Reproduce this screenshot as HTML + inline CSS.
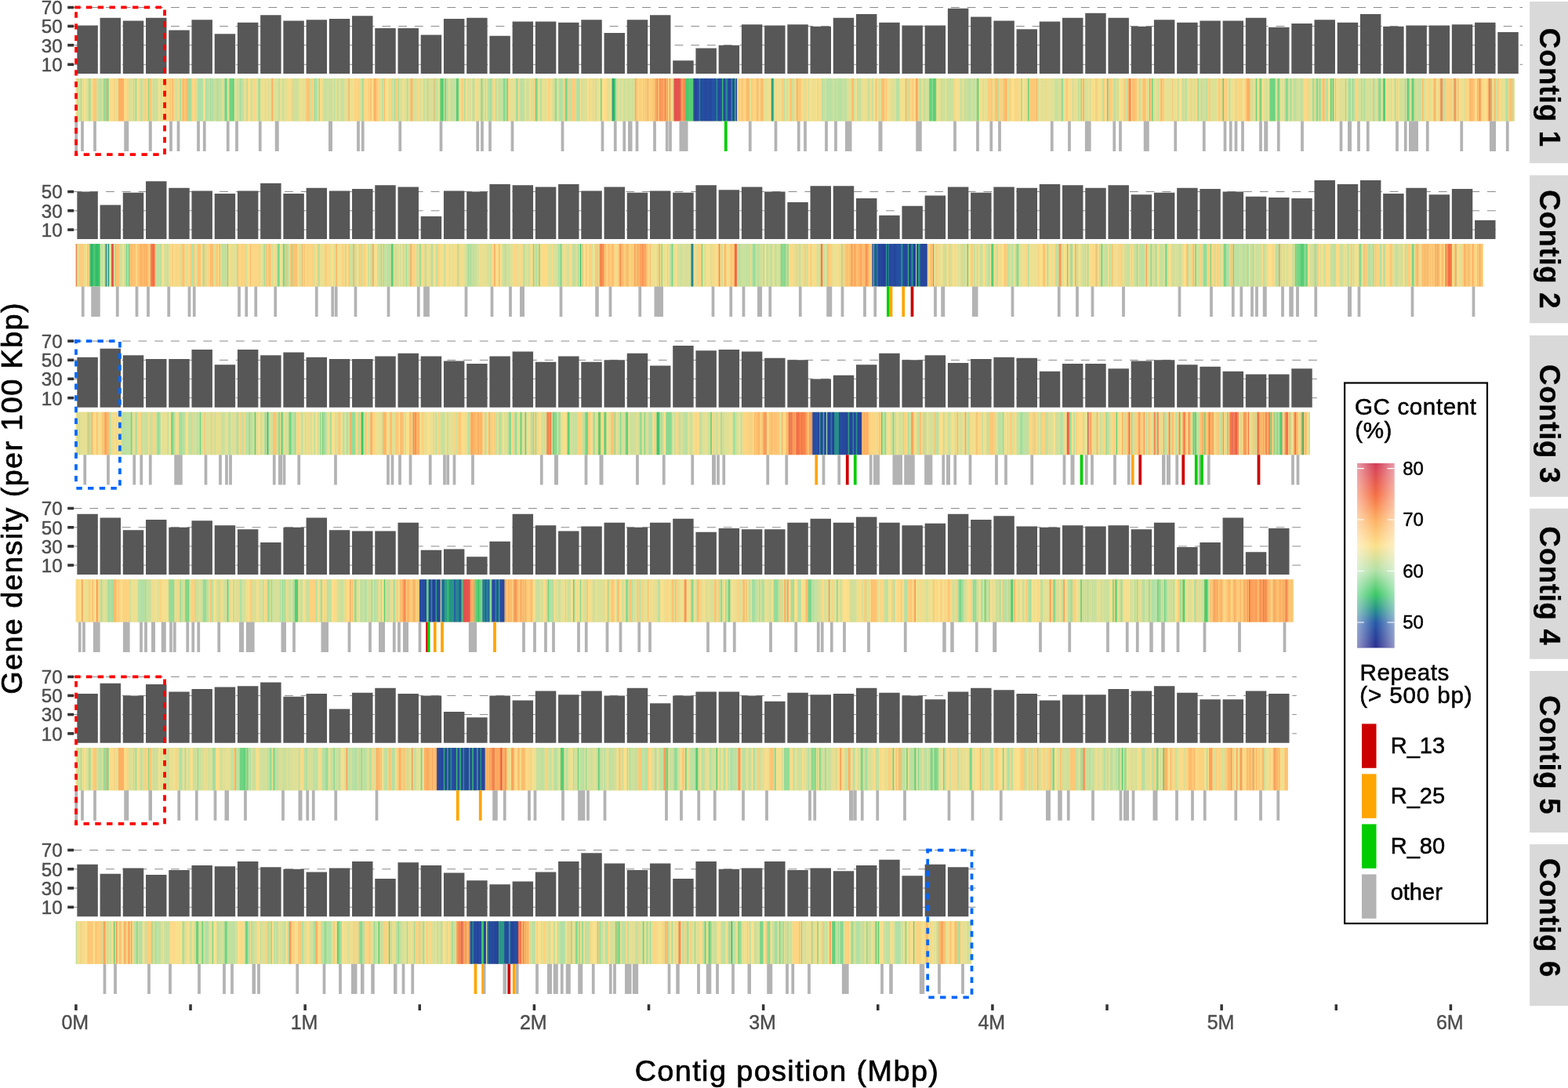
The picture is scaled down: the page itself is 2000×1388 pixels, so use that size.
<!DOCTYPE html>
<html lang="en"><head><meta charset="utf-8"><title>Contig gene density, GC content and repeats</title>
<style>html,body{margin:0;padding:0;background:#fff}body{width:2000px;height:1388px;overflow:hidden}svg{display:block}text{font-family:"Liberation Sans",Arial,Helvetica,sans-serif}.yl{font-size:24.2px;fill:#4d4d4d;text-anchor:end;stroke:#4d4d4d;stroke-width:.45px}.xl{font-size:25px;fill:#4d4d4d;text-anchor:middle;stroke:#4d4d4d;stroke-width:.4px}.st{font-size:36.5px;font-weight:bold;fill:#000;text-anchor:start;letter-spacing:0.75px;stroke:#000;stroke-width:.3px}.at{font-size:37.8px;fill:#000;text-anchor:middle;letter-spacing:1.4px;stroke:#000;stroke-width:.7px}.lt{font-size:29.6px;fill:#000;letter-spacing:.6px;stroke:#000;stroke-width:.55px}.ll{font-size:29px;fill:#000;stroke:#000;stroke-width:.5px}.cl{font-size:24px;fill:#000;stroke:#000;stroke-width:.45px}</style></head><body>
<svg width="2000" height="1388" viewBox="0 0 2000 1388">
<defs><linearGradient id="cb" x1="0" y1="0" x2="0" y2="1">
<stop offset="0.19%" stop-color="#d03a54"/>
<stop offset="2.97%" stop-color="#d94556"/>
<stop offset="16.84%" stop-color="#f46d43"/>
<stop offset="30.72%" stop-color="#fdb062"/>
<stop offset="44.59%" stop-color="#fce08b"/>
<stop offset="58.46%" stop-color="#b0e0a6"/>
<stop offset="70.95%" stop-color="#3cc866"/>
<stop offset="79.83%" stop-color="#248c8c"/>
<stop offset="86.21%" stop-color="#2559a7"/>
<stop offset="100%" stop-color="#2b2d8e"/>
</linearGradient><linearGradient id="cw" x1="0" y1="0" x2="1" y2="0"><stop offset="0" stop-color="#fff" stop-opacity="0.5"/><stop offset="0.5" stop-color="#fff" stop-opacity="0"/><stop offset="1" stop-color="#fff" stop-opacity="0.5"/></linearGradient></defs>
<rect width="2000" height="1388" fill="#fff"/>
<g id="panel1">
<line x1="93.6" x2="1942" y1="82.28" y2="82.28" stroke="#8a8a8a" stroke-width="1" stroke-dasharray="10.8 9.929"/>
<line x1="93.6" x2="1942" y1="57.64" y2="57.64" stroke="#8a8a8a" stroke-width="1" stroke-dasharray="10.8 9.929"/>
<line x1="93.6" x2="1942" y1="33.43" y2="33.43" stroke="#8a8a8a" stroke-width="1" stroke-dasharray="10.8 9.929"/>
<line x1="93.6" x2="1942" y1="9.5" y2="9.5" stroke="#8a8a8a" stroke-width="1" stroke-dasharray="10.8 9.929"/>
<path fill="#575757" d="M98.35 32.44h26.45v61.61h-26.45zM127.57 22.76h26.45v71.29h-26.45zM156.8 26.39h26.45v67.66h-26.45zM186.03 22.76h26.45v71.29h-26.45zM215.25 38.49h26.45v55.56h-26.45zM244.47 25.18h26.45v68.87h-26.45zM273.7 43.33h26.45v50.72h-26.45zM302.93 28.81h26.45v65.24h-26.45zM332.15 19.13h26.45v74.92h-26.45zM361.38 26.39h26.45v67.66h-26.45zM390.6 25.18h26.45v68.87h-26.45zM419.83 23.97h26.45v70.08h-26.45zM449.05 20.34h26.45v73.71h-26.45zM478.27 36.07h26.45v57.98h-26.45zM507.5 36.07h26.45v57.98h-26.45zM536.73 44.54h26.45v49.51h-26.45zM565.95 23.97h26.45v70.08h-26.45zM595.18 22.76h26.45v71.29h-26.45zM624.4 45.75h26.45v48.3h-26.45zM653.62 27.6h26.45v66.45h-26.45zM682.85 27.6h26.45v66.45h-26.45zM712.08 28.81h26.45v65.24h-26.45zM741.3 25.18h26.45v68.87h-26.45zM770.53 42.12h26.45v51.93h-26.45zM799.75 25.18h26.45v68.87h-26.45zM828.98 19.13h26.45v74.92h-26.45zM858.2 77.21h26.45v16.84h-26.45zM887.43 61.48h26.45v32.57h-26.45zM916.65 57.85h26.45v36.2h-26.45zM945.88 31.23h26.45v62.82h-26.45zM975.1 32.44h26.45v61.61h-26.45zM1004.33 31.23h26.45v62.82h-26.45zM1033.55 33.65h26.45v60.4h-26.45zM1062.78 22.76h26.45v71.29h-26.45zM1092 17.92h26.45v76.13h-26.45zM1121.22 28.81h26.45v65.24h-26.45zM1150.45 32.44h26.45v61.61h-26.45zM1179.67 32.44h26.45v61.61h-26.45zM1208.9 10.66h26.45v83.39h-26.45zM1238.12 21.55h26.45v72.5h-26.45zM1267.35 26.39h26.45v67.66h-26.45zM1296.58 37.28h26.45v56.77h-26.45zM1325.8 27.6h26.45v66.45h-26.45zM1355.02 22.76h26.45v71.29h-26.45zM1384.25 16.71h26.45v77.34h-26.45zM1413.47 22.76h26.45v71.29h-26.45zM1442.7 33.65h26.45v60.4h-26.45zM1471.92 25.18h26.45v68.87h-26.45zM1501.15 28.81h26.45v65.24h-26.45zM1530.38 26.39h26.45v67.66h-26.45zM1559.6 26.39h26.45v67.66h-26.45zM1588.83 22.76h26.45v71.29h-26.45zM1618.05 34.86h26.45v59.19h-26.45zM1647.28 30.02h26.45v64.03h-26.45zM1676.5 25.18h26.45v68.87h-26.45zM1705.72 28.81h26.45v65.24h-26.45zM1734.95 17.92h26.45v76.13h-26.45zM1764.17 33.65h26.45v60.4h-26.45zM1793.4 32.44h26.45v61.61h-26.45zM1822.62 32.44h26.45v61.61h-26.45zM1851.85 31.23h26.45v62.82h-26.45zM1881.08 28.81h26.45v65.24h-26.45zM1910.3 40.91h26.45v53.14h-26.45z"/>
<rect x="96.75" y="100.1" width="1835" height="54.45" fill="#ecdc92"/>
<rect x="232.65" y="100.6" width="8.77" height="53.45" fill="#fdbe6e"/>
<rect x="294.03" y="100.6" width="4.38" height="53.45" fill="#63d07b"/>
<rect x="780.64" y="100.6" width="4.38" height="53.45" fill="#3cc866"/>
<rect x="859.55" y="100.6" width="8.77" height="53.45" fill="#e4554e"/>
<rect x="868.32" y="100.6" width="7.31" height="53.45" fill="#f8884f"/>
<rect x="875.62" y="100.6" width="10.23" height="53.45" fill="#58ce76"/>
<rect x="885.85" y="100.6" width="55.53" height="53.45" fill="#27499e"/>
<rect x="1185.42" y="100.6" width="8.77" height="53.45" fill="#6ad280"/>
<rect x="1065.59" y="100.6" width="14.61" height="53.45" fill="#bfe0a1"/>
<path fill="#fcdb87" d="M96.75 100.1h1.46v54.45h-1.46zM111.36 100.1h1.46v54.45h-1.46zM117.21 100.1h1.46v54.45h-1.46zM140.59 100.1h4.38v54.45h-4.38zM159.59 100.1h1.46v54.45h-1.46zM175.66 100.1h2.92v54.45h-2.92zM209.27 100.1h1.46v54.45h-1.46zM226.81 100.1h1.46v54.45h-1.46zM231.19 100.1h1.46v54.45h-1.46zM315.94 100.1h1.46v54.45h-1.46zM367.09 100.1h1.46v54.45h-1.46zM409.47 100.1h1.46v54.45h-1.46zM446 100.1h1.46v54.45h-1.46zM466.46 100.1h2.92v54.45h-2.92zM470.84 100.1h1.46v54.45h-1.46zM475.23 100.1h1.46v54.45h-1.46zM482.53 100.1h1.46v54.45h-1.46zM485.46 100.1h1.46v54.45h-1.46zM533.68 100.1h1.46v54.45h-1.46zM542.45 100.1h1.46v54.45h-1.46zM605.28 100.1h2.92v54.45h-2.92zM630.12 100.1h1.46v54.45h-1.46zM660.81 100.1h1.46v54.45h-1.46zM739.72 100.1h1.46v54.45h-1.46zM752.87 100.1h2.92v54.45h-2.92zM771.87 100.1h2.92v54.45h-2.92zM967.68 100.1h1.46v54.45h-1.46zM980.84 100.1h2.92v54.45h-2.92zM1021.75 100.1h2.92v54.45h-2.92zM1039.29 100.1h1.46v54.45h-1.46zM1043.67 100.1h4.38v54.45h-4.38zM1109.43 100.1h1.46v54.45h-1.46zM1194.19 100.1h1.46v54.45h-1.46zM1365.16 100.1h1.46v54.45h-1.46zM1379.77 100.1h1.46v54.45h-1.46zM1403.15 100.1h2.92v54.45h-2.92zM1451.38 100.1h1.46v54.45h-1.46zM1525.9 100.1h1.46v54.45h-1.46zM1556.59 100.1h1.46v54.45h-1.46zM1574.12 100.1h1.46v54.45h-1.46zM1663.26 100.1h2.92v54.45h-2.92zM1685.18 100.1h1.46v54.45h-1.46zM1749.48 100.1h1.46v54.45h-1.46zM1780.17 100.1h1.46v54.45h-1.46zM1797.7 100.1h1.46v54.45h-1.46zM1819.62 100.1h1.46v54.45h-1.46zM1834.24 100.1h1.46v54.45h-1.46zM1866.38 100.1h1.46v54.45h-1.46zM1882.46 100.1h1.46v54.45h-1.46zM1911.68 100.1h2.92v54.45h-2.92z"/>
<path fill="#cee09b" d="M98.21 100.1h1.46v54.45h-1.46zM123.05 100.1h2.92v54.45h-2.92zM197.58 100.1h4.38v54.45h-4.38zM228.27 100.1h1.46v54.45h-1.46zM301.33 100.1h2.92v54.45h-2.92zM361.25 100.1h1.46v54.45h-1.46zM372.94 100.1h7.31v54.45h-7.31zM416.77 100.1h2.92v54.45h-2.92zM431.39 100.1h1.46v54.45h-1.46zM443.08 100.1h1.46v54.45h-1.46zM495.68 100.1h1.46v54.45h-1.46zM498.61 100.1h4.38v54.45h-4.38zM535.14 100.1h1.46v54.45h-1.46zM557.06 100.1h1.46v54.45h-1.46zM627.2 100.1h1.46v54.45h-1.46zM644.74 100.1h1.46v54.45h-1.46zM671.04 100.1h2.92v54.45h-2.92zM711.96 100.1h1.46v54.45h-1.46zM799.64 100.1h4.38v54.45h-4.38zM805.48 100.1h2.92v54.45h-2.92zM1010.06 100.1h2.92v54.45h-2.92zM1074.36 100.1h1.46v54.45h-1.46zM1156.19 100.1h1.46v54.45h-1.46zM1179.57 100.1h1.46v54.45h-1.46zM1182.5 100.1h2.92v54.45h-2.92zM1201.49 100.1h2.92v54.45h-2.92zM1208.8 100.1h1.46v54.45h-1.46zM1213.18 100.1h2.92v54.45h-2.92zM1229.26 100.1h1.46v54.45h-1.46zM1238.03 100.1h4.38v54.45h-4.38zM1254.1 100.1h1.46v54.45h-1.46zM1286.25 100.1h1.46v54.45h-1.46zM1344.7 100.1h1.46v54.45h-1.46zM1435.3 100.1h2.92v54.45h-2.92zM1501.06 100.1h2.92v54.45h-2.92zM1528.82 100.1h1.46v54.45h-1.46zM1533.21 100.1h4.38v54.45h-4.38zM1575.59 100.1h1.46v54.45h-1.46zM1597.51 100.1h1.46v54.45h-1.46zM1615.04 100.1h1.46v54.45h-1.46zM1653.03 100.1h1.46v54.45h-1.46zM1657.42 100.1h1.46v54.45h-1.46zM1727.56 100.1h1.46v54.45h-1.46zM1734.87 100.1h1.46v54.45h-1.46zM1746.56 100.1h2.92v54.45h-2.92zM1786.01 100.1h1.46v54.45h-1.46zM1790.4 100.1h1.46v54.45h-1.46zM1803.55 100.1h1.46v54.45h-1.46zM1867.85 100.1h1.46v54.45h-1.46z"/>
<path fill="#c7e09e" d="M99.67 100.1h1.46v54.45h-1.46zM128.9 100.1h1.46v54.45h-1.46zM194.66 100.1h2.92v54.45h-2.92zM204.89 100.1h1.46v54.45h-1.46zM248.73 100.1h1.46v54.45h-1.46zM273.57 100.1h2.92v54.45h-2.92zM282.34 100.1h1.46v54.45h-1.46zM304.25 100.1h1.46v54.45h-1.46zM308.64 100.1h2.92v54.45h-2.92zM320.33 100.1h1.46v54.45h-1.46zM345.17 100.1h1.46v54.45h-1.46zM359.78 100.1h1.46v54.45h-1.46zM412.39 100.1h4.38v54.45h-4.38zM419.7 100.1h2.92v54.45h-2.92zM434.31 100.1h4.38v54.45h-4.38zM488.38 100.1h1.46v54.45h-1.46zM539.52 100.1h2.92v54.45h-2.92zM555.6 100.1h1.46v54.45h-1.46zM577.52 100.1h4.38v54.45h-4.38zM584.82 100.1h1.46v54.45h-1.46zM631.59 100.1h2.92v54.45h-2.92zM668.12 100.1h1.46v54.45h-1.46zM704.65 100.1h1.46v54.45h-1.46zM726.57 100.1h1.46v54.45h-1.46zM733.88 100.1h1.46v54.45h-1.46zM760.18 100.1h1.46v54.45h-1.46zM795.25 100.1h2.92v54.45h-2.92zM957.46 100.1h1.46v54.45h-1.46zM986.68 100.1h1.46v54.45h-1.46zM1049.52 100.1h2.92v54.45h-2.92zM1067.05 100.1h1.46v54.45h-1.46zM1075.82 100.1h1.46v54.45h-1.46zM1088.97 100.1h1.46v54.45h-1.46zM1106.51 100.1h2.92v54.45h-2.92zM1157.65 100.1h1.46v54.45h-1.46zM1204.42 100.1h1.46v54.45h-1.46zM1211.72 100.1h1.46v54.45h-1.46zM1232.18 100.1h2.92v54.45h-2.92zM1278.94 100.1h1.46v54.45h-1.46zM1346.16 100.1h2.92v54.45h-2.92zM1518.59 100.1h1.46v54.45h-1.46zM1566.82 100.1h2.92v54.45h-2.92zM1648.65 100.1h1.46v54.45h-1.46zM1654.5 100.1h1.46v54.45h-1.46zM1740.71 100.1h1.46v54.45h-1.46zM1774.32 100.1h1.46v54.45h-1.46zM1809.39 100.1h1.46v54.45h-1.46zM1835.7 100.1h1.46v54.45h-1.46z"/>
<path fill="#fcd683" d="M101.13 100.1h1.46v54.45h-1.46zM161.05 100.1h2.92v54.45h-2.92zM187.35 100.1h1.46v54.45h-1.46zM212.19 100.1h2.92v54.45h-2.92zM244.34 100.1h4.38v54.45h-4.38zM323.25 100.1h2.92v54.45h-2.92zM453.31 100.1h2.92v54.45h-2.92zM463.54 100.1h2.92v54.45h-2.92zM497.15 100.1h1.46v54.45h-1.46zM532.22 100.1h1.46v54.45h-1.46zM587.75 100.1h1.46v54.45h-1.46zM628.66 100.1h1.46v54.45h-1.46zM818.63 100.1h1.46v54.45h-1.46zM856.63 100.1h1.46v54.45h-1.46zM939.92 100.1h2.92v54.45h-2.92zM947.23 100.1h4.38v54.45h-4.38zM960.38 100.1h4.38v54.45h-4.38zM1027.6 100.1h1.46v54.45h-1.46zM1160.58 100.1h2.92v54.45h-2.92zM1164.96 100.1h1.46v54.45h-1.46zM1293.55 100.1h5.85v54.45h-5.85zM1319.86 100.1h1.46v54.45h-1.46zM1479.14 100.1h1.46v54.45h-1.46zM1517.13 100.1h1.46v54.45h-1.46zM1524.44 100.1h1.46v54.45h-1.46zM1577.05 100.1h4.38v54.45h-4.38zM1587.28 100.1h1.46v54.45h-1.46zM1666.19 100.1h1.46v54.45h-1.46zM1669.11 100.1h1.46v54.45h-1.46zM1676.42 100.1h1.46v54.45h-1.46zM1729.02 100.1h2.92v54.45h-2.92zM1821.08 100.1h2.92v54.45h-2.92zM1869.31 100.1h1.46v54.45h-1.46zM1891.23 100.1h1.46v54.45h-1.46zM1895.61 100.1h1.46v54.45h-1.46z"/>
<path fill="#a3dd9f" d="M102.6 100.1h1.46v54.45h-1.46zM112.82 100.1h2.92v54.45h-2.92zM229.73 100.1h1.46v54.45h-1.46zM239.96 100.1h4.38v54.45h-4.38zM267.72 100.1h1.46v54.45h-1.46zM276.49 100.1h1.46v54.45h-1.46zM305.72 100.1h1.46v54.45h-1.46zM329.1 100.1h2.92v54.45h-2.92zM502.99 100.1h1.46v54.45h-1.46zM507.38 100.1h1.46v54.45h-1.46zM519.07 100.1h1.46v54.45h-1.46zM552.68 100.1h1.46v54.45h-1.46zM592.13 100.1h1.46v54.45h-1.46zM612.59 100.1h1.46v54.45h-1.46zM624.28 100.1h2.92v54.45h-2.92zM657.89 100.1h2.92v54.45h-2.92zM1375.39 100.1h1.46v54.45h-1.46zM1673.49 100.1h2.92v54.45h-2.92zM1683.72 100.1h1.46v54.45h-1.46zM1702.72 100.1h1.46v54.45h-1.46zM1720.25 100.1h2.92v54.45h-2.92zM1736.33 100.1h1.46v54.45h-1.46zM1739.25 100.1h1.46v54.45h-1.46zM1750.94 100.1h1.46v54.45h-1.46zM1778.71 100.1h1.46v54.45h-1.46zM1791.86 100.1h1.46v54.45h-1.46z"/>
<path fill="#dee096" d="M104.06 100.1h2.92v54.45h-2.92zM193.2 100.1h1.46v54.45h-1.46zM222.42 100.1h1.46v54.45h-1.46zM318.87 100.1h1.46v54.45h-1.46zM348.09 100.1h7.31v54.45h-7.31zM427 100.1h1.46v54.45h-1.46zM438.69 100.1h1.46v54.45h-1.46zM520.53 100.1h2.92v54.45h-2.92zM530.76 100.1h1.46v54.45h-1.46zM558.52 100.1h1.46v54.45h-1.46zM597.98 100.1h1.46v54.45h-1.46zM676.89 100.1h1.46v54.45h-1.46zM695.88 100.1h1.46v54.45h-1.46zM706.11 100.1h1.46v54.45h-1.46zM744.11 100.1h2.92v54.45h-2.92zM751.41 100.1h1.46v54.45h-1.46zM793.79 100.1h1.46v54.45h-1.46zM992.53 100.1h1.46v54.45h-1.46zM1024.68 100.1h2.92v54.45h-2.92zM1080.2 100.1h4.38v54.45h-4.38zM1122.58 100.1h1.46v54.45h-1.46zM1137.2 100.1h5.85v54.45h-5.85zM1226.33 100.1h2.92v54.45h-2.92zM1324.24 100.1h1.46v54.45h-1.46zM1327.16 100.1h2.92v54.45h-2.92zM1341.78 100.1h1.46v54.45h-1.46zM1419.23 100.1h1.46v54.45h-1.46zM1432.38 100.1h1.46v54.45h-1.46zM1464.53 100.1h1.46v54.45h-1.46zM1474.76 100.1h1.46v54.45h-1.46zM1498.14 100.1h1.46v54.45h-1.46zM1509.83 100.1h1.46v54.45h-1.46zM1521.52 100.1h2.92v54.45h-2.92zM1543.44 100.1h8.77v54.45h-8.77zM1647.19 100.1h1.46v54.45h-1.46zM1667.65 100.1h1.46v54.45h-1.46zM1670.57 100.1h1.46v54.45h-1.46zM1708.56 100.1h7.31v54.45h-7.31zM1737.79 100.1h1.46v54.45h-1.46zM1753.86 100.1h2.92v54.45h-2.92zM1762.63 100.1h1.46v54.45h-1.46zM1824.01 100.1h1.46v54.45h-1.46zM1908.76 100.1h1.46v54.45h-1.46zM1918.99 100.1h1.46v54.45h-1.46zM1930.68 100.1h1.07v54.45h-1.07z"/>
<path fill="#fce08b" d="M106.98 100.1h1.46v54.45h-1.46zM139.13 100.1h1.46v54.45h-1.46zM158.12 100.1h1.46v54.45h-1.46zM201.96 100.1h1.46v54.45h-1.46zM317.41 100.1h1.46v54.45h-1.46zM408.01 100.1h1.46v54.45h-1.46zM450.38 100.1h1.46v54.45h-1.46zM473.77 100.1h1.46v54.45h-1.46zM491.3 100.1h4.38v54.45h-4.38zM600.9 100.1h1.46v54.45h-1.46zM748.49 100.1h1.46v54.45h-1.46zM767.49 100.1h4.38v54.45h-4.38zM852.24 100.1h1.46v54.45h-1.46zM855.16 100.1h1.46v54.45h-1.46zM944.3 100.1h1.46v54.45h-1.46zM991.07 100.1h1.46v54.45h-1.46zM1029.06 100.1h1.46v54.45h-1.46zM1040.75 100.1h1.46v54.45h-1.46zM1166.42 100.1h1.46v54.45h-1.46zM1205.88 100.1h1.46v54.45h-1.46zM1289.17 100.1h4.38v54.45h-4.38zM1300.86 100.1h1.46v54.45h-1.46zM1303.78 100.1h2.92v54.45h-2.92zM1376.85 100.1h1.46v54.45h-1.46zM1392.92 100.1h1.46v54.45h-1.46zM1395.85 100.1h1.46v54.45h-1.46zM1426.53 100.1h4.38v54.45h-4.38zM1442.61 100.1h1.46v54.45h-1.46zM1499.6 100.1h1.46v54.45h-1.46zM1503.98 100.1h2.92v54.45h-2.92zM1585.81 100.1h1.46v54.45h-1.46zM1598.97 100.1h1.46v54.45h-1.46zM1626.73 100.1h1.46v54.45h-1.46zM1693.95 100.1h2.92v54.45h-2.92zM1767.02 100.1h1.46v54.45h-1.46zM1775.78 100.1h1.46v54.45h-1.46zM1783.09 100.1h1.46v54.45h-1.46zM1851.77 100.1h1.46v54.45h-1.46zM1872.23 100.1h1.46v54.45h-1.46zM1881 100.1h1.46v54.45h-1.46zM1889.77 100.1h1.46v54.45h-1.46zM1892.69 100.1h2.92v54.45h-2.92z"/>
<path fill="#f4e08e" d="M108.44 100.1h1.46v54.45h-1.46zM174.2 100.1h1.46v54.45h-1.46zM203.42 100.1h1.46v54.45h-1.46zM218.04 100.1h1.46v54.45h-1.46zM258.95 100.1h2.92v54.45h-2.92zM289.64 100.1h1.46v54.45h-1.46zM311.56 100.1h1.46v54.45h-1.46zM333.48 100.1h1.46v54.45h-1.46zM343.71 100.1h1.46v54.45h-1.46zM370.01 100.1h1.46v54.45h-1.46zM405.08 100.1h1.46v54.45h-1.46zM424.08 100.1h1.46v54.45h-1.46zM586.29 100.1h1.46v54.45h-1.46zM675.42 100.1h1.46v54.45h-1.46zM697.34 100.1h1.46v54.45h-1.46zM749.95 100.1h1.46v54.45h-1.46zM777.72 100.1h1.46v54.45h-1.46zM827.4 100.1h1.46v54.45h-1.46zM955.99 100.1h1.46v54.45h-1.46zM979.38 100.1h1.46v54.45h-1.46zM1001.29 100.1h1.46v54.45h-1.46zM1005.68 100.1h1.46v54.45h-1.46zM1031.98 100.1h4.38v54.45h-4.38zM1091.9 100.1h1.46v54.45h-1.46zM1113.81 100.1h2.92v54.45h-2.92zM1131.35 100.1h1.46v54.45h-1.46zM1148.89 100.1h5.85v54.45h-5.85zM1195.65 100.1h1.46v54.45h-1.46zM1219.03 100.1h4.38v54.45h-4.38zM1248.25 100.1h4.38v54.45h-4.38zM1255.56 100.1h1.46v54.45h-1.46zM1325.7 100.1h1.46v54.45h-1.46zM1362.24 100.1h2.92v54.45h-2.92zM1391.46 100.1h1.46v54.45h-1.46zM1394.38 100.1h1.46v54.45h-1.46zM1400.23 100.1h2.92v54.45h-2.92zM1430.92 100.1h1.46v54.45h-1.46zM1449.91 100.1h1.46v54.45h-1.46zM1455.76 100.1h1.46v54.45h-1.46zM1461.6 100.1h1.46v54.45h-1.46zM1552.2 100.1h1.46v54.45h-1.46zM1565.36 100.1h1.46v54.45h-1.46zM1569.74 100.1h1.46v54.45h-1.46zM1572.66 100.1h1.46v54.45h-1.46zM1584.35 100.1h1.46v54.45h-1.46zM1603.35 100.1h2.92v54.45h-2.92zM1609.2 100.1h2.92v54.45h-2.92zM1636.96 100.1h1.46v54.45h-1.46zM1672.03 100.1h1.46v54.45h-1.46zM1701.26 100.1h1.46v54.45h-1.46zM1825.47 100.1h2.92v54.45h-2.92zM1862 100.1h1.46v54.45h-1.46z"/>
<path fill="#d6e098" d="M109.9 100.1h1.46v54.45h-1.46zM130.36 100.1h1.46v54.45h-1.46zM163.97 100.1h4.38v54.45h-4.38zM171.28 100.1h1.46v54.45h-1.46zM181.51 100.1h2.92v54.45h-2.92zM223.88 100.1h2.92v54.45h-2.92zM291.1 100.1h1.46v54.45h-1.46zM298.41 100.1h1.46v54.45h-1.46zM337.86 100.1h1.46v54.45h-1.46zM342.25 100.1h1.46v54.45h-1.46zM380.24 100.1h1.46v54.45h-1.46zM459.15 100.1h2.92v54.45h-2.92zM483.99 100.1h1.46v54.45h-1.46zM508.84 100.1h4.38v54.45h-4.38zM517.6 100.1h1.46v54.45h-1.46zM526.37 100.1h4.38v54.45h-4.38zM548.29 100.1h4.38v54.45h-4.38zM565.83 100.1h1.46v54.45h-1.46zM573.13 100.1h1.46v54.45h-1.46zM596.51 100.1h1.46v54.45h-1.46zM599.44 100.1h1.46v54.45h-1.46zM638.89 100.1h1.46v54.45h-1.46zM662.27 100.1h1.46v54.45h-1.46zM673.96 100.1h1.46v54.45h-1.46zM678.35 100.1h1.46v54.45h-1.46zM741.18 100.1h2.92v54.45h-2.92zM747.03 100.1h1.46v54.45h-1.46zM755.8 100.1h1.46v54.45h-1.46zM774.79 100.1h1.46v54.45h-1.46zM798.17 100.1h1.46v54.45h-1.46zM804.02 100.1h1.46v54.45h-1.46zM808.4 100.1h1.46v54.45h-1.46zM1002.76 100.1h2.92v54.45h-2.92zM1030.52 100.1h1.46v54.45h-1.46zM1042.21 100.1h1.46v54.45h-1.46zM1052.44 100.1h1.46v54.45h-1.46zM1062.67 100.1h1.46v54.45h-1.46zM1094.82 100.1h1.46v54.45h-1.46zM1121.12 100.1h1.46v54.45h-1.46zM1176.65 100.1h1.46v54.45h-1.46zM1181.03 100.1h1.46v54.45h-1.46zM1197.11 100.1h1.46v54.45h-1.46zM1349.08 100.1h2.92v54.45h-2.92zM1382.69 100.1h4.38v54.45h-4.38zM1390 100.1h1.46v54.45h-1.46zM1398.77 100.1h1.46v54.45h-1.46zM1454.3 100.1h1.46v54.45h-1.46zM1463.07 100.1h1.46v54.45h-1.46zM1470.37 100.1h2.92v54.45h-2.92zM1476.22 100.1h2.92v54.45h-2.92zM1530.29 100.1h1.46v54.45h-1.46zM1582.89 100.1h1.46v54.45h-1.46zM1594.58 100.1h2.92v54.45h-2.92zM1613.58 100.1h1.46v54.45h-1.46zM1635.5 100.1h1.46v54.45h-1.46zM1642.81 100.1h2.92v54.45h-2.92zM1655.96 100.1h1.46v54.45h-1.46zM1680.8 100.1h1.46v54.45h-1.46zM1689.57 100.1h1.46v54.45h-1.46zM1731.94 100.1h2.92v54.45h-2.92zM1742.17 100.1h4.38v54.45h-4.38zM1761.17 100.1h1.46v54.45h-1.46zM1784.55 100.1h1.46v54.45h-1.46zM1787.47 100.1h2.92v54.45h-2.92zM1806.47 100.1h1.46v54.45h-1.46z"/>
<path fill="#e5e093" d="M115.75 100.1h1.46v54.45h-1.46zM146.43 100.1h2.92v54.45h-2.92zM168.35 100.1h1.46v54.45h-1.46zM250.19 100.1h1.46v54.45h-1.46zM299.87 100.1h1.46v54.45h-1.46zM321.79 100.1h1.46v54.45h-1.46zM326.17 100.1h1.46v54.45h-1.46zM332.02 100.1h1.46v54.45h-1.46zM340.79 100.1h1.46v54.45h-1.46zM362.71 100.1h4.38v54.45h-4.38zM386.09 100.1h4.38v54.45h-4.38zM399.24 100.1h1.46v54.45h-1.46zM410.93 100.1h1.46v54.45h-1.46zM428.47 100.1h1.46v54.45h-1.46zM432.85 100.1h1.46v54.45h-1.46zM440.16 100.1h2.92v54.45h-2.92zM516.14 100.1h1.46v54.45h-1.46zM559.98 100.1h1.46v54.45h-1.46zM571.67 100.1h1.46v54.45h-1.46zM590.67 100.1h1.46v54.45h-1.46zM608.21 100.1h4.38v54.45h-4.38zM616.97 100.1h1.46v54.45h-1.46zM634.51 100.1h1.46v54.45h-1.46zM649.12 100.1h8.77v54.45h-8.77zM692.96 100.1h2.92v54.45h-2.92zM757.26 100.1h1.46v54.45h-1.46zM776.25 100.1h1.46v54.45h-1.46zM787.94 100.1h2.92v54.45h-2.92zM974.99 100.1h4.38v54.45h-4.38zM1012.99 100.1h2.92v54.45h-2.92zM1084.59 100.1h1.46v54.45h-1.46zM1097.74 100.1h2.92v54.45h-2.92zM1103.59 100.1h1.46v54.45h-1.46zM1110.89 100.1h1.46v54.45h-1.46zM1118.2 100.1h2.92v54.45h-2.92zM1128.43 100.1h1.46v54.45h-1.46zM1135.73 100.1h1.46v54.45h-1.46zM1243.87 100.1h1.46v54.45h-1.46zM1252.64 100.1h1.46v54.45h-1.46zM1257.02 100.1h2.92v54.45h-2.92zM1265.79 100.1h2.92v54.45h-2.92zM1299.4 100.1h1.46v54.45h-1.46zM1306.71 100.1h2.92v54.45h-2.92zM1330.09 100.1h2.92v54.45h-2.92zM1334.47 100.1h7.31v54.45h-7.31zM1343.24 100.1h1.46v54.45h-1.46zM1352.01 100.1h1.46v54.45h-1.46zM1371 100.1h4.38v54.45h-4.38zM1387.08 100.1h2.92v54.45h-2.92zM1423.61 100.1h1.46v54.45h-1.46zM1486.45 100.1h8.77v54.45h-8.77zM1506.9 100.1h1.46v54.45h-1.46zM1520.06 100.1h1.46v54.45h-1.46zM1612.12 100.1h1.46v54.45h-1.46zM1616.5 100.1h2.92v54.45h-2.92zM1707.1 100.1h1.46v54.45h-1.46zM1723.18 100.1h1.46v54.45h-1.46zM1769.94 100.1h4.38v54.45h-4.38zM1777.25 100.1h1.46v54.45h-1.46zM1812.32 100.1h1.46v54.45h-1.46zM1816.7 100.1h1.46v54.45h-1.46zM1902.92 100.1h2.92v54.45h-2.92zM1914.61 100.1h2.92v54.45h-2.92z"/>
<path fill="#fcc876" d="M118.67 100.1h4.38v54.45h-4.38zM210.73 100.1h1.46v54.45h-1.46zM479.61 100.1h1.46v54.45h-1.46zM589.21 100.1h1.46v54.45h-1.46zM815.71 100.1h1.46v54.45h-1.46zM820.09 100.1h1.46v54.45h-1.46zM823.02 100.1h1.46v54.45h-1.46zM831.78 100.1h2.92v54.45h-2.92zM839.09 100.1h1.46v54.45h-1.46zM942.84 100.1h1.46v54.45h-1.46zM1017.37 100.1h4.38v54.45h-4.38zM1129.89 100.1h1.46v54.45h-1.46zM1163.5 100.1h1.46v54.45h-1.46zM1314.01 100.1h4.38v54.45h-4.38zM1397.31 100.1h1.46v54.45h-1.46zM1407.54 100.1h1.46v54.45h-1.46zM1433.84 100.1h1.46v54.45h-1.46zM1483.52 100.1h1.46v54.45h-1.46zM1495.21 100.1h1.46v54.45h-1.46zM1541.98 100.1h1.46v54.45h-1.46zM1588.74 100.1h1.46v54.45h-1.46zM1850.31 100.1h1.46v54.45h-1.46zM1910.22 100.1h1.46v54.45h-1.46z"/>
<path fill="#b8e0a3" d="M125.98 100.1h2.92v54.45h-2.92zM169.81 100.1h1.46v54.45h-1.46zM425.54 100.1h1.46v54.45h-1.46zM486.92 100.1h1.46v54.45h-1.46zM543.91 100.1h2.92v54.45h-2.92zM568.75 100.1h2.92v54.45h-2.92zM574.6 100.1h1.46v54.45h-1.46zM602.36 100.1h1.46v54.45h-1.46zM618.43 100.1h1.46v54.45h-1.46zM621.36 100.1h2.92v54.45h-2.92zM665.2 100.1h2.92v54.45h-2.92zM688.58 100.1h2.92v54.45h-2.92zM1055.36 100.1h5.85v54.45h-5.85zM1069.98 100.1h4.38v54.45h-4.38zM1096.28 100.1h1.46v54.45h-1.46zM1143.04 100.1h4.38v54.45h-4.38zM1200.03 100.1h1.46v54.45h-1.46zM1207.34 100.1h1.46v54.45h-1.46zM1224.87 100.1h1.46v54.45h-1.46zM1235.1 100.1h2.92v54.45h-2.92zM1242.41 100.1h1.46v54.45h-1.46zM1322.78 100.1h1.46v54.45h-1.46zM1368.08 100.1h1.46v54.45h-1.46zM1406.07 100.1h1.46v54.45h-1.46zM1413.38 100.1h1.46v54.45h-1.46zM1420.69 100.1h1.46v54.45h-1.46zM1425.07 100.1h1.46v54.45h-1.46zM1508.37 100.1h1.46v54.45h-1.46zM1511.29 100.1h2.92v54.45h-2.92zM1531.75 100.1h1.46v54.45h-1.46zM1638.42 100.1h1.46v54.45h-1.46zM1650.11 100.1h2.92v54.45h-2.92zM1658.88 100.1h1.46v54.45h-1.46zM1677.88 100.1h1.46v54.45h-1.46zM1691.03 100.1h2.92v54.45h-2.92zM1718.79 100.1h1.46v54.45h-1.46zM1756.79 100.1h1.46v54.45h-1.46zM1799.16 100.1h1.46v54.45h-1.46zM1805.01 100.1h1.46v54.45h-1.46zM1929.22 100.1h1.46v54.45h-1.46z"/>
<path fill="#96db98" d="M131.82 100.1h4.38v54.45h-4.38zM137.67 100.1h1.46v54.45h-1.46zM172.74 100.1h1.46v54.45h-1.46zM400.7 100.1h1.46v54.45h-1.46zM406.55 100.1h1.46v54.45h-1.46zM462.07 100.1h1.46v54.45h-1.46zM707.57 100.1h2.92v54.45h-2.92zM1188.34 100.1h1.46v54.45h-1.46zM1245.33 100.1h1.46v54.45h-1.46zM1302.32 100.1h1.46v54.45h-1.46zM1353.47 100.1h2.92v54.45h-2.92zM1527.36 100.1h1.46v54.45h-1.46zM1645.73 100.1h1.46v54.45h-1.46zM1682.26 100.1h1.46v54.45h-1.46zM1715.87 100.1h1.46v54.45h-1.46zM1724.64 100.1h1.46v54.45h-1.46z"/>
<path fill="#f99556" d="M136.21 100.1h1.46v54.45h-1.46zM840.55 100.1h1.46v54.45h-1.46zM843.47 100.1h1.46v54.45h-1.46zM853.7 100.1h1.46v54.45h-1.46zM868.32 100.1h1.46v54.45h-1.46zM1856.16 100.1h1.46v54.45h-1.46z"/>
<path fill="#fcd27f" d="M144.97 100.1h1.46v54.45h-1.46zM185.89 100.1h1.46v54.45h-1.46zM215.12 100.1h1.46v54.45h-1.46zM220.96 100.1h1.46v54.45h-1.46zM313.02 100.1h1.46v54.45h-1.46zM371.47 100.1h1.46v54.45h-1.46zM396.32 100.1h1.46v54.45h-1.46zM451.85 100.1h1.46v54.45h-1.46zM456.23 100.1h2.92v54.45h-2.92zM546.83 100.1h1.46v54.45h-1.46zM647.66 100.1h1.46v54.45h-1.46zM679.81 100.1h2.92v54.45h-2.92zM698.81 100.1h2.92v54.45h-2.92zM717.8 100.1h2.92v54.45h-2.92zM758.72 100.1h1.46v54.45h-1.46zM812.79 100.1h2.92v54.45h-2.92zM817.17 100.1h1.46v54.45h-1.46zM989.6 100.1h1.46v54.45h-1.46zM1216.11 100.1h1.46v54.45h-1.46zM1274.56 100.1h4.38v54.45h-4.38zM1309.63 100.1h1.46v54.45h-1.46zM1312.55 100.1h1.46v54.45h-1.46zM1333.01 100.1h1.46v54.45h-1.46zM1417.77 100.1h1.46v54.45h-1.46zM1540.51 100.1h1.46v54.45h-1.46zM1560.97 100.1h2.92v54.45h-2.92zM1581.43 100.1h1.46v54.45h-1.46zM1661.8 100.1h1.46v54.45h-1.46zM1844.46 100.1h5.85v54.45h-5.85zM1870.77 100.1h1.46v54.45h-1.46zM1897.07 100.1h1.46v54.45h-1.46zM1923.38 100.1h1.46v54.45h-1.46z"/>
<path fill="#ede090" d="M149.36 100.1h1.46v54.45h-1.46zM206.35 100.1h2.92v54.45h-2.92zM283.8 100.1h1.46v54.45h-1.46zM327.64 100.1h1.46v54.45h-1.46zM334.94 100.1h2.92v54.45h-2.92zM339.33 100.1h1.46v54.45h-1.46zM356.86 100.1h2.92v54.45h-2.92zM368.55 100.1h1.46v54.45h-1.46zM381.7 100.1h4.38v54.45h-4.38zM447.46 100.1h2.92v54.45h-2.92zM513.22 100.1h2.92v54.45h-2.92zM536.6 100.1h2.92v54.45h-2.92zM593.59 100.1h2.92v54.45h-2.92zM619.9 100.1h1.46v54.45h-1.46zM669.58 100.1h1.46v54.45h-1.46zM685.65 100.1h2.92v54.45h-2.92zM691.5 100.1h1.46v54.45h-1.46zM701.73 100.1h2.92v54.45h-2.92zM710.5 100.1h1.46v54.45h-1.46zM761.64 100.1h4.38v54.45h-4.38zM779.18 100.1h1.46v54.45h-1.46zM792.33 100.1h1.46v54.45h-1.46zM973.53 100.1h1.46v54.45h-1.46zM988.14 100.1h1.46v54.45h-1.46zM993.99 100.1h2.92v54.45h-2.92zM1036.37 100.1h2.92v54.45h-2.92zM1090.43 100.1h1.46v54.45h-1.46zM1100.66 100.1h2.92v54.45h-2.92zM1105.05 100.1h1.46v54.45h-1.46zM1132.81 100.1h2.92v54.45h-2.92zM1147.42 100.1h1.46v54.45h-1.46zM1170.81 100.1h1.46v54.45h-1.46zM1175.19 100.1h1.46v54.45h-1.46zM1198.57 100.1h1.46v54.45h-1.46zM1217.57 100.1h1.46v54.45h-1.46zM1223.41 100.1h1.46v54.45h-1.46zM1284.79 100.1h1.46v54.45h-1.46zM1356.39 100.1h2.92v54.45h-2.92zM1366.62 100.1h1.46v54.45h-1.46zM1369.54 100.1h1.46v54.45h-1.46zM1409 100.1h2.92v54.45h-2.92zM1467.45 100.1h1.46v54.45h-1.46zM1473.29 100.1h1.46v54.45h-1.46zM1484.99 100.1h1.46v54.45h-1.46zM1496.68 100.1h1.46v54.45h-1.46zM1514.21 100.1h2.92v54.45h-2.92zM1571.2 100.1h1.46v54.45h-1.46zM1632.58 100.1h2.92v54.45h-2.92zM1704.18 100.1h2.92v54.45h-2.92zM1717.33 100.1h1.46v54.45h-1.46zM1768.48 100.1h1.46v54.45h-1.46zM1818.16 100.1h1.46v54.45h-1.46zM1831.31 100.1h2.92v54.45h-2.92zM1857.62 100.1h1.46v54.45h-1.46zM1860.54 100.1h1.46v54.45h-1.46zM1863.46 100.1h2.92v54.45h-2.92zM1917.53 100.1h1.46v54.45h-1.46z"/>
<path fill="#fdb062" d="M150.82 100.1h7.31v54.45h-7.31zM476.69 100.1h2.92v54.45h-2.92zM1154.73 100.1h1.46v54.45h-1.46zM1480.6 100.1h1.46v54.45h-1.46zM1590.2 100.1h4.38v54.45h-4.38zM1829.85 100.1h1.46v54.45h-1.46zM1875.15 100.1h1.46v54.45h-1.46z"/>
<path fill="#bfe0a1" d="M178.58 100.1h2.92v54.45h-2.92zM264.8 100.1h2.92v54.45h-2.92zM272.11 100.1h1.46v54.45h-1.46zM277.95 100.1h4.38v54.45h-4.38zM394.86 100.1h1.46v54.45h-1.46zM422.62 100.1h1.46v54.45h-1.46zM429.93 100.1h1.46v54.45h-1.46zM576.06 100.1h1.46v54.45h-1.46zM635.97 100.1h2.92v54.45h-2.92zM725.11 100.1h1.46v54.45h-1.46zM728.03 100.1h1.46v54.45h-1.46zM786.48 100.1h1.46v54.45h-1.46zM790.87 100.1h1.46v54.45h-1.46zM858.09 100.1h1.46v54.45h-1.46zM999.83 100.1h1.46v54.45h-1.46zM1061.21 100.1h1.46v54.45h-1.46zM1065.59 100.1h1.46v54.45h-1.46zM1068.51 100.1h1.46v54.45h-1.46zM1077.28 100.1h2.92v54.45h-2.92zM1112.35 100.1h1.46v54.45h-1.46zM1172.27 100.1h2.92v54.45h-2.92zM1178.11 100.1h1.46v54.45h-1.46zM1210.26 100.1h1.46v54.45h-1.46zM1230.72 100.1h1.46v54.45h-1.46zM1273.1 100.1h1.46v54.45h-1.46zM1422.15 100.1h1.46v54.45h-1.46zM1452.84 100.1h1.46v54.45h-1.46zM1537.59 100.1h2.92v54.45h-2.92zM1600.43 100.1h1.46v54.45h-1.46zM1628.19 100.1h1.46v54.45h-1.46zM1660.34 100.1h1.46v54.45h-1.46zM1781.63 100.1h1.46v54.45h-1.46zM1793.32 100.1h1.46v54.45h-1.46zM1807.93 100.1h1.46v54.45h-1.46zM1815.24 100.1h1.46v54.45h-1.46zM1840.08 100.1h2.92v54.45h-2.92zM1907.3 100.1h1.46v54.45h-1.46z"/>
<path fill="#fccd7b" d="M184.43 100.1h1.46v54.45h-1.46zM235.57 100.1h1.46v54.45h-1.46zM397.78 100.1h1.46v54.45h-1.46zM469.38 100.1h1.46v54.45h-1.46zM481.07 100.1h1.46v54.45h-1.46zM504.45 100.1h2.92v54.45h-2.92zM615.51 100.1h1.46v54.45h-1.46zM723.65 100.1h1.46v54.45h-1.46zM729.49 100.1h4.38v54.45h-4.38zM821.55 100.1h1.46v54.45h-1.46zM828.86 100.1h2.92v54.45h-2.92zM958.92 100.1h1.46v54.45h-1.46zM969.15 100.1h1.46v54.45h-1.46zM996.91 100.1h2.92v54.45h-2.92zM1159.12 100.1h1.46v54.45h-1.46zM1259.94 100.1h4.38v54.45h-4.38zM1287.71 100.1h1.46v54.45h-1.46zM1359.31 100.1h2.92v54.45h-2.92zM1414.84 100.1h2.92v54.45h-2.92zM1482.06 100.1h1.46v54.45h-1.46zM1553.67 100.1h2.92v54.45h-2.92zM1558.05 100.1h1.46v54.45h-1.46zM1563.9 100.1h1.46v54.45h-1.46zM1843 100.1h1.46v54.45h-1.46z"/>
<path fill="#89d891" d="M188.81 100.1h1.46v54.45h-1.46zM614.05 100.1h1.46v54.45h-1.46zM641.81 100.1h2.92v54.45h-2.92zM1378.31 100.1h1.46v54.45h-1.46zM1631.12 100.1h1.46v54.45h-1.46zM1639.88 100.1h2.92v54.45h-2.92zM1758.25 100.1h2.92v54.45h-2.92z"/>
<path fill="#fdbe6e" d="M190.27 100.1h1.46v54.45h-1.46zM489.84 100.1h1.46v54.45h-1.46zM554.14 100.1h1.46v54.45h-1.46zM964.76 100.1h2.92v54.45h-2.92zM1086.05 100.1h2.92v54.45h-2.92zM1116.74 100.1h1.46v54.45h-1.46zM1124.04 100.1h4.38v54.45h-4.38zM1270.17 100.1h2.92v54.45h-2.92zM1438.22 100.1h1.46v54.45h-1.46zM1445.53 100.1h2.92v54.45h-2.92zM1460.14 100.1h1.46v54.45h-1.46zM1686.64 100.1h2.92v54.45h-2.92zM1859.08 100.1h1.46v54.45h-1.46zM1876.61 100.1h2.92v54.45h-2.92zM1888.3 100.1h1.46v54.45h-1.46z"/>
<path fill="#fdc372" d="M191.73 100.1h1.46v54.45h-1.46zM216.58 100.1h1.46v54.45h-1.46zM234.11 100.1h1.46v54.45h-1.46zM390.47 100.1h4.38v54.45h-4.38zM811.33 100.1h1.46v54.45h-1.46zM824.48 100.1h1.46v54.45h-1.46zM1007.14 100.1h2.92v54.45h-2.92zM1264.33 100.1h1.46v54.45h-1.46zM1268.71 100.1h1.46v54.45h-1.46zM1318.4 100.1h1.46v54.45h-1.46zM1448.45 100.1h1.46v54.45h-1.46zM1457.22 100.1h2.92v54.45h-2.92zM1879.54 100.1h1.46v54.45h-1.46zM1924.84 100.1h4.38v54.45h-4.38z"/>
<path fill="#fdb566" d="M219.5 100.1h1.46v54.45h-1.46zM232.65 100.1h1.46v54.45h-1.46zM444.54 100.1h1.46v54.45h-1.46zM523.45 100.1h2.92v54.45h-2.92zM825.94 100.1h1.46v54.45h-1.46zM834.71 100.1h1.46v54.45h-1.46zM954.53 100.1h1.46v54.45h-1.46zM1321.32 100.1h1.46v54.45h-1.46zM1905.84 100.1h1.46v54.45h-1.46z"/>
<path fill="#fdba6a" d="M237.03 100.1h2.92v54.45h-2.92zM472.3 100.1h1.46v54.45h-1.46zM945.77 100.1h1.46v54.45h-1.46zM951.61 100.1h2.92v54.45h-2.92zM970.61 100.1h2.92v54.45h-2.92zM1280.4 100.1h4.38v54.45h-4.38zM1444.07 100.1h1.46v54.45h-1.46zM1813.78 100.1h1.46v54.45h-1.46zM1828.39 100.1h1.46v54.45h-1.46zM1873.69 100.1h1.46v54.45h-1.46zM1883.92 100.1h2.92v54.45h-2.92z"/>
<path fill="#b0e0a6" d="M251.65 100.1h7.31v54.45h-7.31zM261.88 100.1h2.92v54.45h-2.92zM269.18 100.1h2.92v54.45h-2.92zM285.26 100.1h1.46v54.45h-1.46zM307.18 100.1h1.46v54.45h-1.46zM314.48 100.1h1.46v54.45h-1.46zM355.4 100.1h1.46v54.45h-1.46zM402.16 100.1h2.92v54.45h-2.92zM603.82 100.1h1.46v54.45h-1.46zM640.35 100.1h1.46v54.45h-1.46zM663.73 100.1h1.46v54.45h-1.46zM713.42 100.1h4.38v54.45h-4.38zM735.34 100.1h4.38v54.45h-4.38zM785.02 100.1h1.46v54.45h-1.46zM1048.06 100.1h1.46v54.45h-1.46zM1053.9 100.1h1.46v54.45h-1.46zM1064.13 100.1h1.46v54.45h-1.46zM1093.36 100.1h1.46v54.45h-1.46zM1698.33 100.1h1.46v54.45h-1.46zM1726.1 100.1h1.46v54.45h-1.46zM1752.4 100.1h1.46v54.45h-1.46zM1810.85 100.1h1.46v54.45h-1.46zM1853.23 100.1h1.46v54.45h-1.46zM1920.45 100.1h2.92v54.45h-2.92z"/>
<path fill="#70d382" d="M286.72 100.1h2.92v54.45h-2.92zM292.56 100.1h2.92v54.45h-2.92zM682.73 100.1h1.46v54.45h-1.46zM766.03 100.1h1.46v54.45h-1.46zM1601.89 100.1h1.46v54.45h-1.46zM1607.73 100.1h1.46v54.45h-1.46zM1619.42 100.1h7.31v54.45h-7.31zM1629.65 100.1h1.46v54.45h-1.46zM1679.34 100.1h1.46v54.45h-1.46z"/>
<path fill="#7cd58a" d="M295.49 100.1h1.46v54.45h-1.46zM684.19 100.1h1.46v54.45h-1.46zM720.73 100.1h2.92v54.45h-2.92zM1606.27 100.1h1.46v54.45h-1.46zM1901.46 100.1h1.46v54.45h-1.46z"/>
<path fill="#56cd74" d="M296.95 100.1h1.46v54.45h-1.46zM561.44 100.1h4.38v54.45h-4.38zM581.9 100.1h2.92v54.45h-2.92zM878.55 100.1h5.85v54.45h-5.85zM1191.26 100.1h1.46v54.45h-1.46zM1246.79 100.1h1.46v54.45h-1.46zM1696.87 100.1h1.46v54.45h-1.46zM1699.8 100.1h1.46v54.45h-1.46zM1764.09 100.1h2.92v54.45h-2.92zM1794.78 100.1h1.46v54.45h-1.46z"/>
<path fill="#fca95f" d="M346.63 100.1h1.46v54.45h-1.46zM809.86 100.1h1.46v54.45h-1.46zM850.78 100.1h1.46v54.45h-1.46zM1015.91 100.1h1.46v54.45h-1.46zM1167.88 100.1h2.92v54.45h-2.92zM1381.23 100.1h1.46v54.45h-1.46z"/>
<path fill="#63d07b" d="M567.29 100.1h1.46v54.45h-1.46zM646.2 100.1h1.46v54.45h-1.46zM1185.42 100.1h2.92v54.45h-2.92zM1189.8 100.1h1.46v54.45h-1.46zM1192.73 100.1h1.46v54.45h-1.46zM1311.09 100.1h1.46v54.45h-1.46zM1468.91 100.1h1.46v54.45h-1.46zM1559.51 100.1h1.46v54.45h-1.46zM1796.24 100.1h1.46v54.45h-1.46zM1800.63 100.1h2.92v54.45h-2.92z"/>
<path fill="#2da37e" d="M780.64 100.1h1.46v54.45h-1.46zM983.76 100.1h2.92v54.45h-2.92z"/>
<path fill="#31ac78" d="M782.1 100.1h1.46v54.45h-1.46z"/>
<path fill="#49cb6d" d="M783.56 100.1h1.46v54.45h-1.46zM874.16 100.1h4.38v54.45h-4.38z"/>
<path fill="#fba35c" d="M836.17 100.1h1.46v54.45h-1.46zM846.4 100.1h1.46v54.45h-1.46zM849.32 100.1h1.46v54.45h-1.46zM869.78 100.1h1.46v54.45h-1.46z"/>
<path fill="#f8884f" d="M837.63 100.1h1.46v54.45h-1.46zM872.7 100.1h1.46v54.45h-1.46zM1898.53 100.1h2.92v54.45h-2.92z"/>
<path fill="#f88e52" d="M842.01 100.1h1.46v54.45h-1.46zM871.24 100.1h1.46v54.45h-1.46zM1411.92 100.1h1.46v54.45h-1.46zM1439.68 100.1h2.92v54.45h-2.92zM1837.16 100.1h2.92v54.45h-2.92zM1854.69 100.1h1.46v54.45h-1.46zM1886.84 100.1h1.46v54.45h-1.46z"/>
<path fill="#fa9c59" d="M844.94 100.1h1.46v54.45h-1.46zM1465.99 100.1h1.46v54.45h-1.46z"/>
<path fill="#f7814c" d="M847.86 100.1h1.46v54.45h-1.46z"/>
<path fill="#e4554e" d="M859.55 100.1h1.46v54.45h-1.46zM863.93 100.1h2.92v54.45h-2.92z"/>
<path fill="#e15150" d="M861.01 100.1h2.92v54.45h-2.92z"/>
<path fill="#e6594c" d="M866.86 100.1h1.46v54.45h-1.46z"/>
<path fill="#27479d" d="M884.39 100.1h1.46v54.45h-1.46zM887.31 100.1h1.46v54.45h-1.46zM893.16 100.1h1.46v54.45h-1.46zM899 100.1h1.46v54.45h-1.46zM904.85 100.1h1.46v54.45h-1.46zM916.54 100.1h1.46v54.45h-1.46zM928.23 100.1h4.38v54.45h-4.38zM935.54 100.1h1.46v54.45h-1.46z"/>
<path fill="#28439a" d="M885.85 100.1h1.46v54.45h-1.46zM923.85 100.1h1.46v54.45h-1.46z"/>
<path fill="#274ca0" d="M888.77 100.1h1.46v54.45h-1.46zM897.54 100.1h1.46v54.45h-1.46zM900.47 100.1h2.92v54.45h-2.92zM906.31 100.1h1.46v54.45h-1.46zM912.16 100.1h1.46v54.45h-1.46zM918 100.1h2.92v54.45h-2.92zM922.38 100.1h1.46v54.45h-1.46zM938.46 100.1h1.46v54.45h-1.46z"/>
<path fill="#2650a2" d="M890.24 100.1h1.46v54.45h-1.46zM894.62 100.1h2.92v54.45h-2.92zM903.39 100.1h1.46v54.45h-1.46zM907.77 100.1h1.46v54.45h-1.46zM910.69 100.1h1.46v54.45h-1.46zM915.08 100.1h1.46v54.45h-1.46z"/>
<path fill="#26908a" d="M891.7 100.1h1.46v54.45h-1.46zM913.62 100.1h1.46v54.45h-1.46z"/>
<path fill="#2559a7" d="M909.23 100.1h1.46v54.45h-1.46z"/>
<path fill="#38bf6c" d="M920.92 100.1h1.46v54.45h-1.46zM937 100.1h1.46v54.45h-1.46z"/>
<path fill="#248590" d="M925.31 100.1h2.92v54.45h-2.92z"/>
<path fill="#299984" d="M932.61 100.1h1.46v54.45h-1.46z"/>
<path fill="#2655a4" d="M934.07 100.1h1.46v54.45h-1.46z"/>
<path fill="#b3b3b3" d="M95.38 154.55h3.75v38.4h-3.75zM103.12 154.55h3.75v38.4h-3.75zM119.12 154.55h3.75v38.4h-3.75zM158.25 154.55h6v38.4h-6zM189.75 154.55h4v38.4h-4zM216.12 154.55h3.75v38.4h-3.75zM225.62 154.55h3.75v38.4h-3.75zM251.12 154.55h3.75v38.4h-3.75zM258.88 154.55h3.75v38.4h-3.75zM288.88 154.55h3.75v38.4h-3.75zM300.12 154.55h3.75v38.4h-3.75zM329.88 154.55h3.75v38.4h-3.75zM350.75 154.55h5v38.4h-5zM419 154.55h5v38.4h-5zM455.12 154.55h3.75v38.4h-3.75zM460.88 154.55h3.75v38.4h-3.75zM508.38 154.55h3.75v38.4h-3.75zM560.62 154.55h3.75v38.4h-3.75zM607.38 154.55h3.75v38.4h-3.75zM613.12 154.55h3.75v38.4h-3.75zM623.12 154.55h3.75v38.4h-3.75zM651.62 154.55h3.75v38.4h-3.75zM715.62 154.55h3.75v38.4h-3.75zM766.62 154.55h3.75v38.4h-3.75zM782.88 154.55h3.75v38.4h-3.75zM794.38 154.55h3.75v38.4h-3.75zM801 154.55h5.5v38.4h-5.5zM810.62 154.55h3.75v38.4h-3.75zM833.12 154.55h3.75v38.4h-3.75zM848.88 154.55h3.75v38.4h-3.75zM853.12 154.55h3.75v38.4h-3.75zM866.5 154.55h11v38.4h-11zM954.88 154.55h3.75v38.4h-3.75zM987.62 154.55h3.75v38.4h-3.75zM1016.88 154.55h3.75v38.4h-3.75zM1025.12 154.55h3.75v38.4h-3.75zM1052.12 154.55h3.75v38.4h-3.75zM1064.12 154.55h3.75v38.4h-3.75zM1078 154.55h8.5v38.4h-8.5zM1120.5 154.55h5v38.4h-5zM1168.25 154.55h7.5v38.4h-7.5zM1216.12 154.55h3.75v38.4h-3.75zM1245.12 154.55h3.75v38.4h-3.75zM1262.38 154.55h3.75v38.4h-3.75zM1273.12 154.55h3.75v38.4h-3.75zM1339.88 154.55h3.75v38.4h-3.75zM1362.12 154.55h3.75v38.4h-3.75zM1383.88 154.55h7.75v38.4h-7.75zM1419.38 154.55h3.75v38.4h-3.75zM1427.12 154.55h3.75v38.4h-3.75zM1458.75 154.55h7v38.4h-7zM1497.38 154.55h3.75v38.4h-3.75zM1533.88 154.55h3.75v38.4h-3.75zM1560.62 154.55h3.75v38.4h-3.75zM1567.88 154.55h3.75v38.4h-3.75zM1574.62 154.55h3.75v38.4h-3.75zM1583.12 154.55h3.75v38.4h-3.75zM1606.12 154.55h3.75v38.4h-3.75zM1612.25 154.55h5v38.4h-5zM1628.88 154.55h3.75v38.4h-3.75zM1659.12 154.55h3.75v38.4h-3.75zM1708.62 154.55h3.75v38.4h-3.75zM1719 154.55h5v38.4h-5zM1731.12 154.55h3.75v38.4h-3.75zM1742.88 154.55h3.75v38.4h-3.75zM1780.12 154.55h3.75v38.4h-3.75zM1790.88 154.55h3.75v38.4h-3.75zM1797 154.55h12v38.4h-12zM1818.88 154.55h3.75v38.4h-3.75zM1862.38 154.55h3.75v38.4h-3.75zM1900 154.55h8v38.4h-8zM1920.88 154.55h3.75v38.4h-3.75z"/>
<path fill="#00cc00" d="M923.88 154.55h3.75v38.4h-3.75z"/>
<line x1="86.2" x2="94.1" y1="82.28" y2="82.28" stroke="#333" stroke-width="3.6"/>
<text class="yl" x="79.6" y="91.18">10</text>
<line x1="86.2" x2="94.1" y1="57.64" y2="57.64" stroke="#333" stroke-width="3.6"/>
<text class="yl" x="79.6" y="66.54">30</text>
<line x1="86.2" x2="94.1" y1="33.43" y2="33.43" stroke="#333" stroke-width="3.6"/>
<text class="yl" x="79.6" y="42.33">50</text>
<line x1="86.2" x2="94.1" y1="9.5" y2="9.5" stroke="#333" stroke-width="3.6"/>
<text class="yl" x="79.6" y="18.4">70</text>
<rect x="1951.15" y="2" width="48.85" height="206.2" fill="#d9d9d9"/>
<text class="st" transform="translate(1963.6 35.8) rotate(90)">Contig 1</text>
</g>
<g id="panel2">
<line x1="93.6" x2="1908" y1="293.1" y2="293.1" stroke="#8a8a8a" stroke-width="1" stroke-dasharray="10.8 9.929"/>
<line x1="93.6" x2="1908" y1="268.82" y2="268.82" stroke="#8a8a8a" stroke-width="1" stroke-dasharray="10.8 9.929"/>
<line x1="93.6" x2="1908" y1="244.54" y2="244.54" stroke="#8a8a8a" stroke-width="1" stroke-dasharray="10.8 9.929"/>
<path fill="#575757" d="M98.35 244.62h26.45v60.4h-26.45zM127.57 261.56h26.45v43.46h-26.45zM156.8 245.83h26.45v59.19h-26.45zM186.03 231.31h26.45v73.71h-26.45zM215.25 239.78h26.45v65.24h-26.45zM244.47 243.41h26.45v61.61h-26.45zM273.7 247.04h26.45v57.98h-26.45zM302.93 243.41h26.45v61.61h-26.45zM332.15 233.73h26.45v71.29h-26.45zM361.38 247.04h26.45v57.98h-26.45zM390.6 239.78h26.45v65.24h-26.45zM419.83 243.41h26.45v61.61h-26.45zM449.05 240.99h26.45v64.03h-26.45zM478.27 236.15h26.45v68.87h-26.45zM507.5 238.57h26.45v66.45h-26.45zM536.73 276.08h26.45v28.94h-26.45zM565.95 243.41h26.45v61.61h-26.45zM595.18 244.62h26.45v60.4h-26.45zM624.4 234.94h26.45v70.08h-26.45zM653.62 236.15h26.45v68.87h-26.45zM682.85 238.57h26.45v66.45h-26.45zM712.08 234.94h26.45v70.08h-26.45zM741.3 243.41h26.45v61.61h-26.45zM770.53 238.57h26.45v66.45h-26.45zM799.75 245.83h26.45v59.19h-26.45zM828.98 243.41h26.45v61.61h-26.45zM858.2 245.83h26.45v59.19h-26.45zM887.43 236.15h26.45v68.87h-26.45zM916.65 242.2h26.45v62.82h-26.45zM945.88 238.57h26.45v66.45h-26.45zM975.1 244.62h26.45v60.4h-26.45zM1004.33 257.93h26.45v47.09h-26.45zM1033.55 237.36h26.45v67.66h-26.45zM1062.78 237.36h26.45v67.66h-26.45zM1092 253.09h26.45v51.93h-26.45zM1121.22 274.87h26.45v30.15h-26.45zM1150.45 262.77h26.45v42.25h-26.45zM1179.67 249.46h26.45v55.56h-26.45zM1208.9 238.57h26.45v66.45h-26.45zM1238.12 245.83h26.45v59.19h-26.45zM1267.35 238.57h26.45v66.45h-26.45zM1296.58 239.78h26.45v65.24h-26.45zM1325.8 234.94h26.45v70.08h-26.45zM1355.02 236.15h26.45v68.87h-26.45zM1384.25 239.78h26.45v65.24h-26.45zM1413.47 236.15h26.45v68.87h-26.45zM1442.7 248.25h26.45v56.77h-26.45zM1471.92 245.83h26.45v59.19h-26.45zM1501.15 239.78h26.45v65.24h-26.45zM1530.38 240.99h26.45v64.03h-26.45zM1559.6 244.62h26.45v60.4h-26.45zM1588.83 250.67h26.45v54.35h-26.45zM1618.05 251.88h26.45v53.14h-26.45zM1647.28 253.09h26.45v51.93h-26.45zM1676.5 230.1h26.45v74.92h-26.45zM1705.72 234.94h26.45v70.08h-26.45zM1734.95 230.1h26.45v74.92h-26.45zM1764.17 247.04h26.45v57.98h-26.45zM1793.4 239.78h26.45v65.24h-26.45zM1822.62 248.25h26.45v56.77h-26.45zM1851.85 240.99h26.45v64.03h-26.45zM1881.08 280.92h26.45v24.1h-26.45z"/>
<rect x="96.75" y="311.07" width="1795" height="54.45" fill="#ecdc92"/>
<rect x="115.75" y="311.57" width="13.15" height="53.45" fill="#33b174"/>
<rect x="165.43" y="311.57" width="24.84" height="53.45" fill="#fdbc6c"/>
<rect x="193.2" y="311.57" width="5.85" height="53.45" fill="#f67a49"/>
<rect x="766.03" y="311.57" width="4.38" height="53.45" fill="#f88e52"/>
<rect x="1113.81" y="311.57" width="70.14" height="53.45" fill="#27499e"/>
<rect x="1655.96" y="311.57" width="11.69" height="53.45" fill="#7cd58a"/>
<rect x="1843" y="311.57" width="10.23" height="53.45" fill="#f16945"/>
<path fill="#f67a49" d="M96.75 311.07h1.46v54.45h-1.46zM193.2 311.07h1.46v54.45h-1.46zM766.03 311.07h1.46v54.45h-1.46zM1046.6 311.07h2.92v54.45h-2.92zM1189.8 311.07h1.46v54.45h-1.46z"/>
<path fill="#e5e093" d="M98.21 311.07h2.92v54.45h-2.92zM106.98 311.07h1.46v54.45h-1.46zM112.82 311.07h1.46v54.45h-1.46zM139.13 311.07h2.92v54.45h-2.92zM144.97 311.07h1.46v54.45h-1.46zM294.03 311.07h7.31v54.45h-7.31zM310.1 311.07h1.46v54.45h-1.46zM340.79 311.07h1.46v54.45h-1.46zM368.55 311.07h1.46v54.45h-1.46zM383.16 311.07h1.46v54.45h-1.46zM410.93 311.07h1.46v54.45h-1.46zM419.7 311.07h2.92v54.45h-2.92zM441.62 311.07h1.46v54.45h-1.46zM486.92 311.07h1.46v54.45h-1.46zM533.68 311.07h1.46v54.45h-1.46zM545.37 311.07h1.46v54.45h-1.46zM612.59 311.07h2.92v54.45h-2.92zM616.97 311.07h2.92v54.45h-2.92zM628.66 311.07h1.46v54.45h-1.46zM652.04 311.07h2.92v54.45h-2.92zM660.81 311.07h1.46v54.45h-1.46zM675.42 311.07h1.46v54.45h-1.46zM688.58 311.07h1.46v54.45h-1.46zM700.27 311.07h1.46v54.45h-1.46zM720.73 311.07h1.46v54.45h-1.46zM846.4 311.07h1.46v54.45h-1.46zM884.39 311.07h1.46v54.45h-1.46zM897.54 311.07h1.46v54.45h-1.46zM976.45 311.07h1.46v54.45h-1.46zM986.68 311.07h1.46v54.45h-1.46zM1011.52 311.07h2.92v54.45h-2.92zM1017.37 311.07h1.46v54.45h-1.46zM1034.9 311.07h1.46v54.45h-1.46zM1040.75 311.07h1.46v54.45h-1.46zM1069.98 311.07h2.92v54.45h-2.92zM1182.5 311.07h1.46v54.45h-1.46zM1197.11 311.07h2.92v54.45h-2.92zM1246.79 311.07h1.46v54.45h-1.46zM1268.71 311.07h1.46v54.45h-1.46zM1276.02 311.07h1.46v54.45h-1.46zM1292.09 311.07h2.92v54.45h-2.92zM1319.86 311.07h1.46v54.45h-1.46zM1368.08 311.07h1.46v54.45h-1.46zM1419.23 311.07h1.46v54.45h-1.46zM1425.07 311.07h1.46v54.45h-1.46zM1430.92 311.07h1.46v54.45h-1.46zM1451.38 311.07h1.46v54.45h-1.46zM1460.14 311.07h1.46v54.45h-1.46zM1477.68 311.07h1.46v54.45h-1.46zM1508.37 311.07h1.46v54.45h-1.46zM1515.67 311.07h2.92v54.45h-2.92zM1525.9 311.07h1.46v54.45h-1.46zM1568.28 311.07h1.46v54.45h-1.46zM1600.43 311.07h1.46v54.45h-1.46zM1650.11 311.07h1.46v54.45h-1.46zM1712.95 311.07h1.46v54.45h-1.46zM1715.87 311.07h2.92v54.45h-2.92zM1724.64 311.07h1.46v54.45h-1.46zM1736.33 311.07h2.92v54.45h-2.92zM1771.4 311.07h1.46v54.45h-1.46zM1775.78 311.07h1.46v54.45h-1.46zM1803.55 311.07h1.46v54.45h-1.46zM1863.46 311.07h1.46v54.45h-1.46z"/>
<path fill="#fcc876" d="M101.13 311.07h1.46v54.45h-1.46zM219.5 311.07h1.46v54.45h-1.46zM231.19 311.07h1.46v54.45h-1.46zM242.88 311.07h1.46v54.45h-1.46zM370.01 311.07h1.46v54.45h-1.46zM457.69 311.07h1.46v54.45h-1.46zM751.41 311.07h1.46v54.45h-1.46zM761.64 311.07h1.46v54.45h-1.46zM782.1 311.07h1.46v54.45h-1.46zM925.31 311.07h1.46v54.45h-1.46zM931.15 311.07h2.92v54.45h-2.92zM1033.44 311.07h1.46v54.45h-1.46zM1081.67 311.07h1.46v54.45h-1.46zM1194.19 311.07h1.46v54.45h-1.46zM1280.4 311.07h2.92v54.45h-2.92zM1512.75 311.07h1.46v54.45h-1.46zM1549.28 311.07h1.46v54.45h-1.46zM1571.2 311.07h1.46v54.45h-1.46zM1674.95 311.07h1.46v54.45h-1.46zM1742.17 311.07h1.46v54.45h-1.46zM1772.86 311.07h2.92v54.45h-2.92zM1805.01 311.07h1.46v54.45h-1.46zM1869.31 311.07h2.92v54.45h-2.92zM1889.77 311.07h1.46v54.45h-1.46z"/>
<path fill="#fccd7b" d="M102.6 311.07h4.38v54.45h-4.38zM188.81 311.07h1.46v54.45h-1.46zM197.58 311.07h1.46v54.45h-1.46zM275.03 311.07h1.46v54.45h-1.46zM311.56 311.07h1.46v54.45h-1.46zM413.85 311.07h2.92v54.45h-2.92zM459.15 311.07h1.46v54.45h-1.46zM777.72 311.07h2.92v54.45h-2.92zM795.25 311.07h2.92v54.45h-2.92zM1015.91 311.07h1.46v54.45h-1.46zM1109.43 311.07h2.92v54.45h-2.92zM1183.96 311.07h1.46v54.45h-1.46zM1202.95 311.07h1.46v54.45h-1.46zM1227.8 311.07h1.46v54.45h-1.46zM1238.03 311.07h2.92v54.45h-2.92zM1283.33 311.07h1.46v54.45h-1.46zM1429.46 311.07h1.46v54.45h-1.46zM1552.2 311.07h1.46v54.45h-1.46zM1680.8 311.07h1.46v54.45h-1.46zM1743.64 311.07h1.46v54.45h-1.46zM1794.78 311.07h4.38v54.45h-4.38zM1812.32 311.07h1.46v54.45h-1.46zM1822.55 311.07h1.46v54.45h-1.46zM1825.47 311.07h1.46v54.45h-1.46zM1835.7 311.07h1.46v54.45h-1.46zM1876.61 311.07h1.46v54.45h-1.46z"/>
<path fill="#fcd683" d="M108.44 311.07h1.46v54.45h-1.46zM172.74 311.07h2.92v54.45h-2.92zM216.58 311.07h1.46v54.45h-1.46zM226.81 311.07h2.92v54.45h-2.92zM238.5 311.07h1.46v54.45h-1.46zM241.42 311.07h1.46v54.45h-1.46zM263.34 311.07h2.92v54.45h-2.92zM291.1 311.07h1.46v54.45h-1.46zM321.79 311.07h8.77v54.45h-8.77zM345.17 311.07h1.46v54.45h-1.46zM390.47 311.07h1.46v54.45h-1.46zM393.39 311.07h4.38v54.45h-4.38zM416.77 311.07h2.92v54.45h-2.92zM501.53 311.07h1.46v54.45h-1.46zM646.2 311.07h1.46v54.45h-1.46zM654.97 311.07h4.38v54.45h-4.38zM663.73 311.07h1.46v54.45h-1.46zM685.65 311.07h1.46v54.45h-1.46zM704.65 311.07h1.46v54.45h-1.46zM752.87 311.07h1.46v54.45h-1.46zM783.56 311.07h1.46v54.45h-1.46zM787.94 311.07h1.46v54.45h-1.46zM804.02 311.07h1.46v54.45h-1.46zM825.94 311.07h1.46v54.45h-1.46zM885.85 311.07h1.46v54.45h-1.46zM909.23 311.07h1.46v54.45h-1.46zM1185.42 311.07h1.46v54.45h-1.46zM1195.65 311.07h1.46v54.45h-1.46zM1267.25 311.07h1.46v54.45h-1.46zM1308.17 311.07h2.92v54.45h-2.92zM1344.7 311.07h1.46v54.45h-1.46zM1362.24 311.07h2.92v54.45h-2.92zM1394.38 311.07h1.46v54.45h-1.46zM1422.15 311.07h1.46v54.45h-1.46zM1426.53 311.07h2.92v54.45h-2.92zM1432.38 311.07h1.46v54.45h-1.46zM1520.06 311.07h1.46v54.45h-1.46zM1622.35 311.07h2.92v54.45h-2.92zM1721.72 311.07h1.46v54.45h-1.46zM1752.4 311.07h1.46v54.45h-1.46zM1828.39 311.07h1.46v54.45h-1.46zM1837.16 311.07h1.46v54.45h-1.46zM1881 311.07h1.46v54.45h-1.46zM1891.23 311.07h0.52v54.45h-0.52z"/>
<path fill="#fce08b" d="M109.9 311.07h1.46v54.45h-1.46zM156.66 311.07h1.46v54.45h-1.46zM206.35 311.07h2.92v54.45h-2.92zM220.96 311.07h1.46v54.45h-1.46zM256.03 311.07h1.46v54.45h-1.46zM277.95 311.07h1.46v54.45h-1.46zM315.94 311.07h1.46v54.45h-1.46zM422.62 311.07h2.92v54.45h-2.92zM443.08 311.07h1.46v54.45h-1.46zM454.77 311.07h1.46v54.45h-1.46zM466.46 311.07h2.92v54.45h-2.92zM470.84 311.07h1.46v54.45h-1.46zM479.61 311.07h1.46v54.45h-1.46zM511.76 311.07h1.46v54.45h-1.46zM552.68 311.07h1.46v54.45h-1.46zM568.75 311.07h2.92v54.45h-2.92zM578.98 311.07h1.46v54.45h-1.46zM637.43 311.07h2.92v54.45h-2.92zM744.11 311.07h2.92v54.45h-2.92zM755.8 311.07h2.92v54.45h-2.92zM773.33 311.07h1.46v54.45h-1.46zM847.86 311.07h1.46v54.45h-1.46zM974.99 311.07h1.46v54.45h-1.46zM1068.51 311.07h1.46v54.45h-1.46zM1214.64 311.07h1.46v54.45h-1.46zM1254.1 311.07h1.46v54.45h-1.46zM1262.87 311.07h1.46v54.45h-1.46zM1277.48 311.07h2.92v54.45h-2.92zM1325.7 311.07h4.38v54.45h-4.38zM1340.32 311.07h1.46v54.45h-1.46zM1343.24 311.07h1.46v54.45h-1.46zM1356.39 311.07h2.92v54.45h-2.92zM1369.54 311.07h1.46v54.45h-1.46zM1375.39 311.07h2.92v54.45h-2.92zM1395.85 311.07h1.46v54.45h-1.46zM1413.38 311.07h1.46v54.45h-1.46zM1476.22 311.07h1.46v54.45h-1.46zM1490.83 311.07h2.92v54.45h-2.92zM1509.83 311.07h2.92v54.45h-2.92zM1617.96 311.07h4.38v54.45h-4.38zM1667.65 311.07h2.92v54.45h-2.92zM1799.16 311.07h1.46v54.45h-1.46z"/>
<path fill="#fdbe6e" d="M111.36 311.07h1.46v54.45h-1.46zM234.11 311.07h1.46v54.45h-1.46zM269.18 311.07h1.46v54.45h-1.46zM339.33 311.07h1.46v54.45h-1.46zM342.25 311.07h2.92v54.45h-2.92zM798.17 311.07h1.46v54.45h-1.46zM811.33 311.07h1.46v54.45h-1.46zM828.86 311.07h1.46v54.45h-1.46zM1074.36 311.07h1.46v54.45h-1.46zM1077.28 311.07h1.46v54.45h-1.46zM1083.13 311.07h1.46v54.45h-1.46zM1091.9 311.07h1.46v54.45h-1.46zM1100.66 311.07h1.46v54.45h-1.46zM1417.77 311.07h1.46v54.45h-1.46zM1813.78 311.07h2.92v54.45h-2.92zM1818.16 311.07h1.46v54.45h-1.46zM1826.93 311.07h1.46v54.45h-1.46zM1838.62 311.07h1.46v54.45h-1.46zM1866.38 311.07h1.46v54.45h-1.46zM1873.69 311.07h1.46v54.45h-1.46zM1883.92 311.07h1.46v54.45h-1.46zM1888.3 311.07h1.46v54.45h-1.46z"/>
<path fill="#3cc866" d="M114.29 311.07h1.46v54.45h-1.46zM124.51 311.07h1.46v54.45h-1.46zM1113.81 311.07h1.46v54.45h-1.46z"/>
<path fill="#31ac78" d="M115.75 311.07h1.46v54.45h-1.46z"/>
<path fill="#35b572" d="M117.21 311.07h1.46v54.45h-1.46zM123.05 311.07h1.46v54.45h-1.46z"/>
<path fill="#49cb6d" d="M118.67 311.07h1.46v54.45h-1.46z"/>
<path fill="#56cd74" d="M120.13 311.07h1.46v54.45h-1.46zM498.61 311.07h2.92v54.45h-2.92zM1264.33 311.07h2.92v54.45h-2.92zM1658.88 311.07h4.38v54.45h-4.38z"/>
<path fill="#38bf6c" d="M121.59 311.07h1.46v54.45h-1.46zM125.98 311.07h1.46v54.45h-1.46zM739.72 311.07h1.46v54.45h-1.46zM1157.65 311.07h1.46v54.45h-1.46z"/>
<path fill="#c7e09e" d="M127.44 311.07h4.38v54.45h-4.38zM212.19 311.07h2.92v54.45h-2.92zM460.61 311.07h1.46v54.45h-1.46zM473.77 311.07h1.46v54.45h-1.46zM482.53 311.07h1.46v54.45h-1.46zM489.84 311.07h4.38v54.45h-4.38zM510.3 311.07h1.46v54.45h-1.46zM557.06 311.07h1.46v54.45h-1.46zM605.28 311.07h2.92v54.45h-2.92zM647.66 311.07h1.46v54.45h-1.46zM673.96 311.07h1.46v54.45h-1.46zM850.78 311.07h1.46v54.45h-1.46zM853.7 311.07h1.46v54.45h-1.46zM858.09 311.07h1.46v54.45h-1.46zM948.69 311.07h1.46v54.45h-1.46zM989.6 311.07h1.46v54.45h-1.46zM1002.76 311.07h1.46v54.45h-1.46zM1020.29 311.07h1.46v54.45h-1.46zM1204.42 311.07h2.92v54.45h-2.92zM1226.33 311.07h1.46v54.45h-1.46zM1245.33 311.07h1.46v54.45h-1.46zM1249.72 311.07h1.46v54.45h-1.46zM1295.02 311.07h1.46v54.45h-1.46zM1373.93 311.07h1.46v54.45h-1.46zM1381.23 311.07h1.46v54.45h-1.46zM1436.76 311.07h4.38v54.45h-4.38zM1446.99 311.07h2.92v54.45h-2.92zM1479.14 311.07h4.38v54.45h-4.38zM1505.44 311.07h1.46v54.45h-1.46zM1527.36 311.07h1.46v54.45h-1.46zM1539.05 311.07h1.46v54.45h-1.46zM1581.43 311.07h2.92v54.45h-2.92zM1601.89 311.07h1.46v54.45h-1.46zM1607.73 311.07h1.46v54.45h-1.46zM1636.96 311.07h1.46v54.45h-1.46zM1696.87 311.07h2.92v54.45h-2.92zM1740.71 311.07h1.46v54.45h-1.46zM1748.02 311.07h2.92v54.45h-2.92zM1793.32 311.07h1.46v54.45h-1.46z"/>
<path fill="#ede090" d="M131.82 311.07h1.46v54.45h-1.46zM215.12 311.07h1.46v54.45h-1.46zM225.34 311.07h1.46v54.45h-1.46zM280.87 311.07h1.46v54.45h-1.46zM348.09 311.07h1.46v54.45h-1.46zM408.01 311.07h2.92v54.45h-2.92zM412.39 311.07h1.46v54.45h-1.46zM429.93 311.07h2.92v54.45h-2.92zM438.69 311.07h1.46v54.45h-1.46zM456.23 311.07h1.46v54.45h-1.46zM516.14 311.07h1.46v54.45h-1.46zM529.29 311.07h1.46v54.45h-1.46zM576.06 311.07h1.46v54.45h-1.46zM580.44 311.07h2.92v54.45h-2.92zM586.29 311.07h1.46v54.45h-1.46zM590.67 311.07h1.46v54.45h-1.46zM615.51 311.07h1.46v54.45h-1.46zM619.9 311.07h1.46v54.45h-1.46zM631.59 311.07h1.46v54.45h-1.46zM703.19 311.07h1.46v54.45h-1.46zM735.34 311.07h1.46v54.45h-1.46zM830.32 311.07h4.38v54.45h-4.38zM852.24 311.07h1.46v54.45h-1.46zM859.55 311.07h1.46v54.45h-1.46zM896.08 311.07h1.46v54.45h-1.46zM907.77 311.07h1.46v54.45h-1.46zM928.23 311.07h1.46v54.45h-1.46zM985.22 311.07h1.46v54.45h-1.46zM1005.68 311.07h1.46v54.45h-1.46zM1052.44 311.07h1.46v54.45h-1.46zM1061.21 311.07h4.38v54.45h-4.38zM1067.05 311.07h1.46v54.45h-1.46zM1075.82 311.07h1.46v54.45h-1.46zM1201.49 311.07h1.46v54.45h-1.46zM1207.34 311.07h1.46v54.45h-1.46zM1217.57 311.07h2.92v54.45h-2.92zM1248.25 311.07h1.46v54.45h-1.46zM1299.4 311.07h1.46v54.45h-1.46zM1302.32 311.07h4.38v54.45h-4.38zM1312.55 311.07h7.31v54.45h-7.31zM1321.32 311.07h2.92v54.45h-2.92zM1333.01 311.07h1.46v54.45h-1.46zM1385.62 311.07h1.46v54.45h-1.46zM1420.69 311.07h1.46v54.45h-1.46zM1441.15 311.07h1.46v54.45h-1.46zM1463.07 311.07h1.46v54.45h-1.46zM1489.37 311.07h1.46v54.45h-1.46zM1625.27 311.07h1.46v54.45h-1.46zM1635.5 311.07h1.46v54.45h-1.46zM1642.81 311.07h5.85v54.45h-5.85zM1695.41 311.07h1.46v54.45h-1.46zM1714.41 311.07h1.46v54.45h-1.46zM1810.85 311.07h1.46v54.45h-1.46zM1851.77 311.07h1.46v54.45h-1.46z"/>
<path fill="#96db98" d="M133.28 311.07h1.46v54.45h-1.46zM146.43 311.07h1.46v54.45h-1.46zM336.4 311.07h1.46v54.45h-1.46zM364.17 311.07h1.46v54.45h-1.46zM371.47 311.07h1.46v54.45h-1.46zM485.46 311.07h1.46v54.45h-1.46zM960.38 311.07h2.92v54.45h-2.92zM1387.08 311.07h1.46v54.45h-1.46zM1449.91 311.07h1.46v54.45h-1.46zM1473.29 311.07h1.46v54.45h-1.46zM1534.67 311.07h4.38v54.45h-4.38zM1590.2 311.07h1.46v54.45h-1.46z"/>
<path fill="#247a95" d="M134.74 311.07h1.46v54.45h-1.46z"/>
<path fill="#a3dd9f" d="M136.21 311.07h1.46v54.45h-1.46zM488.38 311.07h1.46v54.45h-1.46zM517.6 311.07h1.46v54.45h-1.46zM542.45 311.07h1.46v54.45h-1.46zM583.36 311.07h1.46v54.45h-1.46zM596.51 311.07h1.46v54.45h-1.46zM599.44 311.07h1.46v54.45h-1.46zM736.8 311.07h1.46v54.45h-1.46zM966.22 311.07h1.46v54.45h-1.46zM973.53 311.07h1.46v54.45h-1.46zM1072.9 311.07h1.46v54.45h-1.46zM1335.93 311.07h1.46v54.45h-1.46zM1365.16 311.07h2.92v54.45h-2.92zM1514.21 311.07h1.46v54.45h-1.46zM1597.51 311.07h1.46v54.45h-1.46zM1676.42 311.07h2.92v54.45h-2.92zM1750.94 311.07h1.46v54.45h-1.46z"/>
<path fill="#299984" d="M137.67 311.07h1.46v54.45h-1.46zM1118.2 311.07h1.46v54.45h-1.46zM1170.81 311.07h2.92v54.45h-2.92z"/>
<path fill="#e4554e" d="M142.05 311.07h2.92v54.45h-2.92z"/>
<path fill="#fdc372" d="M147.9 311.07h4.38v54.45h-4.38zM165.43 311.07h1.46v54.45h-1.46zM168.35 311.07h4.38v54.45h-4.38zM175.66 311.07h2.92v54.45h-2.92zM181.51 311.07h1.46v54.45h-1.46zM232.65 311.07h1.46v54.45h-1.46zM247.26 311.07h1.46v54.45h-1.46zM251.65 311.07h4.38v54.45h-4.38zM276.49 311.07h1.46v54.45h-1.46zM365.63 311.07h1.46v54.45h-1.46zM372.94 311.07h4.38v54.45h-4.38zM387.55 311.07h1.46v54.45h-1.46zM406.55 311.07h1.46v54.45h-1.46zM440.16 311.07h1.46v54.45h-1.46zM444.54 311.07h1.46v54.45h-1.46zM549.75 311.07h1.46v54.45h-1.46zM742.64 311.07h1.46v54.45h-1.46zM747.03 311.07h1.46v54.45h-1.46zM760.18 311.07h1.46v54.45h-1.46zM770.41 311.07h1.46v54.45h-1.46zM774.79 311.07h2.92v54.45h-2.92zM792.33 311.07h1.46v54.45h-1.46zM801.1 311.07h1.46v54.45h-1.46zM805.48 311.07h1.46v54.45h-1.46zM824.48 311.07h1.46v54.45h-1.46zM918 311.07h1.46v54.45h-1.46zM1026.14 311.07h1.46v54.45h-1.46zM1078.74 311.07h1.46v54.45h-1.46zM1087.51 311.07h1.46v54.45h-1.46zM1107.97 311.07h1.46v54.45h-1.46zM1188.34 311.07h1.46v54.45h-1.46zM1210.26 311.07h1.46v54.45h-1.46zM1330.09 311.07h2.92v54.45h-2.92zM1569.74 311.07h1.46v54.45h-1.46zM1764.09 311.07h1.46v54.45h-1.46zM1791.86 311.07h1.46v54.45h-1.46zM1824.01 311.07h1.46v54.45h-1.46zM1854.69 311.07h1.46v54.45h-1.46zM1885.38 311.07h1.46v54.45h-1.46z"/>
<path fill="#cee09b" d="M152.28 311.07h2.92v54.45h-2.92zM209.27 311.07h1.46v54.45h-1.46zM260.42 311.07h2.92v54.45h-2.92zM301.33 311.07h1.46v54.45h-1.46zM330.56 311.07h1.46v54.45h-1.46zM337.86 311.07h1.46v54.45h-1.46zM346.63 311.07h1.46v54.45h-1.46zM359.78 311.07h1.46v54.45h-1.46zM381.7 311.07h1.46v54.45h-1.46zM446 311.07h4.38v54.45h-4.38zM451.85 311.07h2.92v54.45h-2.92zM481.07 311.07h1.46v54.45h-1.46zM502.99 311.07h2.92v54.45h-2.92zM513.22 311.07h2.92v54.45h-2.92zM565.83 311.07h2.92v54.45h-2.92zM640.35 311.07h2.92v54.45h-2.92zM706.11 311.07h1.46v54.45h-1.46zM710.5 311.07h1.46v54.45h-1.46zM733.88 311.07h1.46v54.45h-1.46zM738.26 311.07h1.46v54.45h-1.46zM754.34 311.07h1.46v54.45h-1.46zM866.86 311.07h2.92v54.45h-2.92zM874.16 311.07h1.46v54.45h-1.46zM878.55 311.07h1.46v54.45h-1.46zM888.77 311.07h1.46v54.45h-1.46zM945.77 311.07h2.92v54.45h-2.92zM950.15 311.07h1.46v54.45h-1.46zM953.07 311.07h1.46v54.45h-1.46zM969.15 311.07h2.92v54.45h-2.92zM979.38 311.07h1.46v54.45h-1.46zM1050.98 311.07h1.46v54.45h-1.46zM1224.87 311.07h1.46v54.45h-1.46zM1257.02 311.07h1.46v54.45h-1.46zM1270.17 311.07h1.46v54.45h-1.46zM1372.46 311.07h1.46v54.45h-1.46zM1379.77 311.07h1.46v54.45h-1.46zM1382.69 311.07h1.46v54.45h-1.46zM1406.07 311.07h4.38v54.45h-4.38zM1411.92 311.07h1.46v54.45h-1.46zM1435.3 311.07h1.46v54.45h-1.46zM1442.61 311.07h1.46v54.45h-1.46zM1468.91 311.07h2.92v54.45h-2.92zM1495.21 311.07h2.92v54.45h-2.92zM1528.82 311.07h1.46v54.45h-1.46zM1531.75 311.07h2.92v54.45h-2.92zM1556.59 311.07h1.46v54.45h-1.46zM1579.97 311.07h1.46v54.45h-1.46zM1598.97 311.07h1.46v54.45h-1.46zM1603.35 311.07h4.38v54.45h-4.38zM1634.04 311.07h1.46v54.45h-1.46zM1688.11 311.07h2.92v54.45h-2.92zM1708.56 311.07h4.38v54.45h-4.38zM1726.1 311.07h1.46v54.45h-1.46zM1857.62 311.07h1.46v54.45h-1.46z"/>
<path fill="#dee096" d="M155.2 311.07h1.46v54.45h-1.46zM190.27 311.07h1.46v54.45h-1.46zM229.73 311.07h1.46v54.45h-1.46zM237.03 311.07h1.46v54.45h-1.46zM272.11 311.07h2.92v54.45h-2.92zM314.48 311.07h1.46v54.45h-1.46zM333.48 311.07h2.92v54.45h-2.92zM351.02 311.07h1.46v54.45h-1.46zM378.78 311.07h1.46v54.45h-1.46zM399.24 311.07h2.92v54.45h-2.92zM425.54 311.07h2.92v54.45h-2.92zM462.07 311.07h1.46v54.45h-1.46zM536.6 311.07h1.46v54.45h-1.46zM577.52 311.07h1.46v54.45h-1.46zM592.13 311.07h2.92v54.45h-2.92zM650.58 311.07h1.46v54.45h-1.46zM659.35 311.07h1.46v54.45h-1.46zM669.58 311.07h4.38v54.45h-4.38zM681.27 311.07h1.46v54.45h-1.46zM698.81 311.07h1.46v54.45h-1.46zM707.57 311.07h1.46v54.45h-1.46zM716.34 311.07h2.92v54.45h-2.92zM722.19 311.07h1.46v54.45h-1.46zM763.1 311.07h1.46v54.45h-1.46zM786.48 311.07h1.46v54.45h-1.46zM871.24 311.07h1.46v54.45h-1.46zM887.31 311.07h1.46v54.45h-1.46zM957.46 311.07h1.46v54.45h-1.46zM980.84 311.07h1.46v54.45h-1.46zM991.07 311.07h1.46v54.45h-1.46zM1023.21 311.07h2.92v54.45h-2.92zM1027.6 311.07h1.46v54.45h-1.46zM1191.26 311.07h2.92v54.45h-2.92zM1230.72 311.07h2.92v54.45h-2.92zM1240.95 311.07h1.46v54.45h-1.46zM1252.64 311.07h1.46v54.45h-1.46zM1289.17 311.07h1.46v54.45h-1.46zM1300.86 311.07h1.46v54.45h-1.46zM1334.47 311.07h1.46v54.45h-1.46zM1341.78 311.07h1.46v54.45h-1.46zM1354.93 311.07h1.46v54.45h-1.46zM1378.31 311.07h1.46v54.45h-1.46zM1464.53 311.07h2.92v54.45h-2.92zM1471.83 311.07h1.46v54.45h-1.46zM1498.14 311.07h1.46v54.45h-1.46zM1506.9 311.07h1.46v54.45h-1.46zM1518.59 311.07h1.46v54.45h-1.46zM1522.98 311.07h1.46v54.45h-1.46zM1555.13 311.07h1.46v54.45h-1.46zM1615.04 311.07h1.46v54.45h-1.46zM1639.88 311.07h1.46v54.45h-1.46zM1720.25 311.07h1.46v54.45h-1.46zM1783.09 311.07h1.46v54.45h-1.46zM1862 311.07h1.46v54.45h-1.46z"/>
<path fill="#d6e098" d="M158.12 311.07h1.46v54.45h-1.46zM210.73 311.07h1.46v54.45h-1.46zM250.19 311.07h1.46v54.45h-1.46zM257.49 311.07h1.46v54.45h-1.46zM313.02 311.07h1.46v54.45h-1.46zM352.48 311.07h1.46v54.45h-1.46zM386.09 311.07h1.46v54.45h-1.46zM483.99 311.07h1.46v54.45h-1.46zM505.91 311.07h2.92v54.45h-2.92zM519.07 311.07h2.92v54.45h-2.92zM530.76 311.07h1.46v54.45h-1.46zM540.99 311.07h1.46v54.45h-1.46zM548.29 311.07h1.46v54.45h-1.46zM573.13 311.07h1.46v54.45h-1.46zM608.21 311.07h2.92v54.45h-2.92zM621.36 311.07h4.38v54.45h-4.38zM649.12 311.07h1.46v54.45h-1.46zM701.73 311.07h1.46v54.45h-1.46zM709.03 311.07h1.46v54.45h-1.46zM723.65 311.07h2.92v54.45h-2.92zM837.63 311.07h1.46v54.45h-1.46zM863.93 311.07h2.92v54.45h-2.92zM869.78 311.07h1.46v54.45h-1.46zM872.7 311.07h1.46v54.45h-1.46zM875.62 311.07h2.92v54.45h-2.92zM880.01 311.07h1.46v54.45h-1.46zM899 311.07h1.46v54.45h-1.46zM906.31 311.07h1.46v54.45h-1.46zM919.46 311.07h2.92v54.45h-2.92zM955.99 311.07h1.46v54.45h-1.46zM964.76 311.07h1.46v54.45h-1.46zM972.07 311.07h1.46v54.45h-1.46zM992.53 311.07h2.92v54.45h-2.92zM1014.45 311.07h1.46v54.45h-1.46zM1042.21 311.07h4.38v54.45h-4.38zM1049.52 311.07h1.46v54.45h-1.46zM1211.72 311.07h2.92v54.45h-2.92zM1221.95 311.07h1.46v54.45h-1.46zM1258.48 311.07h1.46v54.45h-1.46zM1287.71 311.07h1.46v54.45h-1.46zM1353.47 311.07h1.46v54.45h-1.46zM1403.15 311.07h1.46v54.45h-1.46zM1416.3 311.07h1.46v54.45h-1.46zM1433.84 311.07h1.46v54.45h-1.46zM1445.53 311.07h1.46v54.45h-1.46zM1483.52 311.07h2.92v54.45h-2.92zM1493.75 311.07h1.46v54.45h-1.46zM1499.6 311.07h4.38v54.45h-4.38zM1547.82 311.07h1.46v54.45h-1.46zM1588.74 311.07h1.46v54.45h-1.46zM1613.58 311.07h1.46v54.45h-1.46zM1632.58 311.07h1.46v54.45h-1.46zM1641.34 311.07h1.46v54.45h-1.46zM1670.57 311.07h4.38v54.45h-4.38zM1683.72 311.07h1.46v54.45h-1.46zM1777.25 311.07h2.92v54.45h-2.92zM1784.55 311.07h2.92v54.45h-2.92zM1809.39 311.07h1.46v54.45h-1.46z"/>
<path fill="#b8e0a3" d="M159.59 311.07h1.46v54.45h-1.46zM203.42 311.07h2.92v54.45h-2.92zM244.34 311.07h2.92v54.45h-2.92zM285.26 311.07h1.46v54.45h-1.46zM494.22 311.07h2.92v54.45h-2.92zM551.21 311.07h1.46v54.45h-1.46zM602.36 311.07h1.46v54.45h-1.46zM643.28 311.07h2.92v54.45h-2.92zM666.66 311.07h2.92v54.45h-2.92zM682.73 311.07h2.92v54.45h-2.92zM855.16 311.07h1.46v54.45h-1.46zM939.92 311.07h2.92v54.45h-2.92zM951.61 311.07h1.46v54.45h-1.46zM954.53 311.07h1.46v54.45h-1.46zM958.92 311.07h1.46v54.45h-1.46zM988.14 311.07h1.46v54.45h-1.46zM1242.41 311.07h1.46v54.45h-1.46zM1259.94 311.07h2.92v54.45h-2.92zM1384.16 311.07h1.46v54.45h-1.46zM1455.76 311.07h2.92v54.45h-2.92zM1559.51 311.07h1.46v54.45h-1.46zM1584.35 311.07h1.46v54.45h-1.46zM1587.28 311.07h1.46v54.45h-1.46zM1626.73 311.07h4.38v54.45h-4.38zM1723.18 311.07h1.46v54.45h-1.46zM1753.86 311.07h1.46v54.45h-1.46zM1780.17 311.07h1.46v54.45h-1.46z"/>
<path fill="#7cd58a" d="M161.05 311.07h1.46v54.45h-1.46zM289.64 311.07h1.46v54.45h-1.46zM353.94 311.07h2.92v54.45h-2.92zM687.12 311.07h1.46v54.45h-1.46zM996.91 311.07h1.46v54.45h-1.46zM1560.97 311.07h2.92v54.45h-2.92zM1572.66 311.07h1.46v54.45h-1.46zM1651.57 311.07h2.92v54.45h-2.92zM1655.96 311.07h1.46v54.45h-1.46zM1800.63 311.07h2.92v54.45h-2.92z"/>
<path fill="#b0e0a6" d="M162.51 311.07h1.46v54.45h-1.46zM405.08 311.07h1.46v54.45h-1.46zM597.98 311.07h1.46v54.45h-1.46zM711.96 311.07h2.92v54.45h-2.92zM741.18 311.07h1.46v54.45h-1.46zM942.84 311.07h1.46v54.45h-1.46zM963.3 311.07h1.46v54.45h-1.46zM977.91 311.07h1.46v54.45h-1.46zM1167.88 311.07h1.46v54.45h-1.46zM1290.63 311.07h1.46v54.45h-1.46zM1311.09 311.07h1.46v54.45h-1.46zM1398.77 311.07h1.46v54.45h-1.46zM1414.84 311.07h1.46v54.45h-1.46zM1487.91 311.07h1.46v54.45h-1.46zM1563.9 311.07h4.38v54.45h-4.38zM1578.51 311.07h1.46v54.45h-1.46zM1585.81 311.07h1.46v54.45h-1.46zM1591.66 311.07h1.46v54.45h-1.46zM1648.65 311.07h1.46v54.45h-1.46zM1718.79 311.07h1.46v54.45h-1.46zM1745.1 311.07h2.92v54.45h-2.92zM1759.71 311.07h2.92v54.45h-2.92zM1765.55 311.07h1.46v54.45h-1.46z"/>
<path fill="#70d382" d="M163.97 311.07h1.46v54.45h-1.46zM714.88 311.07h1.46v54.45h-1.46zM856.63 311.07h1.46v54.45h-1.46zM894.62 311.07h1.46v54.45h-1.46zM1360.77 311.07h1.46v54.45h-1.46zM1524.44 311.07h1.46v54.45h-1.46zM1543.44 311.07h1.46v54.45h-1.46zM1654.5 311.07h1.46v54.45h-1.46zM1657.42 311.07h1.46v54.45h-1.46z"/>
<path fill="#fdba6a" d="M166.89 311.07h1.46v54.45h-1.46zM184.43 311.07h1.46v54.45h-1.46zM187.35 311.07h1.46v54.45h-1.46zM267.72 311.07h1.46v54.45h-1.46zM270.64 311.07h1.46v54.45h-1.46zM302.79 311.07h1.46v54.45h-1.46zM318.87 311.07h1.46v54.45h-1.46zM377.32 311.07h1.46v54.45h-1.46zM384.63 311.07h1.46v54.45h-1.46zM635.97 311.07h1.46v54.45h-1.46zM771.87 311.07h1.46v54.45h-1.46zM935.54 311.07h1.46v54.45h-1.46zM1080.2 311.07h1.46v54.45h-1.46zM1093.36 311.07h1.46v54.45h-1.46zM1102.12 311.07h1.46v54.45h-1.46zM1397.31 311.07h1.46v54.45h-1.46zM1739.25 311.07h1.46v54.45h-1.46zM1807.93 311.07h1.46v54.45h-1.46zM1819.62 311.07h2.92v54.45h-2.92zM1831.31 311.07h1.46v54.45h-1.46zM1840.08 311.07h1.46v54.45h-1.46zM1872.23 311.07h1.46v54.45h-1.46z"/>
<path fill="#fdb062" d="M178.58 311.07h1.46v54.45h-1.46zM182.97 311.07h1.46v54.45h-1.46zM185.89 311.07h1.46v54.45h-1.46zM428.47 311.07h1.46v54.45h-1.46zM809.86 311.07h1.46v54.45h-1.46zM923.85 311.07h1.46v54.45h-1.46zM1084.59 311.07h1.46v54.45h-1.46zM1106.51 311.07h1.46v54.45h-1.46zM1834.24 311.07h1.46v54.45h-1.46z"/>
<path fill="#fdb566" d="M180.04 311.07h1.46v54.45h-1.46zM258.95 311.07h1.46v54.45h-1.46zM279.41 311.07h1.46v54.45h-1.46zM780.64 311.07h1.46v54.45h-1.46zM793.79 311.07h1.46v54.45h-1.46zM799.64 311.07h1.46v54.45h-1.46zM814.25 311.07h1.46v54.45h-1.46zM1055.36 311.07h1.46v54.45h-1.46zM1094.82 311.07h1.46v54.45h-1.46zM1099.2 311.07h1.46v54.45h-1.46zM1186.88 311.07h1.46v54.45h-1.46zM1521.52 311.07h1.46v54.45h-1.46zM1806.47 311.07h1.46v54.45h-1.46zM1816.7 311.07h1.46v54.45h-1.46z"/>
<path fill="#f7814c" d="M191.73 311.07h1.46v54.45h-1.46zM196.12 311.07h1.46v54.45h-1.46zM916.54 311.07h1.46v54.45h-1.46zM1850.31 311.07h1.46v54.45h-1.46z"/>
<path fill="#ef6547" d="M194.66 311.07h1.46v54.45h-1.46z"/>
<path fill="#bfe0a1" d="M199.04 311.07h4.38v54.45h-4.38zM282.34 311.07h2.92v54.45h-2.92zM286.72 311.07h2.92v54.45h-2.92zM362.71 311.07h1.46v54.45h-1.46zM367.09 311.07h1.46v54.45h-1.46zM469.38 311.07h1.46v54.45h-1.46zM472.3 311.07h1.46v54.45h-1.46zM497.15 311.07h1.46v54.45h-1.46zM521.99 311.07h1.46v54.45h-1.46zM532.22 311.07h1.46v54.45h-1.46zM555.6 311.07h1.46v54.45h-1.46zM595.05 311.07h1.46v54.45h-1.46zM600.9 311.07h1.46v54.45h-1.46zM603.82 311.07h1.46v54.45h-1.46zM625.74 311.07h1.46v54.45h-1.46zM729.49 311.07h4.38v54.45h-4.38zM758.72 311.07h1.46v54.45h-1.46zM944.3 311.07h1.46v54.45h-1.46zM967.68 311.07h1.46v54.45h-1.46zM982.3 311.07h2.92v54.45h-2.92zM1018.83 311.07h1.46v54.45h-1.46zM1029.06 311.07h1.46v54.45h-1.46zM1053.9 311.07h1.46v54.45h-1.46zM1229.26 311.07h1.46v54.45h-1.46zM1251.18 311.07h1.46v54.45h-1.46zM1271.64 311.07h1.46v54.45h-1.46zM1284.79 311.07h2.92v54.45h-2.92zM1346.16 311.07h4.38v54.45h-4.38zM1401.69 311.07h1.46v54.45h-1.46zM1410.46 311.07h1.46v54.45h-1.46zM1452.84 311.07h2.92v54.45h-2.92zM1458.68 311.07h1.46v54.45h-1.46zM1474.76 311.07h1.46v54.45h-1.46zM1503.98 311.07h1.46v54.45h-1.46zM1574.12 311.07h4.38v54.45h-4.38zM1594.58 311.07h2.92v54.45h-2.92zM1610.66 311.07h2.92v54.45h-2.92zM1679.34 311.07h1.46v54.45h-1.46zM1699.8 311.07h4.38v54.45h-4.38zM1781.63 311.07h1.46v54.45h-1.46zM1787.47 311.07h1.46v54.45h-1.46z"/>
<path fill="#f4e08e" d="M218.04 311.07h1.46v54.45h-1.46zM248.73 311.07h1.46v54.45h-1.46zM356.86 311.07h2.92v54.45h-2.92zM380.24 311.07h1.46v54.45h-1.46zM432.85 311.07h2.92v54.45h-2.92zM476.69 311.07h2.92v54.45h-2.92zM554.14 311.07h1.46v54.45h-1.46zM561.44 311.07h4.38v54.45h-4.38zM571.67 311.07h1.46v54.45h-1.46zM574.6 311.07h1.46v54.45h-1.46zM589.21 311.07h1.46v54.45h-1.46zM633.05 311.07h2.92v54.45h-2.92zM719.26 311.07h1.46v54.45h-1.46zM748.49 311.07h2.92v54.45h-2.92zM834.71 311.07h2.92v54.45h-2.92zM844.94 311.07h1.46v54.45h-1.46zM849.32 311.07h1.46v54.45h-1.46zM861.01 311.07h2.92v54.45h-2.92zM900.47 311.07h5.85v54.45h-5.85zM912.16 311.07h2.92v54.45h-2.92zM926.77 311.07h1.46v54.45h-1.46zM1036.37 311.07h1.46v54.45h-1.46zM1065.59 311.07h1.46v54.45h-1.46zM1200.03 311.07h1.46v54.45h-1.46zM1208.8 311.07h1.46v54.45h-1.46zM1220.49 311.07h1.46v54.45h-1.46zM1223.41 311.07h1.46v54.45h-1.46zM1235.1 311.07h2.92v54.45h-2.92zM1243.87 311.07h1.46v54.45h-1.46zM1306.71 311.07h1.46v54.45h-1.46zM1337.39 311.07h1.46v54.45h-1.46zM1359.31 311.07h1.46v54.45h-1.46zM1400.23 311.07h1.46v54.45h-1.46zM1423.61 311.07h1.46v54.45h-1.46zM1550.74 311.07h1.46v54.45h-1.46zM1558.05 311.07h1.46v54.45h-1.46zM1616.5 311.07h1.46v54.45h-1.46zM1638.42 311.07h1.46v54.45h-1.46zM1682.26 311.07h1.46v54.45h-1.46zM1685.18 311.07h2.92v54.45h-2.92zM1727.56 311.07h5.85v54.45h-5.85zM1762.63 311.07h1.46v54.45h-1.46zM1790.4 311.07h1.46v54.45h-1.46zM1841.54 311.07h1.46v54.45h-1.46zM1859.08 311.07h1.46v54.45h-1.46z"/>
<path fill="#fcdb87" d="M222.42 311.07h1.46v54.45h-1.46zM235.57 311.07h1.46v54.45h-1.46zM239.96 311.07h1.46v54.45h-1.46zM292.56 311.07h1.46v54.45h-1.46zM304.25 311.07h2.92v54.45h-2.92zM317.41 311.07h1.46v54.45h-1.46zM320.33 311.07h1.46v54.45h-1.46zM332.02 311.07h1.46v54.45h-1.46zM349.55 311.07h1.46v54.45h-1.46zM389.01 311.07h1.46v54.45h-1.46zM402.16 311.07h2.92v54.45h-2.92zM508.84 311.07h1.46v54.45h-1.46zM538.06 311.07h2.92v54.45h-2.92zM543.91 311.07h1.46v54.45h-1.46zM546.83 311.07h1.46v54.45h-1.46zM559.98 311.07h1.46v54.45h-1.46zM587.75 311.07h1.46v54.45h-1.46zM611.13 311.07h1.46v54.45h-1.46zM627.2 311.07h1.46v54.45h-1.46zM662.27 311.07h1.46v54.45h-1.46zM665.2 311.07h1.46v54.45h-1.46zM676.89 311.07h2.92v54.45h-2.92zM690.04 311.07h8.77v54.45h-8.77zM726.57 311.07h2.92v54.45h-2.92zM785.02 311.07h1.46v54.45h-1.46zM806.94 311.07h1.46v54.45h-1.46zM842.01 311.07h1.46v54.45h-1.46zM910.69 311.07h1.46v54.45h-1.46zM922.38 311.07h1.46v54.45h-1.46zM929.69 311.07h1.46v54.45h-1.46zM1007.14 311.07h4.38v54.45h-4.38zM1021.75 311.07h1.46v54.45h-1.46zM1030.52 311.07h2.92v54.45h-2.92zM1037.83 311.07h2.92v54.45h-2.92zM1216.11 311.07h1.46v54.45h-1.46zM1255.56 311.07h1.46v54.45h-1.46zM1273.1 311.07h2.92v54.45h-2.92zM1338.86 311.07h1.46v54.45h-1.46zM1388.54 311.07h5.85v54.45h-5.85zM1444.07 311.07h1.46v54.45h-1.46zM1546.36 311.07h1.46v54.45h-1.46zM1593.12 311.07h1.46v54.45h-1.46zM1609.2 311.07h1.46v54.45h-1.46zM1691.03 311.07h4.38v54.45h-4.38zM1704.18 311.07h4.38v54.45h-4.38zM1767.02 311.07h4.38v54.45h-4.38zM1788.94 311.07h1.46v54.45h-1.46zM1853.23 311.07h1.46v54.45h-1.46zM1860.54 311.07h1.46v54.45h-1.46zM1882.46 311.07h1.46v54.45h-1.46z"/>
<path fill="#fcd27f" d="M223.88 311.07h1.46v54.45h-1.46zM266.26 311.07h1.46v54.45h-1.46zM307.18 311.07h2.92v54.45h-2.92zM391.93 311.07h1.46v54.45h-1.46zM397.78 311.07h1.46v54.45h-1.46zM435.77 311.07h2.92v54.45h-2.92zM463.54 311.07h2.92v54.45h-2.92zM524.91 311.07h4.38v54.45h-4.38zM558.52 311.07h1.46v54.45h-1.46zM584.82 311.07h1.46v54.45h-1.46zM802.56 311.07h1.46v54.45h-1.46zM827.4 311.07h1.46v54.45h-1.46zM839.09 311.07h1.46v54.45h-1.46zM890.24 311.07h4.38v54.45h-4.38zM915.08 311.07h1.46v54.45h-1.46zM934.07 311.07h1.46v54.45h-1.46zM1056.82 311.07h4.38v54.45h-4.38zM1324.24 311.07h1.46v54.45h-1.46zM1530.29 311.07h1.46v54.45h-1.46zM1540.51 311.07h2.92v54.45h-2.92zM1544.9 311.07h1.46v54.45h-1.46zM1553.67 311.07h1.46v54.45h-1.46zM1755.33 311.07h4.38v54.45h-4.38zM1864.92 311.07h1.46v54.45h-1.46zM1875.15 311.07h1.46v54.45h-1.46zM1879.54 311.07h1.46v54.45h-1.46z"/>
<path fill="#63d07b" d="M361.25 311.07h1.46v54.45h-1.46zM1233.64 311.07h1.46v54.45h-1.46zM1404.61 311.07h1.46v54.45h-1.46zM1486.45 311.07h1.46v54.45h-1.46zM1666.19 311.07h1.46v54.45h-1.46z"/>
<path fill="#fca95f" d="M450.38 311.07h1.46v54.45h-1.46zM523.45 311.07h1.46v54.45h-1.46zM630.12 311.07h1.46v54.45h-1.46zM789.41 311.07h1.46v54.45h-1.46zM808.4 311.07h1.46v54.45h-1.46zM823.02 311.07h1.46v54.45h-1.46zM1088.97 311.07h2.92v54.45h-2.92zM1096.28 311.07h2.92v54.45h-2.92zM1371 311.07h1.46v54.45h-1.46zM1829.85 311.07h1.46v54.45h-1.46zM1832.77 311.07h1.46v54.45h-1.46zM1867.85 311.07h1.46v54.45h-1.46zM1878.07 311.07h1.46v54.45h-1.46zM1886.84 311.07h1.46v54.45h-1.46z"/>
<path fill="#fba35c" d="M475.23 311.07h1.46v54.45h-1.46zM812.79 311.07h1.46v54.45h-1.46zM815.71 311.07h1.46v54.45h-1.46zM821.55 311.07h1.46v54.45h-1.46zM1461.6 311.07h1.46v54.45h-1.46zM1844.46 311.07h1.46v54.45h-1.46zM1856.16 311.07h1.46v54.45h-1.46z"/>
<path fill="#89d891" d="M535.14 311.07h1.46v54.45h-1.46zM679.81 311.07h1.46v54.45h-1.46zM840.55 311.07h1.46v54.45h-1.46zM843.47 311.07h1.46v54.45h-1.46zM995.45 311.07h1.46v54.45h-1.46zM998.37 311.07h4.38v54.45h-4.38zM1004.22 311.07h1.46v54.45h-1.46zM1296.48 311.07h2.92v54.45h-2.92zM1467.45 311.07h1.46v54.45h-1.46zM1663.26 311.07h2.92v54.45h-2.92zM1733.41 311.07h2.92v54.45h-2.92z"/>
<path fill="#f88e52" d="M764.56 311.07h1.46v54.45h-1.46zM767.49 311.07h2.92v54.45h-2.92zM790.87 311.07h1.46v54.45h-1.46zM818.63 311.07h1.46v54.45h-1.46zM1105.05 311.07h1.46v54.45h-1.46z"/>
<path fill="#fa9c59" d="M817.17 311.07h1.46v54.45h-1.46zM820.09 311.07h1.46v54.45h-1.46z"/>
<path fill="#248590" d="M881.47 311.07h2.92v54.45h-2.92zM1132.81 311.07h1.46v54.45h-1.46zM1148.89 311.07h2.92v54.45h-2.92zM1162.04 311.07h2.92v54.45h-2.92z"/>
<path fill="#f16945" d="M937 311.07h2.92v54.45h-2.92z"/>
<path fill="#f99556" d="M1086.05 311.07h1.46v54.45h-1.46zM1103.59 311.07h1.46v54.45h-1.46zM1350.55 311.07h2.92v54.45h-2.92zM1631.12 311.07h1.46v54.45h-1.46zM1843 311.07h1.46v54.45h-1.46zM1845.93 311.07h1.46v54.45h-1.46z"/>
<path fill="#2650a2" d="M1112.35 311.07h1.46v54.45h-1.46zM1137.2 311.07h1.46v54.45h-1.46zM1143.04 311.07h5.85v54.45h-5.85z"/>
<path fill="#2655a4" d="M1115.28 311.07h2.92v54.45h-2.92z"/>
<path fill="#274ca0" d="M1119.66 311.07h1.46v54.45h-1.46zM1122.58 311.07h1.46v54.45h-1.46zM1135.73 311.07h1.46v54.45h-1.46zM1138.66 311.07h1.46v54.45h-1.46zM1156.19 311.07h1.46v54.45h-1.46z"/>
<path fill="#28439a" d="M1121.12 311.07h1.46v54.45h-1.46zM1128.43 311.07h1.46v54.45h-1.46zM1134.27 311.07h1.46v54.45h-1.46zM1154.73 311.07h1.46v54.45h-1.46zM1159.12 311.07h2.92v54.45h-2.92z"/>
<path fill="#293f98" d="M1124.04 311.07h1.46v54.45h-1.46zM1166.42 311.07h1.46v54.45h-1.46zM1169.34 311.07h1.46v54.45h-1.46z"/>
<path fill="#27479d" d="M1125.51 311.07h1.46v54.45h-1.46zM1131.35 311.07h1.46v54.45h-1.46zM1140.12 311.07h2.92v54.45h-2.92zM1151.81 311.07h2.92v54.45h-2.92zM1173.73 311.07h8.77v54.45h-8.77z"/>
<path fill="#293a96" d="M1126.97 311.07h1.46v54.45h-1.46zM1164.96 311.07h1.46v54.45h-1.46z"/>
<path fill="#26908a" d="M1129.89 311.07h1.46v54.45h-1.46z"/>
<path fill="#f46d43" d="M1847.39 311.07h1.46v54.45h-1.46z"/>
<path fill="#f57446" d="M1848.85 311.07h1.46v54.45h-1.46z"/>
<path fill="#b3b3b3" d="M103.88 365.52h3.75v38.4h-3.75zM116.25 365.52h11.5v38.4h-11.5zM147.88 365.52h3.75v38.4h-3.75zM172.62 365.52h3.75v38.4h-3.75zM187.12 365.52h3.75v38.4h-3.75zM213.38 365.52h3.75v38.4h-3.75zM239.62 365.52h3.75v38.4h-3.75zM245.88 365.52h3.75v38.4h-3.75zM303.12 365.52h3.75v38.4h-3.75zM312.38 365.52h3.75v38.4h-3.75zM324.38 365.52h3.75v38.4h-3.75zM349.38 365.52h3.75v38.4h-3.75zM401.88 365.52h3.75v38.4h-3.75zM422.38 365.52h3.75v38.4h-3.75zM426.88 365.52h3.75v38.4h-3.75zM451.62 365.52h3.75v38.4h-3.75zM493.62 365.52h3.75v38.4h-3.75zM531.88 365.52h3.75v38.4h-3.75zM540.12 365.52h7.75v38.4h-7.75zM592.62 365.52h3.75v38.4h-3.75zM625.62 365.52h3.75v38.4h-3.75zM649.12 365.52h3.75v38.4h-3.75zM663 365.52h6v38.4h-6zM713.62 365.52h3.75v38.4h-3.75zM759.25 365.52h4.5v38.4h-4.5zM776.62 365.52h3.75v38.4h-3.75zM814.38 365.52h3.75v38.4h-3.75zM834.5 365.52h11.5v38.4h-11.5zM907.62 365.52h3.75v38.4h-3.75zM930.38 365.52h3.75v38.4h-3.75zM946.62 365.52h3.75v38.4h-3.75zM966 365.52h6v38.4h-6zM980.38 365.52h3.75v38.4h-3.75zM1018.88 365.52h3.75v38.4h-3.75zM1054.25 365.52h7v38.4h-7zM1072.62 365.52h3.75v38.4h-3.75zM1101.12 365.52h3.75v38.4h-3.75zM1114.38 365.52h3.75v38.4h-3.75zM1191.12 365.52h3.75v38.4h-3.75zM1200.25 365.52h5v38.4h-5zM1240 365.52h7.5v38.4h-7.5zM1289.62 365.52h3.75v38.4h-3.75zM1348.88 365.52h3.75v38.4h-3.75zM1372.12 365.52h3.75v38.4h-3.75zM1391.62 365.52h3.75v38.4h-3.75zM1431.12 365.52h3.75v38.4h-3.75zM1502.62 365.52h3.75v38.4h-3.75zM1543.12 365.52h3.75v38.4h-3.75zM1570.88 365.52h3.75v38.4h-3.75zM1581.38 365.52h3.75v38.4h-3.75zM1595.12 365.52h3.75v38.4h-3.75zM1601.12 365.52h3.75v38.4h-3.75zM1610.75 365.52h5v38.4h-5zM1634.12 365.52h3.75v38.4h-3.75zM1644.25 365.52h5.5v38.4h-5.5zM1653.12 365.52h3.75v38.4h-3.75zM1676.38 365.52h3.75v38.4h-3.75zM1719 365.52h5v38.4h-5zM1731.62 365.52h3.75v38.4h-3.75zM1799.62 365.52h3.75v38.4h-3.75zM1877.62 365.52h3.75v38.4h-3.75z"/>
<path fill="#ffa500" d="M1134.62 365.52h3.75v38.4h-3.75zM1150.38 365.52h3.75v38.4h-3.75z"/>
<path fill="#cc0000" d="M1161.62 365.52h3.75v38.4h-3.75z"/>
<path fill="#00cc00" d="M1131 365.52h3.5v38.4h-3.5z"/>
<line x1="86.2" x2="94.1" y1="293.1" y2="293.1" stroke="#333" stroke-width="3.6"/>
<text class="yl" x="79.6" y="302">10</text>
<line x1="86.2" x2="94.1" y1="268.82" y2="268.82" stroke="#333" stroke-width="3.6"/>
<text class="yl" x="79.6" y="277.72">30</text>
<line x1="86.2" x2="94.1" y1="244.54" y2="244.54" stroke="#333" stroke-width="3.6"/>
<text class="yl" x="79.6" y="253.44">50</text>
<rect x="1951.15" y="223.5" width="48.85" height="188.75" fill="#d9d9d9"/>
<text class="st" transform="translate(1963.6 242.3) rotate(90)">Contig 2</text>
</g>
<g id="panel3">
<line x1="93.6" x2="1680" y1="507.64" y2="507.64" stroke="#8a8a8a" stroke-width="1" stroke-dasharray="10.8 9.929"/>
<line x1="93.6" x2="1680" y1="483.36" y2="483.36" stroke="#8a8a8a" stroke-width="1" stroke-dasharray="10.8 9.929"/>
<line x1="93.6" x2="1680" y1="459.37" y2="459.37" stroke="#8a8a8a" stroke-width="1" stroke-dasharray="10.8 9.929"/>
<line x1="93.6" x2="1680" y1="435.09" y2="435.09" stroke="#8a8a8a" stroke-width="1" stroke-dasharray="10.8 9.929"/>
<path fill="#575757" d="M98.35 455.64h26.45v64.03h-26.45zM127.57 444.75h26.45v74.92h-26.45zM156.8 453.22h26.45v66.45h-26.45zM186.03 458.06h26.45v61.61h-26.45zM215.25 458.06h26.45v61.61h-26.45zM244.47 445.96h26.45v73.71h-26.45zM273.7 465.32h26.45v54.35h-26.45zM302.93 445.96h26.45v73.71h-26.45zM332.15 453.22h26.45v66.45h-26.45zM361.38 449.59h26.45v70.08h-26.45zM390.6 455.64h26.45v64.03h-26.45zM419.83 458.06h26.45v61.61h-26.45zM449.05 458.06h26.45v61.61h-26.45zM478.27 454.43h26.45v65.24h-26.45zM507.5 450.8h26.45v68.87h-26.45zM536.73 454.43h26.45v65.24h-26.45zM565.95 460.48h26.45v59.19h-26.45zM595.18 464.11h26.45v55.56h-26.45zM624.4 454.43h26.45v65.24h-26.45zM653.62 448.38h26.45v71.29h-26.45zM682.85 461.69h26.45v57.98h-26.45zM712.08 454.43h26.45v65.24h-26.45zM741.3 461.69h26.45v57.98h-26.45zM770.53 459.27h26.45v60.4h-26.45zM799.75 450.8h26.45v68.87h-26.45zM828.98 466.53h26.45v53.14h-26.45zM858.2 441.12h26.45v78.55h-26.45zM887.43 447.17h26.45v72.5h-26.45zM916.65 445.96h26.45v73.71h-26.45zM945.88 448.38h26.45v71.29h-26.45zM975.1 456.85h26.45v62.82h-26.45zM1004.33 459.27h26.45v60.4h-26.45zM1033.55 483.47h26.45v36.2h-26.45zM1062.78 478.63h26.45v41.04h-26.45zM1092 465.32h26.45v54.35h-26.45zM1121.22 450.8h26.45v68.87h-26.45zM1150.45 459.27h26.45v60.4h-26.45zM1179.67 453.22h26.45v66.45h-26.45zM1208.9 462.9h26.45v56.77h-26.45zM1238.12 458.06h26.45v61.61h-26.45zM1267.35 455.64h26.45v64.03h-26.45zM1296.58 456.85h26.45v62.82h-26.45zM1325.8 473.79h26.45v45.88h-26.45zM1355.02 464.11h26.45v55.56h-26.45zM1384.25 464.11h26.45v55.56h-26.45zM1413.47 470.16h26.45v49.51h-26.45zM1442.7 460.48h26.45v59.19h-26.45zM1471.92 459.27h26.45v60.4h-26.45zM1501.15 465.32h26.45v54.35h-26.45zM1530.38 467.74h26.45v51.93h-26.45zM1559.6 473.79h26.45v45.88h-26.45zM1588.83 477.42h26.45v42.25h-26.45zM1618.05 477.42h26.45v42.25h-26.45zM1647.28 470.16h26.45v49.51h-26.45z"/>
<rect x="96.75" y="525.72" width="1574" height="54.45" fill="#ecdc92"/>
<rect x="527.83" y="526.22" width="7.31" height="53.45" fill="#fa9c59"/>
<rect x="600.9" y="526.22" width="14.61" height="53.45" fill="#fdb768"/>
<rect x="697.34" y="526.22" width="5.85" height="53.45" fill="#f88e52"/>
<rect x="837.63" y="526.22" width="8.77" height="53.45" fill="#63d07b"/>
<rect x="1017.37" y="526.22" width="10.23" height="53.45" fill="#f8884f"/>
<rect x="1036.37" y="526.22" width="62.84" height="53.45" fill="#27499e"/>
<rect x="1099.2" y="526.22" width="10.23" height="53.45" fill="#fdc372"/>
<path fill="#fce08b" d="M96.75 525.72h1.46v54.45h-1.46zM142.05 525.72h1.46v54.45h-1.46zM215.12 525.72h2.92v54.45h-2.92zM237.03 525.72h1.46v54.45h-1.46zM334.94 525.72h1.46v54.45h-1.46zM356.86 525.72h1.46v54.45h-1.46zM424.08 525.72h2.92v54.45h-2.92zM508.84 525.72h1.46v54.45h-1.46zM517.6 525.72h4.38v54.45h-4.38zM535.14 525.72h1.46v54.45h-1.46zM545.37 525.72h2.92v54.45h-2.92zM554.14 525.72h1.46v54.45h-1.46zM557.06 525.72h1.46v54.45h-1.46zM589.21 525.72h1.46v54.45h-1.46zM628.66 525.72h1.46v54.45h-1.46zM688.58 525.72h1.46v54.45h-1.46zM719.26 525.72h2.92v54.45h-2.92zM846.4 525.72h2.92v54.45h-2.92zM942.84 525.72h1.46v54.45h-1.46zM960.38 525.72h1.46v54.45h-1.46zM1131.35 525.72h1.46v54.45h-1.46zM1182.5 525.72h1.46v54.45h-1.46zM1198.57 525.72h2.92v54.45h-2.92zM1207.34 525.72h1.46v54.45h-1.46zM1214.64 525.72h2.92v54.45h-2.92zM1242.41 525.72h1.46v54.45h-1.46zM1286.25 525.72h1.46v54.45h-1.46zM1344.7 525.72h1.46v54.45h-1.46zM1359.31 525.72h1.46v54.45h-1.46zM1366.62 525.72h1.46v54.45h-1.46zM1392.92 525.72h1.46v54.45h-1.46zM1429.46 525.72h1.46v54.45h-1.46zM1593.12 525.72h1.46v54.45h-1.46zM1647.19 525.72h1.46v54.45h-1.46zM1667.65 525.72h1.46v54.45h-1.46z"/>
<path fill="#cee09b" d="M98.21 525.72h1.46v54.45h-1.46zM101.13 525.72h1.46v54.45h-1.46zM182.97 525.72h1.46v54.45h-1.46zM190.27 525.72h2.92v54.45h-2.92zM197.58 525.72h2.92v54.45h-2.92zM222.42 525.72h1.46v54.45h-1.46zM235.57 525.72h1.46v54.45h-1.46zM323.25 525.72h1.46v54.45h-1.46zM332.02 525.72h2.92v54.45h-2.92zM346.63 525.72h1.46v54.45h-1.46zM352.48 525.72h1.46v54.45h-1.46zM367.09 525.72h1.46v54.45h-1.46zM389.01 525.72h1.46v54.45h-1.46zM396.32 525.72h1.46v54.45h-1.46zM438.69 525.72h1.46v54.45h-1.46zM486.92 525.72h1.46v54.45h-1.46zM516.14 525.72h1.46v54.45h-1.46zM581.9 525.72h1.46v54.45h-1.46zM643.28 525.72h1.46v54.45h-1.46zM671.04 525.72h1.46v54.45h-1.46zM691.5 525.72h1.46v54.45h-1.46zM694.42 525.72h2.92v54.45h-2.92zM728.03 525.72h2.92v54.45h-2.92zM805.48 525.72h1.46v54.45h-1.46zM808.4 525.72h1.46v54.45h-1.46zM844.94 525.72h1.46v54.45h-1.46zM904.85 525.72h1.46v54.45h-1.46zM909.23 525.72h1.46v54.45h-1.46zM934.07 525.72h1.46v54.45h-1.46zM938.46 525.72h1.46v54.45h-1.46zM945.77 525.72h1.46v54.45h-1.46zM957.46 525.72h1.46v54.45h-1.46zM1125.51 525.72h1.46v54.45h-1.46zM1137.2 525.72h1.46v54.45h-1.46zM1159.12 525.72h2.92v54.45h-2.92zM1186.88 525.72h1.46v54.45h-1.46zM1210.26 525.72h1.46v54.45h-1.46zM1217.57 525.72h1.46v54.45h-1.46zM1224.87 525.72h1.46v54.45h-1.46zM1268.71 525.72h1.46v54.45h-1.46zM1284.79 525.72h1.46v54.45h-1.46zM1346.16 525.72h1.46v54.45h-1.46zM1349.08 525.72h1.46v54.45h-1.46zM1446.99 525.72h1.46v54.45h-1.46zM1492.29 525.72h1.46v54.45h-1.46zM1552.2 525.72h1.46v54.45h-1.46zM1562.43 525.72h1.46v54.45h-1.46z"/>
<path fill="#d6e098" d="M99.67 525.72h1.46v54.45h-1.46zM128.9 525.72h1.46v54.45h-1.46zM168.35 525.72h1.46v54.45h-1.46zM181.51 525.72h1.46v54.45h-1.46zM267.72 525.72h1.46v54.45h-1.46zM296.95 525.72h1.46v54.45h-1.46zM321.79 525.72h1.46v54.45h-1.46zM343.71 525.72h2.92v54.45h-2.92zM364.17 525.72h2.92v54.45h-2.92zM383.16 525.72h1.46v54.45h-1.46zM427 525.72h1.46v54.45h-1.46zM469.38 525.72h2.92v54.45h-2.92zM485.46 525.72h1.46v54.45h-1.46zM561.44 525.72h1.46v54.45h-1.46zM580.44 525.72h1.46v54.45h-1.46zM619.9 525.72h1.46v54.45h-1.46zM631.59 525.72h1.46v54.45h-1.46zM646.2 525.72h1.46v54.45h-1.46zM654.97 525.72h1.46v54.45h-1.46zM681.27 525.72h1.46v54.45h-1.46zM690.04 525.72h1.46v54.45h-1.46zM692.96 525.72h1.46v54.45h-1.46zM726.57 525.72h1.46v54.45h-1.46zM785.02 525.72h1.46v54.45h-1.46zM787.94 525.72h1.46v54.45h-1.46zM792.33 525.72h4.38v54.45h-4.38zM812.79 525.72h2.92v54.45h-2.92zM836.17 525.72h1.46v54.45h-1.46zM861.01 525.72h1.46v54.45h-1.46zM868.32 525.72h2.92v54.45h-2.92zM918 525.72h1.46v54.45h-1.46zM920.92 525.72h1.46v54.45h-1.46zM977.91 525.72h1.46v54.45h-1.46zM1118.2 525.72h1.46v54.45h-1.46zM1129.89 525.72h1.46v54.45h-1.46zM1135.73 525.72h1.46v54.45h-1.46zM1145.96 525.72h5.85v54.45h-5.85zM1181.03 525.72h1.46v54.45h-1.46zM1183.96 525.72h2.92v54.45h-2.92zM1188.34 525.72h2.92v54.45h-2.92zM1211.72 525.72h1.46v54.45h-1.46zM1232.18 525.72h2.92v54.45h-2.92zM1243.87 525.72h1.46v54.45h-1.46zM1290.63 525.72h1.46v54.45h-1.46zM1322.78 525.72h2.92v54.45h-2.92zM1338.86 525.72h1.46v54.45h-1.46zM1350.55 525.72h1.46v54.45h-1.46zM1406.07 525.72h1.46v54.45h-1.46zM1470.37 525.72h1.46v54.45h-1.46zM1480.6 525.72h1.46v54.45h-1.46zM1487.91 525.72h1.46v54.45h-1.46zM1518.59 525.72h2.92v54.45h-2.92zM1525.9 525.72h1.46v54.45h-1.46zM1528.82 525.72h1.46v54.45h-1.46zM1555.13 525.72h1.46v54.45h-1.46zM1566.82 525.72h1.46v54.45h-1.46zM1581.43 525.72h1.46v54.45h-1.46zM1598.97 525.72h1.46v54.45h-1.46zM1601.89 525.72h1.46v54.45h-1.46z"/>
<path fill="#e5e093" d="M102.6 525.72h5.85v54.45h-5.85zM109.9 525.72h1.46v54.45h-1.46zM149.36 525.72h1.46v54.45h-1.46zM169.81 525.72h2.92v54.45h-2.92zM206.35 525.72h7.31v54.45h-7.31zM248.73 525.72h1.46v54.45h-1.46zM257.49 525.72h1.46v54.45h-1.46zM286.72 525.72h2.92v54.45h-2.92zM361.25 525.72h2.92v54.45h-2.92zM377.32 525.72h1.46v54.45h-1.46zM386.09 525.72h1.46v54.45h-1.46zM390.47 525.72h1.46v54.45h-1.46zM406.55 525.72h1.46v54.45h-1.46zM416.77 525.72h1.46v54.45h-1.46zM467.92 525.72h1.46v54.45h-1.46zM482.53 525.72h1.46v54.45h-1.46zM536.6 525.72h1.46v54.45h-1.46zM571.67 525.72h7.31v54.45h-7.31zM593.59 525.72h1.46v54.45h-1.46zM644.74 525.72h1.46v54.45h-1.46zM660.81 525.72h1.46v54.45h-1.46zM776.25 525.72h2.92v54.45h-2.92zM786.48 525.72h1.46v54.45h-1.46zM801.1 525.72h2.92v54.45h-2.92zM811.33 525.72h1.46v54.45h-1.46zM818.63 525.72h2.92v54.45h-2.92zM824.48 525.72h1.46v54.45h-1.46zM877.08 525.72h2.92v54.45h-2.92zM896.08 525.72h1.46v54.45h-1.46zM899 525.72h2.92v54.45h-2.92zM912.16 525.72h1.46v54.45h-1.46zM915.08 525.72h1.46v54.45h-1.46zM929.69 525.72h1.46v54.45h-1.46zM995.45 525.72h1.46v54.45h-1.46zM1197.11 525.72h1.46v54.45h-1.46zM1227.8 525.72h1.46v54.45h-1.46zM1315.47 525.72h1.46v54.45h-1.46zM1404.61 525.72h1.46v54.45h-1.46zM1425.07 525.72h1.46v54.45h-1.46zM1449.91 525.72h1.46v54.45h-1.46zM1479.14 525.72h1.46v54.45h-1.46zM1498.14 525.72h1.46v54.45h-1.46zM1648.65 525.72h1.46v54.45h-1.46z"/>
<path fill="#ede090" d="M108.44 525.72h1.46v54.45h-1.46zM124.51 525.72h1.46v54.45h-1.46zM225.34 525.72h2.92v54.45h-2.92zM275.03 525.72h1.46v54.45h-1.46zM289.64 525.72h1.46v54.45h-1.46zM381.7 525.72h1.46v54.45h-1.46zM387.55 525.72h1.46v54.45h-1.46zM397.78 525.72h2.92v54.45h-2.92zM418.24 525.72h1.46v54.45h-1.46zM422.62 525.72h1.46v54.45h-1.46zM434.31 525.72h2.92v54.45h-2.92zM440.16 525.72h1.46v54.45h-1.46zM444.54 525.72h1.46v54.45h-1.46zM479.61 525.72h2.92v54.45h-2.92zM483.99 525.72h1.46v54.45h-1.46zM494.22 525.72h2.92v54.45h-2.92zM514.68 525.72h1.46v54.45h-1.46zM540.99 525.72h1.46v54.45h-1.46zM548.29 525.72h4.38v54.45h-4.38zM567.29 525.72h2.92v54.45h-2.92zM595.05 525.72h1.46v54.45h-1.46zM615.51 525.72h1.46v54.45h-1.46zM640.35 525.72h1.46v54.45h-1.46zM659.35 525.72h1.46v54.45h-1.46zM668.12 525.72h1.46v54.45h-1.46zM672.5 525.72h4.38v54.45h-4.38zM714.88 525.72h2.92v54.45h-2.92zM773.33 525.72h2.92v54.45h-2.92zM882.93 525.72h1.46v54.45h-1.46zM916.54 525.72h1.46v54.45h-1.46zM931.15 525.72h2.92v54.45h-2.92zM1143.04 525.72h2.92v54.45h-2.92zM1166.42 525.72h2.92v54.45h-2.92zM1205.88 525.72h1.46v54.45h-1.46zM1213.18 525.72h1.46v54.45h-1.46zM1219.03 525.72h1.46v54.45h-1.46zM1229.26 525.72h1.46v54.45h-1.46zM1239.49 525.72h2.92v54.45h-2.92zM1255.56 525.72h2.92v54.45h-2.92zM1280.4 525.72h4.38v54.45h-4.38zM1371 525.72h1.46v54.45h-1.46zM1382.69 525.72h4.38v54.45h-4.38zM1400.23 525.72h1.46v54.45h-1.46zM1422.15 525.72h1.46v54.45h-1.46zM1460.14 525.72h1.46v54.45h-1.46zM1549.28 525.72h1.46v54.45h-1.46z"/>
<path fill="#fdba6a" d="M111.36 525.72h1.46v54.45h-1.46zM115.75 525.72h2.92v54.45h-2.92zM136.21 525.72h2.92v54.45h-2.92zM510.3 525.72h2.92v54.45h-2.92zM523.45 525.72h1.46v54.45h-1.46zM599.44 525.72h1.46v54.45h-1.46zM608.21 525.72h1.46v54.45h-1.46zM622.82 525.72h2.92v54.45h-2.92zM961.84 525.72h1.46v54.45h-1.46zM1004.22 525.72h1.46v54.45h-1.46zM1245.33 525.72h1.46v54.45h-1.46zM1502.52 525.72h1.46v54.45h-1.46zM1606.27 525.72h1.46v54.45h-1.46zM1623.81 525.72h1.46v54.45h-1.46z"/>
<path fill="#a3dd9f" d="M112.82 525.72h1.46v54.45h-1.46zM172.74 525.72h1.46v54.45h-1.46zM220.96 525.72h1.46v54.45h-1.46zM228.27 525.72h4.38v54.45h-4.38zM302.79 525.72h1.46v54.45h-1.46zM339.33 525.72h1.46v54.45h-1.46zM412.39 525.72h2.92v54.45h-2.92zM656.43 525.72h1.46v54.45h-1.46zM713.42 525.72h1.46v54.45h-1.46zM1157.65 525.72h1.46v54.45h-1.46zM1300.86 525.72h1.46v54.45h-1.46z"/>
<path fill="#b8e0a3" d="M114.29 525.72h1.46v54.45h-1.46zM139.13 525.72h1.46v54.45h-1.46zM156.66 525.72h1.46v54.45h-1.46zM159.59 525.72h1.46v54.45h-1.46zM213.65 525.72h1.46v54.45h-1.46zM242.88 525.72h1.46v54.45h-1.46zM251.65 525.72h1.46v54.45h-1.46zM273.57 525.72h1.46v54.45h-1.46zM291.1 525.72h2.92v54.45h-2.92zM371.47 525.72h4.38v54.45h-4.38zM384.63 525.72h1.46v54.45h-1.46zM400.7 525.72h1.46v54.45h-1.46zM415.31 525.72h1.46v54.45h-1.46zM456.23 525.72h1.46v54.45h-1.46zM465 525.72h1.46v54.45h-1.46zM570.21 525.72h1.46v54.45h-1.46zM596.51 525.72h2.92v54.45h-2.92zM755.8 525.72h1.46v54.45h-1.46zM796.71 525.72h1.46v54.45h-1.46zM865.39 525.72h1.46v54.45h-1.46zM872.7 525.72h4.38v54.45h-4.38zM891.7 525.72h1.46v54.45h-1.46zM937 525.72h1.46v54.45h-1.46zM1126.97 525.72h1.46v54.45h-1.46zM1176.65 525.72h1.46v54.45h-1.46zM1194.19 525.72h2.92v54.45h-2.92zM1202.95 525.72h1.46v54.45h-1.46zM1252.64 525.72h1.46v54.45h-1.46zM1274.56 525.72h1.46v54.45h-1.46zM1352.01 525.72h4.38v54.45h-4.38zM1388.54 525.72h1.46v54.45h-1.46zM1413.38 525.72h1.46v54.45h-1.46zM1461.6 525.72h1.46v54.45h-1.46zM1527.36 525.72h1.46v54.45h-1.46zM1556.59 525.72h1.46v54.45h-1.46zM1645.73 525.72h1.46v54.45h-1.46z"/>
<path fill="#fcdb87" d="M118.67 525.72h4.38v54.45h-4.38zM125.98 525.72h2.92v54.45h-2.92zM177.12 525.72h1.46v54.45h-1.46zM188.81 525.72h1.46v54.45h-1.46zM475.23 525.72h1.46v54.45h-1.46zM478.15 525.72h1.46v54.45h-1.46zM492.76 525.72h1.46v54.45h-1.46zM590.67 525.72h2.92v54.45h-2.92zM621.36 525.72h1.46v54.45h-1.46zM634.51 525.72h1.46v54.45h-1.46zM710.5 525.72h1.46v54.45h-1.46zM722.19 525.72h1.46v54.45h-1.46zM752.87 525.72h2.92v54.45h-2.92zM767.49 525.72h2.92v54.45h-2.92zM885.85 525.72h1.46v54.45h-1.46zM888.77 525.72h2.92v54.45h-2.92zM907.77 525.72h1.46v54.45h-1.46zM999.83 525.72h1.46v54.45h-1.46zM1116.74 525.72h1.46v54.45h-1.46zM1156.19 525.72h1.46v54.45h-1.46zM1175.19 525.72h1.46v54.45h-1.46zM1373.93 525.72h7.31v54.45h-7.31zM1417.77 525.72h1.46v54.45h-1.46zM1426.53 525.72h2.92v54.45h-2.92zM1467.45 525.72h1.46v54.45h-1.46zM1482.06 525.72h1.46v54.45h-1.46zM1496.68 525.72h1.46v54.45h-1.46zM1506.9 525.72h1.46v54.45h-1.46zM1512.75 525.72h2.92v54.45h-2.92zM1590.2 525.72h1.46v54.45h-1.46zM1663.26 525.72h1.46v54.45h-1.46z"/>
<path fill="#fdbe6e" d="M123.05 525.72h1.46v54.45h-1.46zM497.15 525.72h2.92v54.45h-2.92zM504.45 525.72h1.46v54.45h-1.46zM513.22 525.72h1.46v54.45h-1.46zM521.99 525.72h1.46v54.45h-1.46zM532.22 525.72h1.46v54.45h-1.46zM606.74 525.72h1.46v54.45h-1.46zM614.05 525.72h1.46v54.45h-1.46zM1099.2 525.72h1.46v54.45h-1.46zM1103.59 525.72h1.46v54.45h-1.46zM1121.12 525.72h1.46v54.45h-1.46zM1172.27 525.72h2.92v54.45h-2.92zM1391.46 525.72h1.46v54.45h-1.46zM1530.29 525.72h1.46v54.45h-1.46zM1600.43 525.72h1.46v54.45h-1.46zM1612.12 525.72h1.46v54.45h-1.46zM1654.5 525.72h1.46v54.45h-1.46z"/>
<path fill="#fdc372" d="M130.36 525.72h2.92v54.45h-2.92zM260.42 525.72h1.46v54.45h-1.46zM348.09 525.72h4.38v54.45h-4.38zM611.13 525.72h1.46v54.45h-1.46zM779.18 525.72h4.38v54.45h-4.38zM963.3 525.72h2.92v54.45h-2.92zM972.07 525.72h1.46v54.45h-1.46zM980.84 525.72h2.92v54.45h-2.92zM986.68 525.72h4.38v54.45h-4.38zM1030.52 525.72h1.46v54.45h-1.46zM1179.57 525.72h1.46v54.45h-1.46zM1191.26 525.72h1.46v54.45h-1.46zM1464.53 525.72h1.46v54.45h-1.46zM1531.75 525.72h1.46v54.45h-1.46zM1537.59 525.72h1.46v54.45h-1.46zM1553.67 525.72h1.46v54.45h-1.46zM1597.51 525.72h1.46v54.45h-1.46zM1616.5 525.72h1.46v54.45h-1.46z"/>
<path fill="#fba35c" d="M133.28 525.72h2.92v54.45h-2.92zM527.83 525.72h1.46v54.45h-1.46zM600.9 525.72h1.46v54.45h-1.46zM1105.05 525.72h1.46v54.45h-1.46zM1162.04 525.72h2.92v54.45h-2.92zM1230.72 525.72h1.46v54.45h-1.46zM1533.21 525.72h1.46v54.45h-1.46zM1540.51 525.72h1.46v54.45h-1.46zM1610.66 525.72h1.46v54.45h-1.46z"/>
<path fill="#bfe0a1" d="M140.59 525.72h1.46v54.45h-1.46zM161.05 525.72h5.85v54.45h-5.85zM174.2 525.72h1.46v54.45h-1.46zM193.2 525.72h1.46v54.45h-1.46zM244.34 525.72h1.46v54.45h-1.46zM247.26 525.72h1.46v54.45h-1.46zM250.19 525.72h1.46v54.45h-1.46zM256.03 525.72h1.46v54.45h-1.46zM310.1 525.72h1.46v54.45h-1.46zM313.02 525.72h4.38v54.45h-4.38zM318.87 525.72h1.46v54.45h-1.46zM336.4 525.72h1.46v54.45h-1.46zM353.94 525.72h1.46v54.45h-1.46zM565.83 525.72h1.46v54.45h-1.46zM638.89 525.72h1.46v54.45h-1.46zM647.66 525.72h1.46v54.45h-1.46zM665.2 525.72h1.46v54.45h-1.46zM742.64 525.72h2.92v54.45h-2.92zM843.47 525.72h1.46v54.45h-1.46zM871.24 525.72h1.46v54.45h-1.46zM893.16 525.72h1.46v54.45h-1.46zM903.39 525.72h1.46v54.45h-1.46zM913.62 525.72h1.46v54.45h-1.46zM944.3 525.72h1.46v54.45h-1.46zM1170.81 525.72h1.46v54.45h-1.46zM1178.11 525.72h1.46v54.45h-1.46zM1258.48 525.72h2.92v54.45h-2.92zM1305.25 525.72h7.31v54.45h-7.31zM1319.86 525.72h1.46v54.45h-1.46zM1333.01 525.72h2.92v54.45h-2.92zM1403.15 525.72h1.46v54.45h-1.46zM1474.76 525.72h1.46v54.45h-1.46zM1486.45 525.72h1.46v54.45h-1.46zM1635.5 525.72h1.46v54.45h-1.46zM1658.88 525.72h1.46v54.45h-1.46z"/>
<path fill="#dee096" d="M143.51 525.72h1.46v54.45h-1.46zM258.95 525.72h1.46v54.45h-1.46zM261.88 525.72h5.85v54.45h-5.85zM270.64 525.72h2.92v54.45h-2.92zM276.49 525.72h2.92v54.45h-2.92zM280.87 525.72h1.46v54.45h-1.46zM294.03 525.72h2.92v54.45h-2.92zM298.41 525.72h2.92v54.45h-2.92zM326.17 525.72h2.92v54.45h-2.92zM391.93 525.72h1.46v54.45h-1.46zM394.86 525.72h1.46v54.45h-1.46zM428.47 525.72h2.92v54.45h-2.92zM463.54 525.72h1.46v54.45h-1.46zM500.07 525.72h4.38v54.45h-4.38zM524.91 525.72h1.46v54.45h-1.46zM542.45 525.72h1.46v54.45h-1.46zM559.98 525.72h1.46v54.45h-1.46zM625.74 525.72h1.46v54.45h-1.46zM662.27 525.72h1.46v54.45h-1.46zM666.66 525.72h1.46v54.45h-1.46zM758.72 525.72h2.92v54.45h-2.92zM831.78 525.72h1.46v54.45h-1.46zM897.54 525.72h1.46v54.45h-1.46zM901.93 525.72h1.46v54.45h-1.46zM910.69 525.72h1.46v54.45h-1.46zM923.85 525.72h5.85v54.45h-5.85zM939.92 525.72h2.92v54.45h-2.92zM993.99 525.72h1.46v54.45h-1.46zM1204.42 525.72h1.46v54.45h-1.46zM1221.95 525.72h2.92v54.45h-2.92zM1226.33 525.72h1.46v54.45h-1.46zM1270.17 525.72h2.92v54.45h-2.92zM1292.09 525.72h1.46v54.45h-1.46zM1340.32 525.72h2.92v54.45h-2.92zM1356.39 525.72h1.46v54.45h-1.46zM1394.38 525.72h4.38v54.45h-4.38zM1414.84 525.72h2.92v54.45h-2.92zM1463.07 525.72h1.46v54.45h-1.46zM1468.91 525.72h1.46v54.45h-1.46zM1501.06 525.72h1.46v54.45h-1.46zM1563.9 525.72h1.46v54.45h-1.46zM1594.58 525.72h2.92v54.45h-2.92zM1626.73 525.72h1.46v54.45h-1.46zM1636.96 525.72h1.46v54.45h-1.46z"/>
<path fill="#f4e08e" d="M144.97 525.72h2.92v54.45h-2.92zM150.82 525.72h4.38v54.45h-4.38zM204.89 525.72h1.46v54.45h-1.46zM223.88 525.72h1.46v54.45h-1.46zM238.5 525.72h1.46v54.45h-1.46zM329.1 525.72h2.92v54.45h-2.92zM402.16 525.72h2.92v54.45h-2.92zM543.91 525.72h1.46v54.45h-1.46zM641.81 525.72h1.46v54.45h-1.46zM652.04 525.72h1.46v54.45h-1.46zM687.12 525.72h1.46v54.45h-1.46zM717.8 525.72h1.46v54.45h-1.46zM833.25 525.72h1.46v54.45h-1.46zM858.09 525.72h1.46v54.45h-1.46zM884.39 525.72h1.46v54.45h-1.46zM998.37 525.72h1.46v54.45h-1.46zM1132.81 525.72h2.92v54.45h-2.92zM1201.49 525.72h1.46v54.45h-1.46zM1238.03 525.72h1.46v54.45h-1.46zM1254.1 525.72h1.46v54.45h-1.46zM1295.02 525.72h1.46v54.45h-1.46zM1325.7 525.72h1.46v54.45h-1.46zM1343.24 525.72h1.46v54.45h-1.46zM1368.08 525.72h1.46v54.45h-1.46zM1477.68 525.72h1.46v54.45h-1.46zM1579.97 525.72h1.46v54.45h-1.46zM1655.96 525.72h1.46v54.45h-1.46z"/>
<path fill="#fcd683" d="M147.9 525.72h1.46v54.45h-1.46zM175.66 525.72h1.46v54.45h-1.46zM178.58 525.72h1.46v54.45h-1.46zM196.12 525.72h1.46v54.45h-1.46zM279.41 525.72h1.46v54.45h-1.46zM304.25 525.72h1.46v54.45h-1.46zM311.56 525.72h1.46v54.45h-1.46zM378.78 525.72h2.92v54.45h-2.92zM393.39 525.72h1.46v54.45h-1.46zM419.7 525.72h1.46v54.45h-1.46zM453.31 525.72h2.92v54.45h-2.92zM578.98 525.72h1.46v54.45h-1.46zM587.75 525.72h1.46v54.45h-1.46zM616.97 525.72h1.46v54.45h-1.46zM684.19 525.72h2.92v54.45h-2.92zM862.47 525.72h2.92v54.45h-2.92zM887.31 525.72h1.46v54.45h-1.46zM947.23 525.72h5.85v54.45h-5.85zM979.38 525.72h1.46v54.45h-1.46zM1001.29 525.72h1.46v54.45h-1.46zM1109.43 525.72h7.31v54.45h-7.31zM1119.66 525.72h1.46v54.45h-1.46zM1122.58 525.72h1.46v54.45h-1.46zM1246.79 525.72h5.85v54.45h-5.85zM1293.55 525.72h1.46v54.45h-1.46zM1312.55 525.72h2.92v54.45h-2.92zM1321.32 525.72h1.46v54.45h-1.46zM1337.39 525.72h1.46v54.45h-1.46zM1357.85 525.72h1.46v54.45h-1.46zM1401.69 525.72h1.46v54.45h-1.46zM1407.54 525.72h2.92v54.45h-2.92zM1560.97 525.72h1.46v54.45h-1.46zM1584.35 525.72h1.46v54.45h-1.46z"/>
<path fill="#b0e0a6" d="M155.2 525.72h1.46v54.45h-1.46zM158.12 525.72h1.46v54.45h-1.46zM180.04 525.72h1.46v54.45h-1.46zM203.42 525.72h1.46v54.45h-1.46zM232.65 525.72h2.92v54.45h-2.92zM301.33 525.72h1.46v54.45h-1.46zM320.33 525.72h1.46v54.45h-1.46zM342.25 525.72h1.46v54.45h-1.46zM437.23 525.72h1.46v54.45h-1.46zM441.62 525.72h2.92v54.45h-2.92zM457.69 525.72h1.46v54.45h-1.46zM555.6 525.72h1.46v54.45h-1.46zM618.43 525.72h1.46v54.45h-1.46zM635.97 525.72h2.92v54.45h-2.92zM676.89 525.72h2.92v54.45h-2.92zM827.4 525.72h4.38v54.45h-4.38zM1053.9 525.72h1.46v54.45h-1.46zM1151.81 525.72h1.46v54.45h-1.46zM1192.73 525.72h1.46v54.45h-1.46zM1235.1 525.72h1.46v54.45h-1.46zM1273.1 525.72h1.46v54.45h-1.46zM1303.78 525.72h1.46v54.45h-1.46zM1327.16 525.72h1.46v54.45h-1.46zM1369.54 525.72h1.46v54.45h-1.46zM1411.92 525.72h1.46v54.45h-1.46zM1444.07 525.72h1.46v54.45h-1.46zM1484.99 525.72h1.46v54.45h-1.46zM1499.6 525.72h1.46v54.45h-1.46zM1629.65 525.72h1.46v54.45h-1.46zM1670.57 525.72h0.18v54.45h-0.18z"/>
<path fill="#70d382" d="M166.89 525.72h1.46v54.45h-1.46zM254.57 525.72h1.46v54.45h-1.46zM368.55 525.72h2.92v54.45h-2.92zM410.93 525.72h1.46v54.45h-1.46zM704.65 525.72h2.92v54.45h-2.92zM747.03 525.72h2.92v54.45h-2.92zM1559.51 525.72h1.46v54.45h-1.46zM1619.42 525.72h1.46v54.45h-1.46zM1628.19 525.72h1.46v54.45h-1.46z"/>
<path fill="#c7e09e" d="M184.43 525.72h4.38v54.45h-4.38zM239.96 525.72h2.92v54.45h-2.92zM253.11 525.72h1.46v54.45h-1.46zM282.34 525.72h4.38v54.45h-4.38zM307.18 525.72h2.92v54.45h-2.92zM405.08 525.72h1.46v54.45h-1.46zM552.68 525.72h1.46v54.45h-1.46zM562.9 525.72h2.92v54.45h-2.92zM633.05 525.72h1.46v54.45h-1.46zM703.19 525.72h1.46v54.45h-1.46zM730.95 525.72h5.85v54.45h-5.85zM789.41 525.72h1.46v54.45h-1.46zM804.02 525.72h1.46v54.45h-1.46zM806.94 525.72h1.46v54.45h-1.46zM809.86 525.72h1.46v54.45h-1.46zM823.02 525.72h1.46v54.45h-1.46zM825.94 525.72h1.46v54.45h-1.46zM842.01 525.72h1.46v54.45h-1.46zM856.63 525.72h1.46v54.45h-1.46zM859.55 525.72h1.46v54.45h-1.46zM866.86 525.72h1.46v54.45h-1.46zM880.01 525.72h2.92v54.45h-2.92zM894.62 525.72h1.46v54.45h-1.46zM922.38 525.72h1.46v54.45h-1.46zM1140.12 525.72h2.92v54.45h-2.92zM1169.34 525.72h1.46v54.45h-1.46zM1208.8 525.72h1.46v54.45h-1.46zM1276.02 525.72h2.92v54.45h-2.92zM1296.48 525.72h4.38v54.45h-4.38zM1335.93 525.72h1.46v54.45h-1.46zM1347.62 525.72h1.46v54.45h-1.46zM1381.23 525.72h1.46v54.45h-1.46zM1433.84 525.72h1.46v54.45h-1.46zM1669.11 525.72h1.46v54.45h-1.46z"/>
<path fill="#fcd27f" d="M194.66 525.72h1.46v54.45h-1.46zM245.8 525.72h1.46v54.45h-1.46zM305.72 525.72h1.46v54.45h-1.46zM409.47 525.72h1.46v54.45h-1.46zM459.15 525.72h1.46v54.45h-1.46zM476.69 525.72h1.46v54.45h-1.46zM538.06 525.72h2.92v54.45h-2.92zM558.52 525.72h1.46v54.45h-1.46zM583.36 525.72h1.46v54.45h-1.46zM653.51 525.72h1.46v54.45h-1.46zM736.8 525.72h5.85v54.45h-5.85zM761.64 525.72h1.46v54.45h-1.46zM766.03 525.72h1.46v54.45h-1.46zM953.07 525.72h2.92v54.45h-2.92zM958.92 525.72h1.46v54.45h-1.46zM969.15 525.72h1.46v54.45h-1.46zM1107.97 525.72h1.46v54.45h-1.46zM1153.27 525.72h2.92v54.45h-2.92zM1236.56 525.72h1.46v54.45h-1.46zM1328.63 525.72h4.38v54.45h-4.38zM1419.23 525.72h2.92v54.45h-2.92zM1432.38 525.72h1.46v54.45h-1.46zM1436.76 525.72h1.46v54.45h-1.46zM1445.53 525.72h1.46v54.45h-1.46zM1505.44 525.72h1.46v54.45h-1.46zM1547.82 525.72h1.46v54.45h-1.46zM1642.81 525.72h1.46v54.45h-1.46zM1666.19 525.72h1.46v54.45h-1.46z"/>
<path fill="#96db98" d="M200.5 525.72h2.92v54.45h-2.92zM337.86 525.72h1.46v54.45h-1.46zM375.86 525.72h1.46v54.45h-1.46zM408.01 525.72h1.46v54.45h-1.46zM421.16 525.72h1.46v54.45h-1.46zM447.46 525.72h5.85v54.45h-5.85zM657.89 525.72h1.46v54.45h-1.46zM682.73 525.72h1.46v54.45h-1.46zM711.96 525.72h1.46v54.45h-1.46zM745.57 525.72h1.46v54.45h-1.46zM757.26 525.72h1.46v54.45h-1.46zM783.56 525.72h1.46v54.45h-1.46zM815.71 525.72h1.46v54.45h-1.46zM919.46 525.72h1.46v54.45h-1.46zM935.54 525.72h1.46v54.45h-1.46zM1278.94 525.72h1.46v54.45h-1.46zM1302.32 525.72h1.46v54.45h-1.46zM1365.16 525.72h1.46v54.45h-1.46zM1410.46 525.72h1.46v54.45h-1.46zM1631.12 525.72h1.46v54.45h-1.46z"/>
<path fill="#7cd58a" d="M218.04 525.72h2.92v54.45h-2.92zM355.4 525.72h1.46v54.45h-1.46zM359.78 525.72h1.46v54.45h-1.46zM1138.66 525.72h1.46v54.45h-1.46zM1625.27 525.72h1.46v54.45h-1.46z"/>
<path fill="#fcc876" d="M269.18 525.72h1.46v54.45h-1.46zM431.39 525.72h2.92v54.45h-2.92zM466.46 525.72h1.46v54.45h-1.46zM584.82 525.72h2.92v54.45h-2.92zM627.2 525.72h1.46v54.45h-1.46zM630.12 525.72h1.46v54.45h-1.46zM985.22 525.72h1.46v54.45h-1.46zM991.07 525.72h2.92v54.45h-2.92zM1261.41 525.72h5.85v54.45h-5.85zM1457.22 525.72h1.46v54.45h-1.46zM1558.05 525.72h1.46v54.45h-1.46z"/>
<path fill="#89d891" d="M317.41 525.72h1.46v54.45h-1.46zM649.12 525.72h2.92v54.45h-2.92zM707.57 525.72h2.92v54.45h-2.92zM790.87 525.72h1.46v54.45h-1.46zM817.17 525.72h1.46v54.45h-1.46zM821.55 525.72h1.46v54.45h-1.46zM840.55 525.72h1.46v54.45h-1.46zM849.32 525.72h7.31v54.45h-7.31zM1128.43 525.72h1.46v54.45h-1.46zM1363.7 525.72h1.46v54.45h-1.46zM1522.98 525.72h1.46v54.45h-1.46z"/>
<path fill="#56cd74" d="M324.71 525.72h1.46v54.45h-1.46zM663.73 525.72h1.46v54.45h-1.46zM763.1 525.72h2.92v54.45h-2.92zM906.31 525.72h1.46v54.45h-1.46zM1124.04 525.72h1.46v54.45h-1.46zM1503.98 525.72h1.46v54.45h-1.46z"/>
<path fill="#35b572" d="M340.79 525.72h1.46v54.45h-1.46z"/>
<path fill="#63d07b" d="M358.32 525.72h1.46v54.45h-1.46zM669.58 525.72h1.46v54.45h-1.46zM723.65 525.72h2.92v54.45h-2.92zM770.41 525.72h2.92v54.45h-2.92zM798.17 525.72h2.92v54.45h-2.92zM1423.61 525.72h1.46v54.45h-1.46zM1521.52 525.72h1.46v54.45h-1.46zM1536.13 525.72h1.46v54.45h-1.46z"/>
<path fill="#fca95f" d="M446 525.72h1.46v54.45h-1.46zM602.36 525.72h1.46v54.45h-1.46zM609.67 525.72h1.46v54.45h-1.46zM1102.12 525.72h1.46v54.45h-1.46zM1451.38 525.72h1.46v54.45h-1.46zM1473.29 525.72h1.46v54.45h-1.46zM1511.29 525.72h1.46v54.45h-1.46zM1543.44 525.72h1.46v54.45h-1.46z"/>
<path fill="#3cc866" d="M460.61 525.72h2.92v54.45h-2.92zM837.63 525.72h1.46v54.45h-1.46zM1049.52 525.72h1.46v54.45h-1.46z"/>
<path fill="#fdb062" d="M472.3 525.72h2.92v54.45h-2.92zM533.68 525.72h1.46v54.45h-1.46zM612.59 525.72h1.46v54.45h-1.46zM679.81 525.72h1.46v54.45h-1.46zM1029.06 525.72h1.46v54.45h-1.46zM1100.66 525.72h1.46v54.45h-1.46zM1398.77 525.72h1.46v54.45h-1.46zM1430.92 525.72h1.46v54.45h-1.46zM1438.22 525.72h1.46v54.45h-1.46zM1483.52 525.72h1.46v54.45h-1.46zM1495.21 525.72h1.46v54.45h-1.46zM1517.13 525.72h1.46v54.45h-1.46zM1653.03 525.72h1.46v54.45h-1.46zM1664.72 525.72h1.46v54.45h-1.46z"/>
<path fill="#fdb566" d="M488.38 525.72h4.38v54.45h-4.38zM530.76 525.72h1.46v54.45h-1.46zM603.82 525.72h2.92v54.45h-2.92zM966.22 525.72h2.92v54.45h-2.92zM983.76 525.72h1.46v54.45h-1.46zM996.91 525.72h1.46v54.45h-1.46zM1002.76 525.72h1.46v54.45h-1.46zM1106.51 525.72h1.46v54.45h-1.46zM1220.49 525.72h1.46v54.45h-1.46zM1442.61 525.72h1.46v54.45h-1.46zM1534.67 525.72h1.46v54.45h-1.46zM1544.9 525.72h1.46v54.45h-1.46zM1607.73 525.72h2.92v54.45h-2.92zM1644.27 525.72h1.46v54.45h-1.46z"/>
<path fill="#fccd7b" d="M505.91 525.72h2.92v54.45h-2.92zM749.95 525.72h2.92v54.45h-2.92zM834.71 525.72h1.46v54.45h-1.46zM955.99 525.72h1.46v54.45h-1.46zM970.61 525.72h1.46v54.45h-1.46zM1164.96 525.72h1.46v54.45h-1.46zM1267.25 525.72h1.46v54.45h-1.46zM1287.71 525.72h2.92v54.45h-2.92zM1316.94 525.72h2.92v54.45h-2.92zM1372.46 525.72h1.46v54.45h-1.46zM1435.3 525.72h1.46v54.45h-1.46zM1441.15 525.72h1.46v54.45h-1.46zM1448.45 525.72h1.46v54.45h-1.46zM1454.3 525.72h2.92v54.45h-2.92zM1465.99 525.72h1.46v54.45h-1.46zM1489.37 525.72h1.46v54.45h-1.46zM1493.75 525.72h1.46v54.45h-1.46zM1539.05 525.72h1.46v54.45h-1.46zM1550.74 525.72h1.46v54.45h-1.46zM1582.89 525.72h1.46v54.45h-1.46zM1622.35 525.72h1.46v54.45h-1.46zM1657.42 525.72h1.46v54.45h-1.46z"/>
<path fill="#f88e52" d="M526.37 525.72h1.46v54.45h-1.46zM529.29 525.72h1.46v54.45h-1.46zM1014.45 525.72h1.46v54.45h-1.46zM1613.58 525.72h1.46v54.45h-1.46z"/>
<path fill="#f8884f" d="M697.34 525.72h1.46v54.45h-1.46zM1020.29 525.72h1.46v54.45h-1.46zM1515.67 525.72h1.46v54.45h-1.46zM1578.51 525.72h1.46v54.45h-1.46zM1615.04 525.72h1.46v54.45h-1.46z"/>
<path fill="#f7814c" d="M698.81 525.72h1.46v54.45h-1.46zM1010.06 525.72h1.46v54.45h-1.46zM1023.21 525.72h4.38v54.45h-4.38zM1572.66 525.72h1.46v54.45h-1.46zM1587.28 525.72h1.46v54.45h-1.46z"/>
<path fill="#f99556" d="M700.27 525.72h1.46v54.45h-1.46zM1011.52 525.72h1.46v54.45h-1.46zM1033.44 525.72h1.46v54.45h-1.46zM1546.36 525.72h1.46v54.45h-1.46zM1585.81 525.72h1.46v54.45h-1.46zM1620.89 525.72h1.46v54.45h-1.46z"/>
<path fill="#f67a49" d="M701.73 525.72h1.46v54.45h-1.46zM1018.83 525.72h1.46v54.45h-1.46zM1471.83 525.72h1.46v54.45h-1.46zM1541.98 525.72h1.46v54.45h-1.46zM1568.28 525.72h2.92v54.45h-2.92zM1591.66 525.72h1.46v54.45h-1.46zM1634.04 525.72h1.46v54.45h-1.46z"/>
<path fill="#38bf6c" d="M839.09 525.72h1.46v54.45h-1.46zM1045.13 525.72h1.46v54.45h-1.46zM1660.34 525.72h1.46v54.45h-1.46z"/>
<path fill="#fa9c59" d="M973.53 525.72h4.38v54.45h-4.38zM1012.99 525.72h1.46v54.45h-1.46zM1027.6 525.72h1.46v54.45h-1.46zM1031.98 525.72h1.46v54.45h-1.46zM1034.9 525.72h1.46v54.45h-1.46zM1390 525.72h1.46v54.45h-1.46zM1452.84 525.72h1.46v54.45h-1.46zM1458.68 525.72h1.46v54.45h-1.46zM1508.37 525.72h1.46v54.45h-1.46zM1565.36 525.72h1.46v54.45h-1.46zM1588.74 525.72h1.46v54.45h-1.46zM1638.42 525.72h1.46v54.45h-1.46zM1650.11 525.72h1.46v54.45h-1.46z"/>
<path fill="#f57446" d="M1005.68 525.72h1.46v54.45h-1.46zM1008.6 525.72h1.46v54.45h-1.46zM1021.75 525.72h1.46v54.45h-1.46zM1476.22 525.72h1.46v54.45h-1.46zM1490.83 525.72h1.46v54.45h-1.46zM1603.35 525.72h2.92v54.45h-2.92zM1639.88 525.72h1.46v54.45h-1.46z"/>
<path fill="#f16945" d="M1007.14 525.72h1.46v54.45h-1.46zM1017.37 525.72h1.46v54.45h-1.46zM1574.12 525.72h1.46v54.45h-1.46zM1577.05 525.72h1.46v54.45h-1.46z"/>
<path fill="#ef6547" d="M1015.91 525.72h1.46v54.45h-1.46zM1439.68 525.72h1.46v54.45h-1.46zM1661.8 525.72h1.46v54.45h-1.46z"/>
<path fill="#2650a2" d="M1036.37 525.72h1.46v54.45h-1.46zM1039.29 525.72h1.46v54.45h-1.46zM1042.21 525.72h1.46v54.45h-1.46zM1050.98 525.72h2.92v54.45h-2.92z"/>
<path fill="#274ca0" d="M1037.83 525.72h1.46v54.45h-1.46zM1048.06 525.72h1.46v54.45h-1.46zM1055.36 525.72h1.46v54.45h-1.46zM1058.29 525.72h1.46v54.45h-1.46zM1071.44 525.72h2.92v54.45h-2.92zM1075.82 525.72h1.46v54.45h-1.46zM1083.13 525.72h1.46v54.45h-1.46zM1090.43 525.72h1.46v54.45h-1.46zM1097.74 525.72h1.46v54.45h-1.46z"/>
<path fill="#2655a4" d="M1040.75 525.72h1.46v54.45h-1.46z"/>
<path fill="#28439a" d="M1043.67 525.72h1.46v54.45h-1.46zM1061.21 525.72h1.46v54.45h-1.46zM1078.74 525.72h1.46v54.45h-1.46zM1084.59 525.72h2.92v54.45h-2.92zM1093.36 525.72h1.46v54.45h-1.46zM1096.28 525.72h1.46v54.45h-1.46z"/>
<path fill="#27479d" d="M1046.6 525.72h1.46v54.45h-1.46zM1069.98 525.72h1.46v54.45h-1.46zM1074.36 525.72h1.46v54.45h-1.46zM1077.28 525.72h1.46v54.45h-1.46zM1080.2 525.72h1.46v54.45h-1.46zM1088.97 525.72h1.46v54.45h-1.46zM1094.82 525.72h1.46v54.45h-1.46z"/>
<path fill="#293f98" d="M1056.82 525.72h1.46v54.45h-1.46z"/>
<path fill="#248590" d="M1059.75 525.72h1.46v54.45h-1.46z"/>
<path fill="#293a96" d="M1062.67 525.72h1.46v54.45h-1.46z"/>
<path fill="#26908a" d="M1064.13 525.72h5.85v54.45h-5.85zM1087.51 525.72h1.46v54.45h-1.46z"/>
<path fill="#2da37e" d="M1081.67 525.72h1.46v54.45h-1.46z"/>
<path fill="#299984" d="M1091.9 525.72h1.46v54.45h-1.46z"/>
<path fill="#e95d4b" d="M1360.77 525.72h2.92v54.45h-2.92z"/>
<path fill="#e4554e" d="M1387.08 525.72h1.46v54.45h-1.46zM1571.2 525.72h1.46v54.45h-1.46z"/>
<path fill="#f46d43" d="M1509.83 525.72h1.46v54.45h-1.46zM1617.96 525.72h1.46v54.45h-1.46zM1651.57 525.72h1.46v54.45h-1.46z"/>
<path fill="#49cb6d" d="M1524.44 525.72h1.46v54.45h-1.46zM1632.58 525.72h1.46v54.45h-1.46z"/>
<path fill="#e15150" d="M1575.59 525.72h1.46v54.45h-1.46z"/>
<path fill="#e6594c" d="M1641.34 525.72h1.46v54.45h-1.46z"/>
<path fill="#b3b3b3" d="M106.38 580.17h3.75v38.4h-3.75zM136.12 580.17h3.75v38.4h-3.75zM169.38 580.17h3.75v38.4h-3.75zM178.38 580.17h3.75v38.4h-3.75zM189.88 580.17h3.75v38.4h-3.75zM222.25 580.17h10.5v38.4h-10.5zM260.62 580.17h3.75v38.4h-3.75zM279.12 580.17h3.75v38.4h-3.75zM287.12 580.17h3.75v38.4h-3.75zM292.12 580.17h3.75v38.4h-3.75zM347.88 580.17h3.75v38.4h-3.75zM355 580.17h5v38.4h-5zM360.62 580.17h3.75v38.4h-3.75zM379.38 580.17h3.75v38.4h-3.75zM426.12 580.17h3.75v38.4h-3.75zM493.12 580.17h3.75v38.4h-3.75zM498.62 580.17h3.75v38.4h-3.75zM508.12 580.17h3.75v38.4h-3.75zM521.62 580.17h3.75v38.4h-3.75zM546.88 580.17h3.75v38.4h-3.75zM565.12 580.17h3.75v38.4h-3.75zM569.38 580.17h3.75v38.4h-3.75zM577.62 580.17h3.75v38.4h-3.75zM601.12 580.17h3.75v38.4h-3.75zM688.88 580.17h3.75v38.4h-3.75zM707 580.17h5v38.4h-5zM745.62 580.17h3.75v38.4h-3.75zM764.5 580.17h5v38.4h-5zM811.12 580.17h3.75v38.4h-3.75zM844.88 580.17h3.75v38.4h-3.75zM881.38 580.17h3.75v38.4h-3.75zM908 580.17h5v38.4h-5zM914.12 580.17h3.75v38.4h-3.75zM921.38 580.17h3.75v38.4h-3.75zM977.38 580.17h3.75v38.4h-3.75zM1001.38 580.17h3.75v38.4h-3.75zM1048.62 580.17h3.75v38.4h-3.75zM1068.38 580.17h3.75v38.4h-3.75zM1108.88 580.17h3.75v38.4h-3.75zM1114 580.17h8v38.4h-8zM1138.5 580.17h12.5v38.4h-12.5zM1153.25 580.17h13.5v38.4h-13.5zM1179.12 580.17h10.25v38.4h-10.25zM1201.38 580.17h3.75v38.4h-3.75zM1207 580.17h5v38.4h-5zM1216.38 580.17h3.75v38.4h-3.75zM1235.62 580.17h3.75v38.4h-3.75zM1269.12 580.17h3.75v38.4h-3.75zM1281.12 580.17h3.75v38.4h-3.75zM1314.38 580.17h3.75v38.4h-3.75zM1355.62 580.17h3.75v38.4h-3.75zM1365.5 580.17h5v38.4h-5zM1383.88 580.17h3.75v38.4h-3.75zM1391.12 580.17h3.75v38.4h-3.75zM1420.12 580.17h3.75v38.4h-3.75zM1437.88 580.17h3.75v38.4h-3.75zM1482 580.17h4.5v38.4h-4.5zM1488 580.17h5v38.4h-5zM1499.38 580.17h3.75v38.4h-3.75zM1528.75 580.17h2.5v38.4h-2.5zM1539.88 580.17h3.75v38.4h-3.75zM1647.12 580.17h3.75v38.4h-3.75zM1653.62 580.17h3.75v38.4h-3.75z"/>
<path fill="#ffa500" d="M1039.38 580.17h3.75v38.4h-3.75zM1442.88 580.17h3.75v38.4h-3.75z"/>
<path fill="#cc0000" d="M1078.88 580.17h3.75v38.4h-3.75zM1452.38 580.17h3.75v38.4h-3.75zM1507.38 580.17h3.75v38.4h-3.75zM1603.62 580.17h3.75v38.4h-3.75z"/>
<path fill="#00cc00" d="M1088.88 580.17h3.75v38.4h-3.75zM1377.62 580.17h3.75v38.4h-3.75zM1523.88 580.17h3.75v38.4h-3.75zM1531.12 580.17h3.75v38.4h-3.75z"/>
<line x1="86.2" x2="94.1" y1="507.64" y2="507.64" stroke="#333" stroke-width="3.6"/>
<text class="yl" x="79.6" y="516.54">10</text>
<line x1="86.2" x2="94.1" y1="483.36" y2="483.36" stroke="#333" stroke-width="3.6"/>
<text class="yl" x="79.6" y="492.26">30</text>
<line x1="86.2" x2="94.1" y1="459.37" y2="459.37" stroke="#333" stroke-width="3.6"/>
<text class="yl" x="79.6" y="468.27">50</text>
<line x1="86.2" x2="94.1" y1="435.09" y2="435.09" stroke="#333" stroke-width="3.6"/>
<text class="yl" x="79.6" y="443.99">70</text>
<rect x="1951.15" y="427.8" width="48.85" height="206.03" fill="#d9d9d9"/>
<text class="st" transform="translate(1963.6 465.1) rotate(90)">Contig 3</text>
</g>
<g id="panel4">
<line x1="93.6" x2="1659.25" y1="721.05" y2="721.05" stroke="#8a8a8a" stroke-width="1" stroke-dasharray="10.8 9.929"/>
<line x1="93.6" x2="1659.25" y1="696.92" y2="696.92" stroke="#8a8a8a" stroke-width="1" stroke-dasharray="10.8 9.929"/>
<line x1="93.6" x2="1659.25" y1="672.78" y2="672.78" stroke="#8a8a8a" stroke-width="1" stroke-dasharray="10.8 9.929"/>
<line x1="93.6" x2="1659.25" y1="648.5" y2="648.5" stroke="#8a8a8a" stroke-width="1" stroke-dasharray="10.8 9.929"/>
<path fill="#575757" d="M98.35 655.77h26.45v77.34h-26.45zM127.57 660.61h26.45v72.5h-26.45zM156.8 676.34h26.45v56.77h-26.45zM186.03 663.03h26.45v70.08h-26.45zM215.25 672.71h26.45v60.4h-26.45zM244.47 664.24h26.45v68.87h-26.45zM273.7 670.29h26.45v62.82h-26.45zM302.93 675.13h26.45v57.98h-26.45zM332.15 692.07h26.45v41.04h-26.45zM361.38 672.71h26.45v60.4h-26.45zM390.6 660.61h26.45v72.5h-26.45zM419.83 676.34h26.45v56.77h-26.45zM449.05 677.55h26.45v55.56h-26.45zM478.27 677.55h26.45v55.56h-26.45zM507.5 666.66h26.45v66.45h-26.45zM536.73 701.75h26.45v31.36h-26.45zM565.95 700.54h26.45v32.57h-26.45zM595.18 710.22h26.45v22.89h-26.45zM624.4 690.86h26.45v42.25h-26.45zM653.62 655.77h26.45v77.34h-26.45zM682.85 670.29h26.45v62.82h-26.45zM712.08 677.55h26.45v55.56h-26.45zM741.3 671.5h26.45v61.61h-26.45zM770.53 666.66h26.45v66.45h-26.45zM799.75 672.71h26.45v60.4h-26.45zM828.98 666.66h26.45v66.45h-26.45zM858.2 661.82h26.45v71.29h-26.45zM887.43 678.76h26.45v54.35h-26.45zM916.65 673.92h26.45v59.19h-26.45zM945.88 675.13h26.45v57.98h-26.45zM975.1 675.13h26.45v57.98h-26.45zM1004.33 666.66h26.45v66.45h-26.45zM1033.55 661.82h26.45v71.29h-26.45zM1062.78 666.66h26.45v66.45h-26.45zM1092 659.4h26.45v73.71h-26.45zM1121.22 666.66h26.45v66.45h-26.45zM1150.45 670.29h26.45v62.82h-26.45zM1179.67 667.87h26.45v65.24h-26.45zM1208.9 655.77h26.45v77.34h-26.45zM1238.12 663.03h26.45v70.08h-26.45zM1267.35 658.19h26.45v74.92h-26.45zM1296.58 671.5h26.45v61.61h-26.45zM1325.8 672.71h26.45v60.4h-26.45zM1355.02 670.29h26.45v62.82h-26.45zM1384.25 671.5h26.45v61.61h-26.45zM1413.47 670.29h26.45v62.82h-26.45zM1442.7 675.13h26.45v57.98h-26.45zM1471.92 666.66h26.45v66.45h-26.45zM1501.15 698.12h26.45v34.99h-26.45zM1530.38 692.07h26.45v41.04h-26.45zM1559.6 660.61h26.45v72.5h-26.45zM1588.83 704.17h26.45v28.94h-26.45zM1618.05 673.92h26.45v59.19h-26.45z"/>
<rect x="96.75" y="739.16" width="1553" height="54.45" fill="#ecdc92"/>
<rect x="535.14" y="739.66" width="27.76" height="53.45" fill="#27499e"/>
<rect x="562.9" y="739.66" width="27.76" height="53.45" fill="#269288"/>
<rect x="592.13" y="739.66" width="8.77" height="53.45" fill="#e4554e"/>
<rect x="600.9" y="739.66" width="4.38" height="53.45" fill="#fdb062"/>
<rect x="605.28" y="739.66" width="10.23" height="53.45" fill="#68d17e"/>
<rect x="615.51" y="739.66" width="10.23" height="53.45" fill="#2560a3"/>
<rect x="628.66" y="739.66" width="16.07" height="53.45" fill="#274a9e"/>
<rect x="1590.2" y="739.66" width="24.84" height="53.45" fill="#fa9b58"/>
<path fill="#fcdb87" d="M96.75 739.16h1.46v54.45h-1.46zM99.67 739.16h4.38v54.45h-4.38zM105.52 739.16h1.46v54.45h-1.46zM121.59 739.16h1.46v54.45h-1.46zM153.74 739.16h2.92v54.45h-2.92zM222.42 739.16h1.46v54.45h-1.46zM410.93 739.16h2.92v54.45h-2.92zM415.31 739.16h1.46v54.45h-1.46zM425.54 739.16h2.92v54.45h-2.92zM441.62 739.16h4.38v54.45h-4.38zM447.46 739.16h1.46v54.45h-1.46zM450.38 739.16h1.46v54.45h-1.46zM454.77 739.16h1.46v54.45h-1.46zM491.3 739.16h1.46v54.45h-1.46zM692.96 739.16h2.92v54.45h-2.92zM749.95 739.16h2.92v54.45h-2.92zM831.78 739.16h1.46v54.45h-1.46zM852.24 739.16h1.46v54.45h-1.46zM1015.91 739.16h1.46v54.45h-1.46zM1048.06 739.16h2.92v54.45h-2.92zM1096.28 739.16h2.92v54.45h-2.92zM1109.43 739.16h1.46v54.45h-1.46zM1125.51 739.16h1.46v54.45h-1.46zM1145.96 739.16h2.92v54.45h-2.92zM1150.35 739.16h1.46v54.45h-1.46zM1163.5 739.16h1.46v54.45h-1.46zM1207.34 739.16h1.46v54.45h-1.46zM1264.33 739.16h1.46v54.45h-1.46zM1295.02 739.16h2.92v54.45h-2.92zM1324.24 739.16h2.92v54.45h-2.92zM1357.85 739.16h1.46v54.45h-1.46z"/>
<path fill="#fcd27f" d="M98.21 739.16h1.46v54.45h-1.46zM156.66 739.16h5.85v54.45h-5.85zM163.97 739.16h1.46v54.45h-1.46zM203.42 739.16h1.46v54.45h-1.46zM244.34 739.16h2.92v54.45h-2.92zM304.25 739.16h1.46v54.45h-1.46zM394.86 739.16h7.31v54.45h-7.31zM413.85 739.16h1.46v54.45h-1.46zM440.16 739.16h1.46v54.45h-1.46zM672.5 739.16h1.46v54.45h-1.46zM695.88 739.16h1.46v54.45h-1.46zM862.47 739.16h2.92v54.45h-2.92zM891.7 739.16h2.92v54.45h-2.92zM939.92 739.16h1.46v54.45h-1.46zM1061.21 739.16h1.46v54.45h-1.46zM1118.2 739.16h1.46v54.45h-1.46zM1164.96 739.16h1.46v54.45h-1.46zM1191.26 739.16h1.46v54.45h-1.46zM1284.79 739.16h1.46v54.45h-1.46zM1340.32 739.16h2.92v54.45h-2.92zM1368.08 739.16h4.38v54.45h-4.38zM1391.46 739.16h1.46v54.45h-1.46zM1541.98 739.16h1.46v54.45h-1.46zM1559.51 739.16h1.46v54.45h-1.46zM1562.43 739.16h1.46v54.45h-1.46zM1569.74 739.16h2.92v54.45h-2.92zM1582.89 739.16h1.46v54.45h-1.46z"/>
<path fill="#fa9c59" d="M104.06 739.16h1.46v54.45h-1.46zM513.22 739.16h1.46v54.45h-1.46zM654.97 739.16h1.46v54.45h-1.46zM1547.82 739.16h1.46v54.45h-1.46zM1552.2 739.16h1.46v54.45h-1.46zM1587.28 739.16h1.46v54.45h-1.46zM1596.04 739.16h1.46v54.45h-1.46zM1601.89 739.16h1.46v54.45h-1.46zM1625.27 739.16h1.46v54.45h-1.46z"/>
<path fill="#f4e08e" d="M106.98 739.16h1.46v54.45h-1.46zM120.13 739.16h1.46v54.45h-1.46zM193.2 739.16h1.46v54.45h-1.46zM206.35 739.16h8.77v54.45h-8.77zM234.11 739.16h1.46v54.45h-1.46zM266.26 739.16h1.46v54.45h-1.46zM272.11 739.16h2.92v54.45h-2.92zM315.94 739.16h2.92v54.45h-2.92zM336.4 739.16h1.46v54.45h-1.46zM371.47 739.16h1.46v54.45h-1.46zM386.09 739.16h2.92v54.45h-2.92zM488.38 739.16h1.46v54.45h-1.46zM500.07 739.16h1.46v54.45h-1.46zM504.45 739.16h1.46v54.45h-1.46zM507.38 739.16h1.46v54.45h-1.46zM679.81 739.16h2.92v54.45h-2.92zM733.88 739.16h2.92v54.45h-2.92zM777.72 739.16h1.46v54.45h-1.46zM785.02 739.16h1.46v54.45h-1.46zM842.01 739.16h1.46v54.45h-1.46zM926.77 739.16h1.46v54.45h-1.46zM932.61 739.16h2.92v54.45h-2.92zM983.76 739.16h2.92v54.45h-2.92zM1005.68 739.16h2.92v54.45h-2.92zM1024.68 739.16h2.92v54.45h-2.92zM1069.98 739.16h1.46v54.45h-1.46zM1081.67 739.16h1.46v54.45h-1.46zM1132.81 739.16h4.38v54.45h-4.38zM1151.81 739.16h1.46v54.45h-1.46zM1175.19 739.16h1.46v54.45h-1.46zM1192.73 739.16h1.46v54.45h-1.46zM1195.65 739.16h1.46v54.45h-1.46zM1201.49 739.16h2.92v54.45h-2.92zM1233.64 739.16h2.92v54.45h-2.92zM1249.72 739.16h1.46v54.45h-1.46zM1254.1 739.16h1.46v54.45h-1.46zM1300.86 739.16h1.46v54.45h-1.46zM1319.86 739.16h1.46v54.45h-1.46zM1352.01 739.16h1.46v54.45h-1.46zM1359.31 739.16h1.46v54.45h-1.46zM1414.84 739.16h4.38v54.45h-4.38zM1432.38 739.16h7.31v54.45h-7.31z"/>
<path fill="#fcd683" d="M108.44 739.16h1.46v54.45h-1.46zM118.67 739.16h1.46v54.45h-1.46zM124.51 739.16h2.92v54.45h-2.92zM152.28 739.16h1.46v54.45h-1.46zM162.51 739.16h1.46v54.45h-1.46zM204.89 739.16h1.46v54.45h-1.46zM225.34 739.16h2.92v54.45h-2.92zM294.03 739.16h1.46v54.45h-1.46zM337.86 739.16h2.92v54.45h-2.92zM389.01 739.16h1.46v54.45h-1.46zM482.53 739.16h1.46v54.45h-1.46zM530.76 739.16h1.46v54.45h-1.46zM707.57 739.16h1.46v54.45h-1.46zM849.32 739.16h2.92v54.45h-2.92zM880.01 739.16h1.46v54.45h-1.46zM941.38 739.16h1.46v54.45h-1.46zM1083.13 739.16h1.46v54.45h-1.46zM1122.58 739.16h2.92v54.45h-2.92zM1144.5 739.16h1.46v54.45h-1.46zM1173.73 739.16h1.46v54.45h-1.46zM1194.19 739.16h1.46v54.45h-1.46zM1198.57 739.16h1.46v54.45h-1.46zM1204.42 739.16h2.92v54.45h-2.92zM1211.72 739.16h1.46v54.45h-1.46zM1236.56 739.16h2.92v54.45h-2.92zM1322.78 739.16h1.46v54.45h-1.46zM1560.97 739.16h1.46v54.45h-1.46zM1620.89 739.16h1.46v54.45h-1.46z"/>
<path fill="#e5e093" d="M109.9 739.16h2.92v54.45h-2.92zM131.82 739.16h1.46v54.45h-1.46zM194.66 739.16h1.46v54.45h-1.46zM201.96 739.16h1.46v54.45h-1.46zM280.87 739.16h4.38v54.45h-4.38zM299.87 739.16h1.46v54.45h-1.46zM333.48 739.16h1.46v54.45h-1.46zM438.69 739.16h1.46v54.45h-1.46zM716.34 739.16h2.92v54.45h-2.92zM758.72 739.16h2.92v54.45h-2.92zM767.49 739.16h1.46v54.45h-1.46zM792.33 739.16h1.46v54.45h-1.46zM795.25 739.16h2.92v54.45h-2.92zM811.33 739.16h1.46v54.45h-1.46zM817.17 739.16h1.46v54.45h-1.46zM821.55 739.16h4.38v54.45h-4.38zM828.86 739.16h1.46v54.45h-1.46zM833.25 739.16h4.38v54.45h-4.38zM846.4 739.16h1.46v54.45h-1.46zM866.86 739.16h1.46v54.45h-1.46zM945.77 739.16h1.46v54.45h-1.46zM974.99 739.16h1.46v54.45h-1.46zM977.91 739.16h1.46v54.45h-1.46zM1058.29 739.16h2.92v54.45h-2.92zM1062.67 739.16h4.38v54.45h-4.38zM1068.51 739.16h1.46v54.45h-1.46zM1091.9 739.16h1.46v54.45h-1.46zM1100.66 739.16h1.46v54.45h-1.46zM1176.65 739.16h1.46v54.45h-1.46zM1213.18 739.16h1.46v54.45h-1.46zM1267.25 739.16h2.92v54.45h-2.92zM1318.4 739.16h1.46v54.45h-1.46zM1330.09 739.16h7.31v54.45h-7.31zM1360.77 739.16h1.46v54.45h-1.46zM1398.77 739.16h1.46v54.45h-1.46zM1401.69 739.16h1.46v54.45h-1.46zM1406.07 739.16h1.46v54.45h-1.46zM1451.38 739.16h1.46v54.45h-1.46zM1454.3 739.16h1.46v54.45h-1.46zM1506.9 739.16h1.46v54.45h-1.46z"/>
<path fill="#fccd7b" d="M112.82 739.16h2.92v54.45h-2.92zM147.9 739.16h2.92v54.45h-2.92zM187.35 739.16h1.46v54.45h-1.46zM247.26 739.16h1.46v54.45h-1.46zM318.87 739.16h2.92v54.45h-2.92zM517.6 739.16h1.46v54.45h-1.46zM523.45 739.16h1.46v54.45h-1.46zM646.2 739.16h1.46v54.45h-1.46zM653.51 739.16h1.46v54.45h-1.46zM673.96 739.16h1.46v54.45h-1.46zM776.25 739.16h1.46v54.45h-1.46zM818.63 739.16h1.46v54.45h-1.46zM1102.12 739.16h1.46v54.45h-1.46zM1137.2 739.16h1.46v54.45h-1.46zM1157.65 739.16h2.92v54.45h-2.92zM1200.03 739.16h1.46v54.45h-1.46zM1219.03 739.16h1.46v54.45h-1.46zM1308.17 739.16h2.92v54.45h-2.92zM1525.9 739.16h1.46v54.45h-1.46zM1534.67 739.16h1.46v54.45h-1.46zM1544.9 739.16h1.46v54.45h-1.46zM1577.05 739.16h2.92v54.45h-2.92zM1648.65 739.16h1.1v54.45h-1.1z"/>
<path fill="#fce08b" d="M115.75 739.16h1.46v54.45h-1.46zM241.42 739.16h1.46v54.45h-1.46zM295.49 739.16h1.46v54.45h-1.46zM343.71 739.16h1.46v54.45h-1.46zM405.08 739.16h1.46v54.45h-1.46zM422.62 739.16h2.92v54.45h-2.92zM457.69 739.16h1.46v54.45h-1.46zM486.92 739.16h1.46v54.45h-1.46zM728.03 739.16h2.92v54.45h-2.92zM738.26 739.16h1.46v54.45h-1.46zM773.33 739.16h1.46v54.45h-1.46zM783.56 739.16h1.46v54.45h-1.46zM789.41 739.16h2.92v54.45h-2.92zM843.47 739.16h2.92v54.45h-2.92zM868.32 739.16h1.46v54.45h-1.46zM875.62 739.16h1.46v54.45h-1.46zM885.85 739.16h1.46v54.45h-1.46zM897.54 739.16h1.46v54.45h-1.46zM923.85 739.16h1.46v54.45h-1.46zM953.07 739.16h1.46v54.45h-1.46zM957.46 739.16h1.46v54.45h-1.46zM998.37 739.16h1.46v54.45h-1.46zM1012.99 739.16h2.92v54.45h-2.92zM1021.75 739.16h2.92v54.45h-2.92zM1074.36 739.16h7.31v54.45h-7.31zM1121.12 739.16h1.46v54.45h-1.46zM1141.58 739.16h2.92v54.45h-2.92zM1167.88 739.16h2.92v54.45h-2.92zM1197.11 739.16h1.46v54.45h-1.46zM1262.87 739.16h1.46v54.45h-1.46zM1302.32 739.16h1.46v54.45h-1.46zM1306.71 739.16h1.46v54.45h-1.46zM1315.47 739.16h2.92v54.45h-2.92zM1321.32 739.16h1.46v54.45h-1.46zM1373.93 739.16h1.46v54.45h-1.46zM1420.69 739.16h1.46v54.45h-1.46zM1425.07 739.16h1.46v54.45h-1.46zM1439.68 739.16h1.46v54.45h-1.46zM1498.14 739.16h4.38v54.45h-4.38z"/>
<path fill="#fdbe6e" d="M117.21 739.16h1.46v54.45h-1.46zM529.29 739.16h1.46v54.45h-1.46zM643.28 739.16h1.46v54.45h-1.46zM652.04 739.16h1.46v54.45h-1.46zM662.27 739.16h1.46v54.45h-1.46zM668.12 739.16h1.46v54.45h-1.46zM861.01 739.16h1.46v54.45h-1.46zM888.77 739.16h2.92v54.45h-2.92zM947.23 739.16h2.92v54.45h-2.92zM951.61 739.16h1.46v54.45h-1.46zM1027.6 739.16h2.92v54.45h-2.92zM1110.89 739.16h2.92v54.45h-2.92zM1278.94 739.16h1.46v54.45h-1.46zM1543.44 739.16h1.46v54.45h-1.46zM1568.28 739.16h1.46v54.45h-1.46zM1572.66 739.16h1.46v54.45h-1.46zM1604.81 739.16h1.46v54.45h-1.46zM1619.42 739.16h1.46v54.45h-1.46zM1634.04 739.16h1.46v54.45h-1.46zM1642.81 739.16h1.46v54.45h-1.46z"/>
<path fill="#f88e52" d="M123.05 739.16h1.46v54.45h-1.46zM514.68 739.16h1.46v54.45h-1.46zM656.43 739.16h1.46v54.45h-1.46zM1056.82 739.16h1.46v54.45h-1.46zM1166.42 739.16h1.46v54.45h-1.46zM1607.73 739.16h1.46v54.45h-1.46z"/>
<path fill="#c7e09e" d="M127.44 739.16h1.46v54.45h-1.46zM165.43 739.16h1.46v54.45h-1.46zM190.27 739.16h1.46v54.45h-1.46zM228.27 739.16h1.46v54.45h-1.46zM361.25 739.16h1.46v54.45h-1.46zM368.55 739.16h2.92v54.45h-2.92zM383.16 739.16h2.92v54.45h-2.92zM390.47 739.16h4.38v54.45h-4.38zM408.01 739.16h1.46v54.45h-1.46zM432.85 739.16h1.46v54.45h-1.46zM469.38 739.16h1.46v54.45h-1.46zM684.19 739.16h4.38v54.45h-4.38zM755.8 739.16h1.46v54.45h-1.46zM907.77 739.16h1.46v54.45h-1.46zM918 739.16h1.46v54.45h-1.46zM954.53 739.16h1.46v54.45h-1.46zM992.53 739.16h1.46v54.45h-1.46zM1039.29 739.16h4.38v54.45h-4.38zM1084.59 739.16h1.46v54.45h-1.46zM1138.66 739.16h1.46v54.45h-1.46zM1220.49 739.16h1.46v54.45h-1.46zM1239.49 739.16h1.46v54.45h-1.46zM1259.94 739.16h1.46v54.45h-1.46zM1270.17 739.16h1.46v54.45h-1.46zM1303.78 739.16h2.92v54.45h-2.92zM1353.47 739.16h2.92v54.45h-2.92zM1394.38 739.16h4.38v54.45h-4.38zM1404.61 739.16h1.46v54.45h-1.46zM1411.92 739.16h2.92v54.45h-2.92zM1483.52 739.16h1.46v54.45h-1.46z"/>
<path fill="#a3dd9f" d="M128.9 739.16h1.46v54.45h-1.46zM137.67 739.16h2.92v54.45h-2.92zM142.05 739.16h2.92v54.45h-2.92zM184.43 739.16h1.46v54.45h-1.46zM485.46 739.16h1.46v54.45h-1.46zM501.53 739.16h1.46v54.45h-1.46zM704.65 739.16h1.46v54.45h-1.46zM958.92 739.16h4.38v54.45h-4.38zM967.68 739.16h1.46v54.45h-1.46zM972.07 739.16h1.46v54.45h-1.46zM1008.6 739.16h2.92v54.45h-2.92zM1221.95 739.16h1.46v54.45h-1.46zM1226.33 739.16h2.92v54.45h-2.92zM1251.18 739.16h1.46v54.45h-1.46zM1261.41 739.16h1.46v54.45h-1.46zM1274.56 739.16h1.46v54.45h-1.46zM1286.25 739.16h1.46v54.45h-1.46zM1312.55 739.16h2.92v54.45h-2.92zM1365.16 739.16h2.92v54.45h-2.92zM1387.08 739.16h1.46v54.45h-1.46zM1446.99 739.16h1.46v54.45h-1.46zM1464.53 739.16h2.92v54.45h-2.92zM1486.45 739.16h1.46v54.45h-1.46zM1496.68 739.16h1.46v54.45h-1.46z"/>
<path fill="#d6e098" d="M130.36 739.16h1.46v54.45h-1.46zM254.57 739.16h2.92v54.45h-2.92zM288.18 739.16h1.46v54.45h-1.46zM301.33 739.16h2.92v54.45h-2.92zM308.64 739.16h2.92v54.45h-2.92zM330.56 739.16h2.92v54.45h-2.92zM349.55 739.16h5.85v54.45h-5.85zM358.32 739.16h1.46v54.45h-1.46zM365.63 739.16h2.92v54.45h-2.92zM381.7 739.16h1.46v54.45h-1.46zM429.93 739.16h2.92v54.45h-2.92zM437.23 739.16h1.46v54.45h-1.46zM690.04 739.16h2.92v54.45h-2.92zM744.11 739.16h4.38v54.45h-4.38zM763.1 739.16h1.46v54.45h-1.46zM766.03 739.16h1.46v54.45h-1.46zM768.95 739.16h1.46v54.45h-1.46zM806.94 739.16h2.92v54.45h-2.92zM814.25 739.16h1.46v54.45h-1.46zM859.55 739.16h1.46v54.45h-1.46zM884.39 739.16h1.46v54.45h-1.46zM901.93 739.16h1.46v54.45h-1.46zM931.15 739.16h1.46v54.45h-1.46zM942.84 739.16h1.46v54.45h-1.46zM966.22 739.16h1.46v54.45h-1.46zM1043.67 739.16h4.38v54.45h-4.38zM1050.98 739.16h1.46v54.45h-1.46zM1055.36 739.16h1.46v54.45h-1.46zM1072.9 739.16h1.46v54.45h-1.46zM1099.2 739.16h1.46v54.45h-1.46zM1105.05 739.16h1.46v54.45h-1.46zM1181.03 739.16h2.92v54.45h-2.92zM1273.1 739.16h1.46v54.45h-1.46zM1299.4 739.16h1.46v54.45h-1.46zM1337.39 739.16h1.46v54.45h-1.46zM1346.16 739.16h1.46v54.45h-1.46zM1382.69 739.16h1.46v54.45h-1.46zM1388.54 739.16h1.46v54.45h-1.46zM1403.15 739.16h1.46v54.45h-1.46zM1426.53 739.16h2.92v54.45h-2.92zM1441.15 739.16h4.38v54.45h-4.38zM1461.6 739.16h2.92v54.45h-2.92zM1467.45 739.16h1.46v54.45h-1.46zM1495.21 739.16h1.46v54.45h-1.46zM1515.67 739.16h1.46v54.45h-1.46zM1518.59 739.16h1.46v54.45h-1.46zM1528.82 739.16h2.92v54.45h-2.92z"/>
<path fill="#dee096" d="M133.28 739.16h2.92v54.45h-2.92zM200.5 739.16h1.46v54.45h-1.46zM223.88 739.16h1.46v54.45h-1.46zM231.19 739.16h1.46v54.45h-1.46zM242.88 739.16h1.46v54.45h-1.46zM253.11 739.16h1.46v54.45h-1.46zM292.56 739.16h1.46v54.45h-1.46zM298.41 739.16h1.46v54.45h-1.46zM323.25 739.16h1.46v54.45h-1.46zM456.23 739.16h1.46v54.45h-1.46zM467.92 739.16h1.46v54.45h-1.46zM497.15 739.16h2.92v54.45h-2.92zM508.84 739.16h1.46v54.45h-1.46zM561.44 739.16h1.46v54.45h-1.46zM688.58 739.16h1.46v54.45h-1.46zM709.03 739.16h2.92v54.45h-2.92zM761.64 739.16h1.46v54.45h-1.46zM764.56 739.16h1.46v54.45h-1.46zM770.41 739.16h1.46v54.45h-1.46zM809.86 739.16h1.46v54.45h-1.46zM820.09 739.16h1.46v54.45h-1.46zM837.63 739.16h1.46v54.45h-1.46zM865.39 739.16h1.46v54.45h-1.46zM894.62 739.16h1.46v54.45h-1.46zM899 739.16h2.92v54.45h-2.92zM904.85 739.16h2.92v54.45h-2.92zM913.62 739.16h2.92v54.45h-2.92zM920.92 739.16h2.92v54.45h-2.92zM944.3 739.16h1.46v54.45h-1.46zM950.15 739.16h1.46v54.45h-1.46zM979.38 739.16h2.92v54.45h-2.92zM1052.44 739.16h2.92v54.45h-2.92zM1106.51 739.16h2.92v54.45h-2.92zM1119.66 739.16h1.46v54.45h-1.46zM1170.81 739.16h1.46v54.45h-1.46zM1179.57 739.16h1.46v54.45h-1.46zM1217.57 739.16h1.46v54.45h-1.46zM1232.18 739.16h1.46v54.45h-1.46zM1265.79 739.16h1.46v54.45h-1.46zM1277.48 739.16h1.46v54.45h-1.46zM1297.94 739.16h1.46v54.45h-1.46zM1347.62 739.16h1.46v54.45h-1.46zM1375.39 739.16h2.92v54.45h-2.92zM1400.23 739.16h1.46v54.45h-1.46zM1448.45 739.16h1.46v54.45h-1.46zM1452.84 739.16h1.46v54.45h-1.46zM1460.14 739.16h1.46v54.45h-1.46zM1517.13 739.16h1.46v54.45h-1.46zM1527.36 739.16h1.46v54.45h-1.46z"/>
<path fill="#b8e0a3" d="M136.21 739.16h1.46v54.45h-1.46zM175.66 739.16h2.92v54.45h-2.92zM248.73 739.16h1.46v54.45h-1.46zM269.18 739.16h2.92v54.45h-2.92zM416.77 739.16h2.92v54.45h-2.92zM421.16 739.16h1.46v54.45h-1.46zM495.68 739.16h1.46v54.45h-1.46zM720.73 739.16h1.46v54.45h-1.46zM839.09 739.16h2.92v54.45h-2.92zM963.3 739.16h1.46v54.45h-1.46zM1017.37 739.16h4.38v54.45h-4.38zM1034.9 739.16h4.38v54.45h-4.38zM1154.73 739.16h2.92v54.45h-2.92zM1280.4 739.16h1.46v54.45h-1.46zM1283.33 739.16h1.46v54.45h-1.46zM1327.16 739.16h2.92v54.45h-2.92zM1362.24 739.16h2.92v54.45h-2.92zM1381.23 739.16h1.46v54.45h-1.46zM1384.16 739.16h1.46v54.45h-1.46zM1473.29 739.16h1.46v54.45h-1.46zM1493.75 739.16h1.46v54.45h-1.46z"/>
<path fill="#b0e0a6" d="M140.59 739.16h1.46v54.45h-1.46zM178.58 739.16h5.85v54.45h-5.85zM185.89 739.16h1.46v54.45h-1.46zM291.1 739.16h1.46v54.45h-1.46zM296.95 739.16h1.46v54.45h-1.46zM305.72 739.16h2.92v54.45h-2.92zM334.94 739.16h1.46v54.45h-1.46zM340.79 739.16h1.46v54.45h-1.46zM356.86 739.16h1.46v54.45h-1.46zM372.94 739.16h2.92v54.45h-2.92zM465 739.16h2.92v54.45h-2.92zM476.69 739.16h2.92v54.45h-2.92zM502.99 739.16h1.46v54.45h-1.46zM697.34 739.16h1.46v54.45h-1.46zM700.27 739.16h4.38v54.45h-4.38zM805.48 739.16h1.46v54.45h-1.46zM815.71 739.16h1.46v54.45h-1.46zM973.53 739.16h1.46v54.45h-1.46zM1140.12 739.16h1.46v54.45h-1.46zM1153.27 739.16h1.46v54.45h-1.46zM1252.64 739.16h1.46v54.45h-1.46zM1281.86 739.16h1.46v54.45h-1.46zM1311.09 739.16h1.46v54.45h-1.46zM1457.22 739.16h2.92v54.45h-2.92zM1468.91 739.16h4.38v54.45h-4.38zM1474.76 739.16h1.46v54.45h-1.46zM1487.91 739.16h1.46v54.45h-1.46zM1522.98 739.16h2.92v54.45h-2.92z"/>
<path fill="#fdba6a" d="M144.97 739.16h1.46v54.45h-1.46zM650.58 739.16h1.46v54.45h-1.46zM665.2 739.16h1.46v54.45h-1.46zM1555.13 739.16h1.46v54.45h-1.46zM1575.59 739.16h1.46v54.45h-1.46zM1617.96 739.16h1.46v54.45h-1.46zM1628.19 739.16h1.46v54.45h-1.46z"/>
<path fill="#fdb062" d="M146.43 739.16h1.46v54.45h-1.46zM526.37 739.16h2.92v54.45h-2.92zM669.58 739.16h1.46v54.45h-1.46zM1293.55 739.16h1.46v54.45h-1.46zM1556.59 739.16h1.46v54.45h-1.46zM1566.82 739.16h1.46v54.45h-1.46zM1581.43 739.16h1.46v54.45h-1.46zM1631.12 739.16h2.92v54.45h-2.92zM1636.96 739.16h1.46v54.45h-1.46z"/>
<path fill="#fcc876" d="M150.82 739.16h1.46v54.45h-1.46zM279.41 739.16h1.46v54.45h-1.46zM505.91 739.16h1.46v54.45h-1.46zM524.91 739.16h1.46v54.45h-1.46zM533.68 739.16h1.46v54.45h-1.46zM660.81 739.16h1.46v54.45h-1.46zM675.42 739.16h1.46v54.45h-1.46zM678.35 739.16h1.46v54.45h-1.46zM779.18 739.16h4.38v54.45h-4.38zM916.54 739.16h1.46v54.45h-1.46zM993.99 739.16h1.46v54.45h-1.46zM1103.59 739.16h1.46v54.45h-1.46zM1148.89 739.16h1.46v54.45h-1.46zM1160.58 739.16h2.92v54.45h-2.92zM1189.8 739.16h1.46v54.45h-1.46zM1210.26 739.16h1.46v54.45h-1.46zM1502.52 739.16h1.46v54.45h-1.46zM1553.67 739.16h1.46v54.45h-1.46zM1563.9 739.16h1.46v54.45h-1.46zM1579.97 739.16h1.46v54.45h-1.46zM1584.35 739.16h1.46v54.45h-1.46zM1622.35 739.16h1.46v54.45h-1.46zM1644.27 739.16h1.46v54.45h-1.46z"/>
<path fill="#ede090" d="M166.89 739.16h8.77v54.45h-8.77zM196.12 739.16h4.38v54.45h-4.38zM275.03 739.16h1.46v54.45h-1.46zM313.02 739.16h2.92v54.45h-2.92zM326.17 739.16h4.38v54.45h-4.38zM364.17 739.16h1.46v54.45h-1.46zM380.24 739.16h1.46v54.45h-1.46zM406.55 739.16h1.46v54.45h-1.46zM428.47 739.16h1.46v54.45h-1.46zM475.23 739.16h1.46v54.45h-1.46zM483.99 739.16h1.46v54.45h-1.46zM706.11 739.16h1.46v54.45h-1.46zM714.88 739.16h1.46v54.45h-1.46zM719.26 739.16h1.46v54.45h-1.46zM722.19 739.16h1.46v54.45h-1.46zM736.8 739.16h1.46v54.45h-1.46zM741.18 739.16h2.92v54.45h-2.92zM752.87 739.16h2.92v54.45h-2.92zM771.87 739.16h1.46v54.45h-1.46zM827.4 739.16h1.46v54.45h-1.46zM830.32 739.16h1.46v54.45h-1.46zM847.86 739.16h1.46v54.45h-1.46zM853.7 739.16h2.92v54.45h-2.92zM869.78 739.16h2.92v54.45h-2.92zM877.08 739.16h2.92v54.45h-2.92zM896.08 739.16h1.46v54.45h-1.46zM903.39 739.16h1.46v54.45h-1.46zM909.23 739.16h1.46v54.45h-1.46zM935.54 739.16h4.38v54.45h-4.38zM976.45 739.16h1.46v54.45h-1.46zM1093.36 739.16h2.92v54.45h-2.92zM1172.27 739.16h1.46v54.45h-1.46zM1178.11 739.16h1.46v54.45h-1.46zM1183.96 739.16h5.85v54.45h-5.85zM1248.25 739.16h1.46v54.45h-1.46zM1350.55 739.16h1.46v54.45h-1.46zM1372.46 739.16h1.46v54.45h-1.46zM1445.53 739.16h1.46v54.45h-1.46zM1511.29 739.16h4.38v54.45h-4.38zM1520.06 739.16h2.92v54.45h-2.92zM1531.75 739.16h1.46v54.45h-1.46z"/>
<path fill="#bfe0a1" d="M188.81 739.16h1.46v54.45h-1.46zM232.65 739.16h1.46v54.45h-1.46zM257.49 739.16h1.46v54.45h-1.46zM263.34 739.16h2.92v54.45h-2.92zM346.63 739.16h1.46v54.45h-1.46zM402.16 739.16h2.92v54.45h-2.92zM419.7 739.16h1.46v54.45h-1.46zM435.77 739.16h1.46v54.45h-1.46zM459.15 739.16h4.38v54.45h-4.38zM479.61 739.16h2.92v54.45h-2.92zM492.76 739.16h2.92v54.45h-2.92zM713.42 739.16h1.46v54.45h-1.46zM786.48 739.16h1.46v54.45h-1.46zM955.99 739.16h1.46v54.45h-1.46zM964.76 739.16h1.46v54.45h-1.46zM996.91 739.16h1.46v54.45h-1.46zM1128.43 739.16h4.38v54.45h-4.38zM1271.64 739.16h1.46v54.45h-1.46zM1287.71 739.16h1.46v54.45h-1.46zM1292.09 739.16h1.46v54.45h-1.46zM1392.92 739.16h1.46v54.45h-1.46zM1430.92 739.16h1.46v54.45h-1.46zM1482.06 739.16h1.46v54.45h-1.46zM1503.98 739.16h1.46v54.45h-1.46zM1533.21 739.16h1.46v54.45h-1.46zM1540.51 739.16h1.46v54.45h-1.46z"/>
<path fill="#cee09b" d="M191.73 739.16h1.46v54.45h-1.46zM250.19 739.16h2.92v54.45h-2.92zM276.49 739.16h2.92v54.45h-2.92zM285.26 739.16h2.92v54.45h-2.92zM311.56 739.16h1.46v54.45h-1.46zM321.79 739.16h1.46v54.45h-1.46zM324.71 739.16h1.46v54.45h-1.46zM348.09 739.16h1.46v54.45h-1.46zM355.4 739.16h1.46v54.45h-1.46zM434.31 739.16h1.46v54.45h-1.46zM463.54 739.16h1.46v54.45h-1.46zM470.84 739.16h2.92v54.45h-2.92zM682.73 739.16h1.46v54.45h-1.46zM711.96 739.16h1.46v54.45h-1.46zM723.65 739.16h4.38v54.45h-4.38zM732.42 739.16h1.46v54.45h-1.46zM757.26 739.16h1.46v54.45h-1.46zM793.79 739.16h1.46v54.45h-1.46zM801.1 739.16h1.46v54.45h-1.46zM887.31 739.16h1.46v54.45h-1.46zM969.15 739.16h2.92v54.45h-2.92zM982.3 739.16h1.46v54.45h-1.46zM995.45 739.16h1.46v54.45h-1.46zM1002.76 739.16h1.46v54.45h-1.46zM1071.44 739.16h1.46v54.45h-1.46zM1086.05 739.16h5.85v54.45h-5.85zM1126.97 739.16h1.46v54.45h-1.46zM1214.64 739.16h2.92v54.45h-2.92zM1229.26 739.16h2.92v54.45h-2.92zM1245.33 739.16h2.92v54.45h-2.92zM1258.48 739.16h1.46v54.45h-1.46zM1276.02 739.16h1.46v54.45h-1.46zM1349.08 739.16h1.46v54.45h-1.46zM1379.77 739.16h1.46v54.45h-1.46zM1385.62 739.16h1.46v54.45h-1.46zM1390 739.16h1.46v54.45h-1.46zM1407.54 739.16h4.38v54.45h-4.38zM1455.76 739.16h1.46v54.45h-1.46zM1480.6 739.16h1.46v54.45h-1.46zM1489.37 739.16h4.38v54.45h-4.38z"/>
<path fill="#96db98" d="M215.12 739.16h7.31v54.45h-7.31zM229.73 739.16h1.46v54.45h-1.46zM235.57 739.16h1.46v54.45h-1.46zM258.95 739.16h4.38v54.45h-4.38zM345.17 739.16h1.46v54.45h-1.46zM359.78 739.16h1.46v54.45h-1.46zM362.71 739.16h1.46v54.45h-1.46zM409.47 739.16h1.46v54.45h-1.46zM451.85 739.16h2.92v54.45h-2.92zM473.77 739.16h1.46v54.45h-1.46zM774.79 739.16h1.46v54.45h-1.46zM925.31 739.16h1.46v54.45h-1.46zM986.68 739.16h5.85v54.45h-5.85zM1011.52 739.16h1.46v54.45h-1.46zM1240.95 739.16h4.38v54.45h-4.38zM1257.02 739.16h1.46v54.45h-1.46zM1429.46 739.16h1.46v54.45h-1.46zM1449.91 739.16h1.46v54.45h-1.46zM1477.68 739.16h2.92v54.45h-2.92zM1505.44 739.16h1.46v54.45h-1.46z"/>
<path fill="#70d382" d="M237.03 739.16h1.46v54.45h-1.46zM698.81 739.16h1.46v54.45h-1.46zM1223.41 739.16h1.46v54.45h-1.46zM1255.56 739.16h1.46v54.45h-1.46zM1419.23 739.16h1.46v54.45h-1.46zM1423.61 739.16h1.46v54.45h-1.46zM1484.99 739.16h1.46v54.45h-1.46z"/>
<path fill="#7cd58a" d="M238.5 739.16h2.92v54.45h-2.92zM605.28 739.16h1.46v54.45h-1.46zM612.59 739.16h2.92v54.45h-2.92zM919.46 739.16h1.46v54.45h-1.46zM928.23 739.16h1.46v54.45h-1.46zM1030.52 739.16h4.38v54.45h-4.38zM1224.87 739.16h1.46v54.45h-1.46z"/>
<path fill="#fdc372" d="M267.72 739.16h1.46v54.45h-1.46zM448.92 739.16h1.46v54.45h-1.46zM511.76 739.16h1.46v54.45h-1.46zM521.99 739.16h1.46v54.45h-1.46zM532.22 739.16h1.46v54.45h-1.46zM671.04 739.16h1.46v54.45h-1.46zM748.49 739.16h1.46v54.45h-1.46zM802.56 739.16h2.92v54.45h-2.92zM812.79 739.16h1.46v54.45h-1.46zM825.94 739.16h1.46v54.45h-1.46zM856.63 739.16h2.92v54.45h-2.92zM910.69 739.16h2.92v54.45h-2.92zM1113.81 739.16h4.38v54.45h-4.38zM1208.8 739.16h1.46v54.45h-1.46zM1565.36 739.16h1.46v54.45h-1.46zM1588.74 739.16h1.46v54.45h-1.46zM1629.65 739.16h1.46v54.45h-1.46zM1645.73 739.16h2.92v54.45h-2.92z"/>
<path fill="#63d07b" d="M289.64 739.16h1.46v54.45h-1.46zM543.91 739.16h2.92v54.45h-2.92zM589.21 739.16h1.46v54.45h-1.46zM606.74 739.16h1.46v54.45h-1.46zM611.13 739.16h1.46v54.45h-1.46zM730.95 739.16h1.46v54.45h-1.46zM929.69 739.16h1.46v54.45h-1.46zM1476.22 739.16h1.46v54.45h-1.46z"/>
<path fill="#89d891" d="M342.25 739.16h1.46v54.45h-1.46zM624.28 739.16h2.92v54.45h-2.92zM739.72 739.16h1.46v54.45h-1.46zM798.17 739.16h2.92v54.45h-2.92zM881.47 739.16h2.92v54.45h-2.92zM1067.05 739.16h1.46v54.45h-1.46zM1343.24 739.16h2.92v54.45h-2.92z"/>
<path fill="#56cd74" d="M375.86 739.16h4.38v54.45h-4.38zM489.84 739.16h1.46v54.45h-1.46zM608.21 739.16h1.46v54.45h-1.46zM1289.17 739.16h2.92v54.45h-2.92zM1378.31 739.16h1.46v54.45h-1.46zM1422.15 739.16h1.46v54.45h-1.46zM1508.37 739.16h2.92v54.45h-2.92z"/>
<path fill="#fca95f" d="M446 739.16h1.46v54.45h-1.46zM599.44 739.16h2.92v54.45h-2.92zM1574.12 739.16h1.46v54.45h-1.46zM1597.51 739.16h1.46v54.45h-1.46zM1623.81 739.16h1.46v54.45h-1.46zM1635.5 739.16h1.46v54.45h-1.46z"/>
<path fill="#fdb566" d="M510.3 739.16h1.46v54.45h-1.46zM519.07 739.16h2.92v54.45h-2.92zM602.36 739.16h1.46v54.45h-1.46zM644.74 739.16h1.46v54.45h-1.46zM647.66 739.16h2.92v54.45h-2.92zM659.35 739.16h1.46v54.45h-1.46zM666.66 739.16h1.46v54.45h-1.46zM676.89 739.16h1.46v54.45h-1.46zM787.94 739.16h1.46v54.45h-1.46zM999.83 739.16h2.92v54.45h-2.92zM1546.36 739.16h1.46v54.45h-1.46zM1550.74 739.16h1.46v54.45h-1.46zM1558.05 739.16h1.46v54.45h-1.46zM1585.81 739.16h1.46v54.45h-1.46zM1591.66 739.16h1.46v54.45h-1.46zM1603.35 739.16h1.46v54.45h-1.46zM1609.2 739.16h1.46v54.45h-1.46zM1616.5 739.16h1.46v54.45h-1.46zM1626.73 739.16h1.46v54.45h-1.46z"/>
<path fill="#f7814c" d="M516.14 739.16h1.46v54.45h-1.46z"/>
<path fill="#28439a" d="M535.14 739.16h1.46v54.45h-1.46zM551.21 739.16h1.46v54.45h-1.46zM554.14 739.16h1.46v54.45h-1.46zM559.98 739.16h1.46v54.45h-1.46z"/>
<path fill="#2655a4" d="M536.6 739.16h1.46v54.45h-1.46zM622.82 739.16h1.46v54.45h-1.46zM633.05 739.16h2.92v54.45h-2.92z"/>
<path fill="#274ca0" d="M538.06 739.16h5.85v54.45h-5.85zM557.06 739.16h1.46v54.45h-1.46zM627.2 739.16h2.92v54.45h-2.92zM637.43 739.16h4.38v54.45h-4.38z"/>
<path fill="#27479d" d="M546.83 739.16h2.92v54.45h-2.92zM558.52 739.16h1.46v54.45h-1.46zM641.81 739.16h1.46v54.45h-1.46z"/>
<path fill="#299984" d="M549.75 739.16h1.46v54.45h-1.46zM562.9 739.16h1.46v54.45h-1.46zM568.75 739.16h1.46v54.45h-1.46zM573.13 739.16h1.46v54.45h-1.46zM576.06 739.16h2.92v54.45h-2.92zM631.59 739.16h1.46v54.45h-1.46z"/>
<path fill="#293f98" d="M552.68 739.16h1.46v54.45h-1.46z"/>
<path fill="#2da37e" d="M555.6 739.16h1.46v54.45h-1.46zM587.75 739.16h1.46v54.45h-1.46z"/>
<path fill="#2559a7" d="M564.37 739.16h1.46v54.45h-1.46zM578.98 739.16h1.46v54.45h-1.46z"/>
<path fill="#256f9b" d="M565.83 739.16h1.46v54.45h-1.46zM580.44 739.16h1.46v54.45h-1.46zM584.82 739.16h1.46v54.45h-1.46zM615.51 739.16h1.46v54.45h-1.46z"/>
<path fill="#31ac78" d="M567.29 739.16h1.46v54.45h-1.46zM571.67 739.16h1.46v54.45h-1.46zM635.97 739.16h1.46v54.45h-1.46z"/>
<path fill="#3cc866" d="M570.21 739.16h1.46v54.45h-1.46zM609.67 739.16h1.46v54.45h-1.46z"/>
<path fill="#26908a" d="M574.6 739.16h1.46v54.45h-1.46zM581.9 739.16h1.46v54.45h-1.46zM616.97 739.16h1.46v54.45h-1.46zM621.36 739.16h1.46v54.45h-1.46z"/>
<path fill="#248590" d="M583.36 739.16h1.46v54.45h-1.46z"/>
<path fill="#2650a2" d="M586.29 739.16h1.46v54.45h-1.46zM630.12 739.16h1.46v54.45h-1.46z"/>
<path fill="#de4d52" d="M590.67 739.16h1.46v54.45h-1.46z"/>
<path fill="#e15150" d="M592.13 739.16h2.92v54.45h-2.92z"/>
<path fill="#e4554e" d="M595.05 739.16h2.92v54.45h-2.92z"/>
<path fill="#e6594c" d="M597.98 739.16h1.46v54.45h-1.46z"/>
<path fill="#fba35c" d="M603.82 739.16h1.46v54.45h-1.46zM663.73 739.16h1.46v54.45h-1.46zM1549.28 739.16h1.46v54.45h-1.46zM1590.2 739.16h1.46v54.45h-1.46zM1594.58 739.16h1.46v54.45h-1.46zM1598.97 739.16h2.92v54.45h-2.92zM1638.42 739.16h1.46v54.45h-1.46z"/>
<path fill="#2564a1" d="M618.43 739.16h1.46v54.45h-1.46z"/>
<path fill="#247a95" d="M619.9 739.16h1.46v54.45h-1.46z"/>
<path fill="#f99556" d="M657.89 739.16h1.46v54.45h-1.46zM872.7 739.16h2.92v54.45h-2.92zM1004.22 739.16h1.46v54.45h-1.46zM1338.86 739.16h1.46v54.45h-1.46zM1356.39 739.16h1.46v54.45h-1.46zM1606.27 739.16h1.46v54.45h-1.46zM1612.12 739.16h1.46v54.45h-1.46zM1615.04 739.16h1.46v54.45h-1.46zM1641.34 739.16h1.46v54.45h-1.46z"/>
<path fill="#49cb6d" d="M1536.13 739.16h4.38v54.45h-4.38z"/>
<path fill="#f46d43" d="M1593.12 739.16h1.46v54.45h-1.46z"/>
<path fill="#f67a49" d="M1610.66 739.16h1.46v54.45h-1.46zM1639.88 739.16h1.46v54.45h-1.46z"/>
<path fill="#f8884f" d="M1613.58 739.16h1.46v54.45h-1.46z"/>
<path fill="#b3b3b3" d="M99.88 793.61h3.75v38.4h-3.75zM105.12 793.61h3.75v38.4h-3.75zM118.88 793.61h8.75v38.4h-8.75zM156.88 793.61h8.75v38.4h-8.75zM178.12 793.61h3.75v38.4h-3.75zM184.12 793.61h3.75v38.4h-3.75zM193 793.61h5v38.4h-5zM205.75 793.61h6v38.4h-6zM216.12 793.61h3.75v38.4h-3.75zM220.88 793.61h3.75v38.4h-3.75zM237.38 793.61h3.75v38.4h-3.75zM244.38 793.61h3.75v38.4h-3.75zM251.38 793.61h3.75v38.4h-3.75zM277.38 793.61h3.75v38.4h-3.75zM305 793.61h6v38.4h-6zM313.88 793.61h10.75v38.4h-10.75zM358.5 793.61h6.5v38.4h-6.5zM373.12 793.61h3.75v38.4h-3.75zM409.5 793.61h9.5v38.4h-9.5zM443.62 793.61h3.75v38.4h-3.75zM470.12 793.61h3.75v38.4h-3.75zM483 793.61h8v38.4h-8zM500.88 793.61h3.75v38.4h-3.75zM507.12 793.61h3.75v38.4h-3.75zM514 793.61h7v38.4h-7zM533.62 793.61h3.75v38.4h-3.75zM597.88 793.61h10.25v38.4h-10.25zM666.12 793.61h3.75v38.4h-3.75zM680.12 793.61h3.75v38.4h-3.75zM694.12 793.61h3.75v38.4h-3.75zM704.12 793.61h3.75v38.4h-3.75zM736.12 793.61h3.75v38.4h-3.75zM745.88 793.61h3.75v38.4h-3.75zM772.62 793.61h3.75v38.4h-3.75zM789.62 793.61h3.75v38.4h-3.75zM813.38 793.61h3.75v38.4h-3.75zM827.12 793.61h3.75v38.4h-3.75zM901.12 793.61h3.75v38.4h-3.75zM922.62 793.61h3.75v38.4h-3.75zM934.88 793.61h3.75v38.4h-3.75zM981.12 793.61h3.75v38.4h-3.75zM1013.38 793.61h3.75v38.4h-3.75zM1041.88 793.61h3.75v38.4h-3.75zM1046.88 793.61h3.75v38.4h-3.75zM1058.88 793.61h3.75v38.4h-3.75zM1075.12 793.61h3.75v38.4h-3.75zM1106.12 793.61h3.75v38.4h-3.75zM1152.88 793.61h3.75v38.4h-3.75zM1202.25 793.61h4.5v38.4h-4.5zM1212.25 793.61h4.5v38.4h-4.5zM1243.88 793.61h3.75v38.4h-3.75zM1266.25 793.61h5v38.4h-5zM1325.12 793.61h3.75v38.4h-3.75zM1362.38 793.61h3.75v38.4h-3.75zM1411.12 793.61h3.75v38.4h-3.75zM1435.88 793.61h3.75v38.4h-3.75zM1448.88 793.61h3.75v38.4h-3.75zM1466.25 793.61h4.5v38.4h-4.5zM1481.25 793.61h4.5v38.4h-4.5zM1500.62 793.61h3.75v38.4h-3.75zM1534.62 793.61h3.75v38.4h-3.75zM1579.12 793.61h3.75v38.4h-3.75zM1636.62 793.61h3.75v38.4h-3.75z"/>
<path fill="#ffa500" d="M552.88 793.61h3.75v38.4h-3.75zM562.12 793.61h3.75v38.4h-3.75zM629.12 793.61h3.75v38.4h-3.75z"/>
<path fill="#cc0000" d="M543.25 793.61h2v38.4h-2z"/>
<path fill="#00cc00" d="M545 793.61h3.5v38.4h-3.5z"/>
<line x1="86.2" x2="94.1" y1="721.05" y2="721.05" stroke="#333" stroke-width="3.6"/>
<text class="yl" x="79.6" y="729.95">10</text>
<line x1="86.2" x2="94.1" y1="696.92" y2="696.92" stroke="#333" stroke-width="3.6"/>
<text class="yl" x="79.6" y="705.82">30</text>
<line x1="86.2" x2="94.1" y1="672.78" y2="672.78" stroke="#333" stroke-width="3.6"/>
<text class="yl" x="79.6" y="681.68">50</text>
<line x1="86.2" x2="94.1" y1="648.5" y2="648.5" stroke="#333" stroke-width="3.6"/>
<text class="yl" x="79.6" y="657.4">70</text>
<rect x="1951.15" y="648.8" width="48.85" height="192" fill="#d9d9d9"/>
<text class="st" transform="translate(1963.6 671.6) rotate(90)">Contig 4</text>
</g>
<g id="panel5">
<line x1="93.6" x2="1653.75" y1="935.84" y2="935.84" stroke="#8a8a8a" stroke-width="1" stroke-dasharray="10.8 9.929"/>
<line x1="93.6" x2="1653.75" y1="911.56" y2="911.56" stroke="#8a8a8a" stroke-width="1" stroke-dasharray="10.8 9.929"/>
<line x1="93.6" x2="1653.75" y1="887.42" y2="887.42" stroke="#8a8a8a" stroke-width="1" stroke-dasharray="10.8 9.929"/>
<line x1="93.6" x2="1653.75" y1="863.43" y2="863.43" stroke="#8a8a8a" stroke-width="1" stroke-dasharray="10.8 9.929"/>
<path fill="#575757" d="M98.35 885.04h26.45v62.82h-26.45zM127.57 871.73h26.45v76.13h-26.45zM156.8 887.46h26.45v60.4h-26.45zM186.03 872.94h26.45v74.92h-26.45zM215.25 882.62h26.45v65.24h-26.45zM244.47 878.99h26.45v68.87h-26.45zM273.7 876.57h26.45v71.29h-26.45zM302.93 875.36h26.45v72.5h-26.45zM332.15 870.52h26.45v77.34h-26.45zM361.38 888.67h26.45v59.19h-26.45zM390.6 885.04h26.45v62.82h-26.45zM419.83 904.4h26.45v43.46h-26.45zM449.05 883.83h26.45v64.03h-26.45zM478.27 877.78h26.45v70.08h-26.45zM507.5 885.04h26.45v62.82h-26.45zM536.73 887.46h26.45v60.4h-26.45zM565.95 908.03h26.45v39.83h-26.45zM595.18 915.29h26.45v32.57h-26.45zM624.4 887.46h26.45v60.4h-26.45zM653.62 893.51h26.45v54.35h-26.45zM682.85 881.41h26.45v66.45h-26.45zM712.08 886.25h26.45v61.61h-26.45zM741.3 881.41h26.45v66.45h-26.45zM770.53 887.46h26.45v60.4h-26.45zM799.75 877.78h26.45v70.08h-26.45zM828.98 897.14h26.45v50.72h-26.45zM858.2 887.46h26.45v60.4h-26.45zM887.43 882.62h26.45v65.24h-26.45zM916.65 882.62h26.45v65.24h-26.45zM945.88 887.46h26.45v60.4h-26.45zM975.1 894.72h26.45v53.14h-26.45zM1004.33 883.83h26.45v64.03h-26.45zM1033.55 886.25h26.45v61.61h-26.45zM1062.78 885.04h26.45v62.82h-26.45zM1092 877.78h26.45v70.08h-26.45zM1121.22 883.83h26.45v64.03h-26.45zM1150.45 887.46h26.45v60.4h-26.45zM1179.67 892.3h26.45v55.56h-26.45zM1208.9 882.62h26.45v65.24h-26.45zM1238.12 877.78h26.45v70.08h-26.45zM1267.35 880.2h26.45v67.66h-26.45zM1296.58 885.04h26.45v62.82h-26.45zM1325.8 893.51h26.45v54.35h-26.45zM1355.02 886.25h26.45v61.61h-26.45zM1384.25 886.25h26.45v61.61h-26.45zM1413.47 878.99h26.45v68.87h-26.45zM1442.7 881.41h26.45v66.45h-26.45zM1471.92 875.36h26.45v72.5h-26.45zM1501.15 883.83h26.45v64.03h-26.45zM1530.38 892.3h26.45v55.56h-26.45zM1559.6 892.3h26.45v55.56h-26.45zM1588.83 881.41h26.45v66.45h-26.45zM1618.05 885.04h26.45v62.82h-26.45z"/>
<rect x="96.75" y="953.91" width="1546" height="54.45" fill="#ecdc92"/>
<rect x="558.52" y="954.41" width="61.37" height="53.45" fill="#27499e"/>
<path fill="#fcdb87" d="M96.75 953.91h1.46v54.45h-1.46zM111.36 953.91h1.46v54.45h-1.46zM117.21 953.91h1.46v54.45h-1.46zM140.59 953.91h4.38v54.45h-4.38zM159.59 953.91h1.46v54.45h-1.46zM175.66 953.91h2.92v54.45h-2.92zM263.34 953.91h1.46v54.45h-1.46zM320.33 953.91h1.46v54.45h-1.46zM384.63 953.91h2.92v54.45h-2.92zM408.01 953.91h1.46v54.45h-1.46zM671.04 953.91h2.92v54.45h-2.92zM787.94 953.91h1.46v54.45h-1.46zM828.86 953.91h2.92v54.45h-2.92zM833.25 953.91h1.46v54.45h-1.46zM974.99 953.91h1.46v54.45h-1.46zM1008.6 953.91h2.92v54.45h-2.92zM1068.51 953.91h1.46v54.45h-1.46zM1074.36 953.91h2.92v54.45h-2.92zM1113.81 953.91h2.92v54.45h-2.92zM1154.73 953.91h1.46v54.45h-1.46zM1208.8 953.91h2.92v54.45h-2.92zM1227.8 953.91h1.46v54.45h-1.46zM1273.1 953.91h1.46v54.45h-1.46zM1328.63 953.91h1.46v54.45h-1.46zM1398.77 953.91h1.46v54.45h-1.46zM1454.3 953.91h1.46v54.45h-1.46zM1480.6 953.91h1.46v54.45h-1.46zM1505.44 953.91h4.38v54.45h-4.38zM1524.44 953.91h1.46v54.45h-1.46zM1584.35 953.91h4.38v54.45h-4.38zM1603.35 953.91h1.46v54.45h-1.46zM1622.35 953.91h1.46v54.45h-1.46zM1632.58 953.91h1.46v54.45h-1.46zM1636.96 953.91h1.46v54.45h-1.46z"/>
<path fill="#cee09b" d="M98.21 953.91h1.46v54.45h-1.46zM123.05 953.91h2.92v54.45h-2.92zM197.58 953.91h4.38v54.45h-4.38zM209.27 953.91h7.31v54.45h-7.31zM253.11 953.91h2.92v54.45h-2.92zM280.87 953.91h2.92v54.45h-2.92zM294.03 953.91h1.46v54.45h-1.46zM330.56 953.91h1.46v54.45h-1.46zM333.48 953.91h4.38v54.45h-4.38zM339.33 953.91h1.46v54.45h-1.46zM351.02 953.91h1.46v54.45h-1.46zM355.4 953.91h2.92v54.45h-2.92zM393.39 953.91h1.46v54.45h-1.46zM396.32 953.91h1.46v54.45h-1.46zM427 953.91h4.38v54.45h-4.38zM447.46 953.91h1.46v54.45h-1.46zM456.23 953.91h1.46v54.45h-1.46zM462.07 953.91h1.46v54.45h-1.46zM511.76 953.91h1.46v54.45h-1.46zM698.81 953.91h2.92v54.45h-2.92zM723.65 953.91h1.46v54.45h-1.46zM752.87 953.91h2.92v54.45h-2.92zM783.56 953.91h1.46v54.45h-1.46zM804.02 953.91h5.85v54.45h-5.85zM853.7 953.91h1.46v54.45h-1.46zM856.63 953.91h1.46v54.45h-1.46zM863.93 953.91h2.92v54.45h-2.92zM907.77 953.91h1.46v54.45h-1.46zM939.92 953.91h1.46v54.45h-1.46zM964.76 953.91h1.46v54.45h-1.46zM986.68 953.91h1.46v54.45h-1.46zM1017.37 953.91h5.85v54.45h-5.85zM1077.28 953.91h1.46v54.45h-1.46zM1094.82 953.91h1.46v54.45h-1.46zM1159.12 953.91h1.46v54.45h-1.46zM1172.27 953.91h1.46v54.45h-1.46zM1189.8 953.91h1.46v54.45h-1.46zM1205.88 953.91h1.46v54.45h-1.46zM1220.49 953.91h1.46v54.45h-1.46zM1254.1 953.91h1.46v54.45h-1.46zM1349.08 953.91h1.46v54.45h-1.46zM1354.93 953.91h2.92v54.45h-2.92zM1359.31 953.91h4.38v54.45h-4.38zM1400.23 953.91h1.46v54.45h-1.46zM1406.07 953.91h1.46v54.45h-1.46zM1420.69 953.91h2.92v54.45h-2.92zM1425.07 953.91h1.46v54.45h-1.46zM1427.99 953.91h2.92v54.45h-2.92zM1479.14 953.91h1.46v54.45h-1.46zM1482.06 953.91h1.46v54.45h-1.46zM1499.6 953.91h1.46v54.45h-1.46zM1509.83 953.91h1.46v54.45h-1.46zM1558.05 953.91h1.46v54.45h-1.46zM1572.66 953.91h1.46v54.45h-1.46z"/>
<path fill="#c7e09e" d="M99.67 953.91h1.46v54.45h-1.46zM128.9 953.91h1.46v54.45h-1.46zM194.66 953.91h2.92v54.45h-2.92zM204.89 953.91h1.46v54.45h-1.46zM239.96 953.91h1.46v54.45h-1.46zM248.73 953.91h1.46v54.45h-1.46zM321.79 953.91h4.38v54.45h-4.38zM353.94 953.91h1.46v54.45h-1.46zM359.78 953.91h5.85v54.45h-5.85zM367.09 953.91h1.46v54.45h-1.46zM380.24 953.91h2.92v54.45h-2.92zM421.16 953.91h4.38v54.45h-4.38zM446 953.91h1.46v54.45h-1.46zM498.61 953.91h1.46v54.45h-1.46zM502.99 953.91h1.46v54.45h-1.46zM526.37 953.91h2.92v54.45h-2.92zM685.65 953.91h4.38v54.45h-4.38zM735.34 953.91h1.46v54.45h-1.46zM766.03 953.91h2.92v54.45h-2.92zM780.64 953.91h2.92v54.45h-2.92zM811.33 953.91h2.92v54.45h-2.92zM858.09 953.91h1.46v54.45h-1.46zM909.23 953.91h1.46v54.45h-1.46zM945.77 953.91h1.46v54.45h-1.46zM967.68 953.91h2.92v54.45h-2.92zM996.91 953.91h1.46v54.45h-1.46zM1012.99 953.91h1.46v54.45h-1.46zM1033.44 953.91h1.46v54.45h-1.46zM1046.6 953.91h2.92v54.45h-2.92zM1050.98 953.91h1.46v54.45h-1.46zM1055.36 953.91h4.38v54.45h-4.38zM1065.59 953.91h1.46v54.45h-1.46zM1102.12 953.91h1.46v54.45h-1.46zM1118.2 953.91h1.46v54.45h-1.46zM1175.19 953.91h1.46v54.45h-1.46zM1183.96 953.91h1.46v54.45h-1.46zM1211.72 953.91h1.46v54.45h-1.46zM1221.95 953.91h1.46v54.45h-1.46zM1308.17 953.91h1.46v54.45h-1.46zM1324.24 953.91h1.46v54.45h-1.46zM1392.92 953.91h2.92v54.45h-2.92zM1442.61 953.91h1.46v54.45h-1.46zM1448.45 953.91h1.46v54.45h-1.46zM1493.75 953.91h1.46v54.45h-1.46zM1612.12 953.91h1.46v54.45h-1.46z"/>
<path fill="#fcd683" d="M101.13 953.91h1.46v54.45h-1.46zM161.05 953.91h2.92v54.45h-2.92zM187.35 953.91h1.46v54.45h-1.46zM663.73 953.91h1.46v54.45h-1.46zM669.58 953.91h1.46v54.45h-1.46zM673.96 953.91h1.46v54.45h-1.46zM944.3 953.91h1.46v54.45h-1.46zM1067.05 953.91h1.46v54.45h-1.46zM1072.9 953.91h1.46v54.45h-1.46zM1122.58 953.91h1.46v54.45h-1.46zM1128.43 953.91h1.46v54.45h-1.46zM1137.2 953.91h1.46v54.45h-1.46zM1214.64 953.91h2.92v54.45h-2.92zM1219.03 953.91h1.46v54.45h-1.46zM1287.71 953.91h1.46v54.45h-1.46zM1511.29 953.91h4.38v54.45h-4.38zM1525.9 953.91h2.92v54.45h-2.92zM1556.59 953.91h1.46v54.45h-1.46zM1575.59 953.91h1.46v54.45h-1.46zM1588.74 953.91h1.46v54.45h-1.46z"/>
<path fill="#a3dd9f" d="M102.6 953.91h1.46v54.45h-1.46zM112.82 953.91h2.92v54.45h-2.92zM235.57 953.91h1.46v54.45h-1.46zM270.64 953.91h4.38v54.45h-4.38zM390.47 953.91h1.46v54.45h-1.46zM472.3 953.91h1.46v54.45h-1.46zM789.41 953.91h1.46v54.45h-1.46zM799.64 953.91h1.46v54.45h-1.46zM802.56 953.91h1.46v54.45h-1.46zM960.38 953.91h1.46v54.45h-1.46zM1103.59 953.91h2.92v54.45h-2.92zM1148.89 953.91h1.46v54.45h-1.46zM1167.88 953.91h1.46v54.45h-1.46zM1341.78 953.91h1.46v54.45h-1.46zM1379.77 953.91h1.46v54.45h-1.46zM1416.3 953.91h1.46v54.45h-1.46zM1539.05 953.91h1.46v54.45h-1.46z"/>
<path fill="#dee096" d="M104.06 953.91h2.92v54.45h-2.92zM193.2 953.91h1.46v54.45h-1.46zM234.11 953.91h1.46v54.45h-1.46zM237.03 953.91h1.46v54.45h-1.46zM267.72 953.91h2.92v54.45h-2.92zM279.41 953.91h1.46v54.45h-1.46zM375.86 953.91h2.92v54.45h-2.92zM405.08 953.91h1.46v54.45h-1.46zM438.69 953.91h2.92v54.45h-2.92zM467.92 953.91h2.92v54.45h-2.92zM475.23 953.91h4.38v54.45h-4.38zM517.6 953.91h1.46v54.45h-1.46zM533.68 953.91h1.46v54.45h-1.46zM694.42 953.91h1.46v54.45h-1.46zM711.96 953.91h1.46v54.45h-1.46zM745.57 953.91h1.46v54.45h-1.46zM757.26 953.91h2.92v54.45h-2.92zM771.87 953.91h1.46v54.45h-1.46zM801.1 953.91h1.46v54.45h-1.46zM872.7 953.91h1.46v54.45h-1.46zM875.62 953.91h1.46v54.45h-1.46zM878.55 953.91h1.46v54.45h-1.46zM903.39 953.91h1.46v54.45h-1.46zM929.69 953.91h1.46v54.45h-1.46zM970.61 953.91h4.38v54.45h-4.38zM1053.9 953.91h1.46v54.45h-1.46zM1080.2 953.91h1.46v54.45h-1.46zM1084.59 953.91h1.46v54.45h-1.46zM1096.28 953.91h1.46v54.45h-1.46zM1107.97 953.91h1.46v54.45h-1.46zM1141.58 953.91h1.46v54.45h-1.46zM1144.5 953.91h1.46v54.45h-1.46zM1224.87 953.91h2.92v54.45h-2.92zM1229.26 953.91h1.46v54.45h-1.46zM1258.48 953.91h1.46v54.45h-1.46zM1325.7 953.91h2.92v54.45h-2.92zM1350.55 953.91h1.46v54.45h-1.46zM1376.85 953.91h1.46v54.45h-1.46zM1395.85 953.91h1.46v54.45h-1.46zM1404.61 953.91h1.46v54.45h-1.46zM1410.46 953.91h1.46v54.45h-1.46zM1413.38 953.91h2.92v54.45h-2.92zM1444.07 953.91h4.38v54.45h-4.38zM1460.14 953.91h7.31v54.45h-7.31zM1547.82 953.91h2.92v54.45h-2.92zM1596.04 953.91h1.46v54.45h-1.46z"/>
<path fill="#fce08b" d="M106.98 953.91h1.46v54.45h-1.46zM139.13 953.91h1.46v54.45h-1.46zM158.12 953.91h1.46v54.45h-1.46zM201.96 953.91h1.46v54.45h-1.46zM242.88 953.91h2.92v54.45h-2.92zM275.03 953.91h4.38v54.45h-4.38zM346.63 953.91h1.46v54.45h-1.46zM539.52 953.91h1.46v54.45h-1.46zM657.89 953.91h1.46v54.45h-1.46zM795.25 953.91h2.92v54.45h-2.92zM827.4 953.91h1.46v54.45h-1.46zM893.16 953.91h1.46v54.45h-1.46zM926.77 953.91h1.46v54.45h-1.46zM958.92 953.91h1.46v54.45h-1.46zM991.07 953.91h1.46v54.45h-1.46zM998.37 953.91h1.46v54.45h-1.46zM1023.21 953.91h1.46v54.45h-1.46zM1207.34 953.91h1.46v54.45h-1.46zM1243.87 953.91h2.92v54.45h-2.92zM1248.25 953.91h1.46v54.45h-1.46zM1267.25 953.91h1.46v54.45h-1.46zM1274.56 953.91h2.92v54.45h-2.92zM1280.4 953.91h1.46v54.45h-1.46zM1295.02 953.91h5.85v54.45h-5.85zM1344.7 953.91h2.92v54.45h-2.92zM1451.38 953.91h1.46v54.45h-1.46zM1477.68 953.91h1.46v54.45h-1.46zM1489.37 953.91h1.46v54.45h-1.46zM1540.51 953.91h1.46v54.45h-1.46zM1620.89 953.91h1.46v54.45h-1.46z"/>
<path fill="#f4e08e" d="M108.44 953.91h1.46v54.45h-1.46zM174.2 953.91h1.46v54.45h-1.46zM203.42 953.91h1.46v54.45h-1.46zM216.58 953.91h1.46v54.45h-1.46zM220.96 953.91h2.92v54.45h-2.92zM232.65 953.91h1.46v54.45h-1.46zM260.42 953.91h1.46v54.45h-1.46zM326.17 953.91h4.38v54.45h-4.38zM383.16 953.91h1.46v54.45h-1.46zM406.55 953.91h1.46v54.45h-1.46zM419.7 953.91h1.46v54.45h-1.46zM434.31 953.91h4.38v54.45h-4.38zM486.92 953.91h1.46v54.45h-1.46zM523.45 953.91h1.46v54.45h-1.46zM535.14 953.91h1.46v54.45h-1.46zM650.58 953.91h1.46v54.45h-1.46zM656.43 953.91h1.46v54.45h-1.46zM678.35 953.91h2.92v54.45h-2.92zM774.79 953.91h1.46v54.45h-1.46zM798.17 953.91h1.46v54.45h-1.46zM925.31 953.91h1.46v54.45h-1.46zM976.45 953.91h2.92v54.45h-2.92zM989.6 953.91h1.46v54.45h-1.46zM992.53 953.91h4.38v54.45h-4.38zM1014.45 953.91h1.46v54.45h-1.46zM1090.43 953.91h2.92v54.45h-2.92zM1121.12 953.91h1.46v54.45h-1.46zM1124.04 953.91h4.38v54.45h-4.38zM1200.03 953.91h2.92v54.45h-2.92zM1240.95 953.91h1.46v54.45h-1.46zM1246.79 953.91h1.46v54.45h-1.46zM1281.86 953.91h1.46v54.45h-1.46zM1292.09 953.91h2.92v54.45h-2.92zM1432.38 953.91h1.46v54.45h-1.46zM1436.76 953.91h1.46v54.45h-1.46zM1467.45 953.91h1.46v54.45h-1.46zM1490.83 953.91h1.46v54.45h-1.46zM1503.98 953.91h1.46v54.45h-1.46zM1536.13 953.91h2.92v54.45h-2.92zM1552.2 953.91h1.46v54.45h-1.46zM1600.43 953.91h1.46v54.45h-1.46zM1607.73 953.91h1.46v54.45h-1.46z"/>
<path fill="#d6e098" d="M109.9 953.91h1.46v54.45h-1.46zM130.36 953.91h1.46v54.45h-1.46zM163.97 953.91h4.38v54.45h-4.38zM171.28 953.91h1.46v54.45h-1.46zM181.51 953.91h2.92v54.45h-2.92zM245.8 953.91h1.46v54.45h-1.46zM250.19 953.91h1.46v54.45h-1.46zM256.03 953.91h4.38v54.45h-4.38zM261.88 953.91h1.46v54.45h-1.46zM264.8 953.91h2.92v54.45h-2.92zM285.26 953.91h1.46v54.45h-1.46zM296.95 953.91h1.46v54.45h-1.46zM301.33 953.91h1.46v54.45h-1.46zM332.02 953.91h1.46v54.45h-1.46zM337.86 953.91h1.46v54.45h-1.46zM368.55 953.91h4.38v54.45h-4.38zM374.4 953.91h1.46v54.45h-1.46zM391.93 953.91h1.46v54.45h-1.46zM394.86 953.91h1.46v54.45h-1.46zM397.78 953.91h1.46v54.45h-1.46zM418.24 953.91h1.46v54.45h-1.46zM520.53 953.91h2.92v54.45h-2.92zM676.89 953.91h1.46v54.45h-1.46zM697.34 953.91h1.46v54.45h-1.46zM710.5 953.91h1.46v54.45h-1.46zM719.26 953.91h2.92v54.45h-2.92zM732.42 953.91h2.92v54.45h-2.92zM749.95 953.91h2.92v54.45h-2.92zM755.8 953.91h1.46v54.45h-1.46zM760.18 953.91h1.46v54.45h-1.46zM773.33 953.91h1.46v54.45h-1.46zM785.02 953.91h1.46v54.45h-1.46zM820.09 953.91h1.46v54.45h-1.46zM831.78 953.91h1.46v54.45h-1.46zM890.24 953.91h2.92v54.45h-2.92zM910.69 953.91h2.92v54.45h-2.92zM957.46 953.91h1.46v54.45h-1.46zM1015.91 953.91h1.46v54.45h-1.46zM1027.6 953.91h2.92v54.45h-2.92zM1031.98 953.91h1.46v54.45h-1.46zM1049.52 953.91h1.46v54.45h-1.46zM1059.75 953.91h1.46v54.45h-1.46zM1100.66 953.91h1.46v54.45h-1.46zM1106.51 953.91h1.46v54.45h-1.46zM1109.43 953.91h2.92v54.45h-2.92zM1198.57 953.91h1.46v54.45h-1.46zM1283.33 953.91h1.46v54.45h-1.46zM1357.85 953.91h1.46v54.45h-1.46zM1363.7 953.91h1.46v54.45h-1.46zM1373.93 953.91h2.92v54.45h-2.92zM1384.16 953.91h1.46v54.45h-1.46zM1391.46 953.91h1.46v54.45h-1.46zM1419.23 953.91h1.46v54.45h-1.46zM1501.06 953.91h1.46v54.45h-1.46zM1559.51 953.91h2.92v54.45h-2.92z"/>
<path fill="#e5e093" d="M115.75 953.91h1.46v54.45h-1.46zM146.43 953.91h2.92v54.45h-2.92zM168.35 953.91h1.46v54.45h-1.46zM218.04 953.91h2.92v54.45h-2.92zM225.34 953.91h2.92v54.45h-2.92zM241.42 953.91h1.46v54.45h-1.46zM283.8 953.91h1.46v54.45h-1.46zM286.72 953.91h7.31v54.45h-7.31zM365.63 953.91h1.46v54.45h-1.46zM372.94 953.91h1.46v54.45h-1.46zM378.78 953.91h1.46v54.45h-1.46zM409.47 953.91h1.46v54.45h-1.46zM488.38 953.91h1.46v54.45h-1.46zM494.22 953.91h1.46v54.45h-1.46zM530.76 953.91h2.92v54.45h-2.92zM647.66 953.91h2.92v54.45h-2.92zM662.27 953.91h1.46v54.45h-1.46zM703.19 953.91h2.92v54.45h-2.92zM713.42 953.91h1.46v54.45h-1.46zM725.11 953.91h1.46v54.45h-1.46zM738.26 953.91h1.46v54.45h-1.46zM748.49 953.91h1.46v54.45h-1.46zM852.24 953.91h1.46v54.45h-1.46zM900.47 953.91h2.92v54.45h-2.92zM916.54 953.91h1.46v54.45h-1.46zM953.07 953.91h1.46v54.45h-1.46zM963.3 953.91h1.46v54.45h-1.46zM1024.68 953.91h2.92v54.45h-2.92zM1061.21 953.91h4.38v54.45h-4.38zM1069.98 953.91h1.46v54.45h-1.46zM1093.36 953.91h1.46v54.45h-1.46zM1112.35 953.91h1.46v54.45h-1.46zM1129.89 953.91h2.92v54.45h-2.92zM1140.12 953.91h1.46v54.45h-1.46zM1176.65 953.91h1.46v54.45h-1.46zM1182.5 953.91h1.46v54.45h-1.46zM1217.57 953.91h1.46v54.45h-1.46zM1223.41 953.91h1.46v54.45h-1.46zM1235.1 953.91h1.46v54.45h-1.46zM1239.49 953.91h1.46v54.45h-1.46zM1251.18 953.91h1.46v54.45h-1.46zM1255.56 953.91h2.92v54.45h-2.92zM1259.94 953.91h2.92v54.45h-2.92zM1309.63 953.91h2.92v54.45h-2.92zM1314.01 953.91h1.46v54.45h-1.46zM1316.94 953.91h1.46v54.45h-1.46zM1330.09 953.91h1.46v54.45h-1.46zM1333.01 953.91h2.92v54.45h-2.92zM1397.31 953.91h1.46v54.45h-1.46zM1401.69 953.91h2.92v54.45h-2.92zM1438.22 953.91h4.38v54.45h-4.38zM1613.58 953.91h1.46v54.45h-1.46z"/>
<path fill="#fcc876" d="M118.67 953.91h4.38v54.45h-4.38zM483.99 953.91h1.46v54.45h-1.46zM507.38 953.91h1.46v54.45h-1.46zM513.22 953.91h4.38v54.45h-4.38zM519.07 953.91h1.46v54.45h-1.46zM814.25 953.91h4.38v54.45h-4.38zM825.94 953.91h1.46v54.45h-1.46zM869.78 953.91h1.46v54.45h-1.46zM1302.32 953.91h1.46v54.45h-1.46zM1306.71 953.91h1.46v54.45h-1.46zM1312.55 953.91h1.46v54.45h-1.46zM1366.62 953.91h5.85v54.45h-5.85zM1520.06 953.91h2.92v54.45h-2.92zM1550.74 953.91h1.46v54.45h-1.46zM1571.2 953.91h1.46v54.45h-1.46zM1591.66 953.91h1.46v54.45h-1.46zM1604.81 953.91h1.46v54.45h-1.46zM1629.65 953.91h1.46v54.45h-1.46z"/>
<path fill="#b8e0a3" d="M125.98 953.91h2.92v54.45h-2.92zM169.81 953.91h1.46v54.45h-1.46zM295.49 953.91h1.46v54.45h-1.46zM302.79 953.91h2.92v54.45h-2.92zM389.01 953.91h1.46v54.45h-1.46zM410.93 953.91h4.38v54.45h-4.38zM431.39 953.91h1.46v54.45h-1.46zM448.92 953.91h2.92v54.45h-2.92zM454.77 953.91h1.46v54.45h-1.46zM457.69 953.91h1.46v54.45h-1.46zM701.73 953.91h1.46v54.45h-1.46zM706.11 953.91h1.46v54.45h-1.46zM741.18 953.91h4.38v54.45h-4.38zM764.56 953.91h1.46v54.45h-1.46zM809.86 953.91h1.46v54.45h-1.46zM821.55 953.91h4.38v54.45h-4.38zM881.47 953.91h1.46v54.45h-1.46zM884.39 953.91h2.92v54.45h-2.92zM894.62 953.91h2.92v54.45h-2.92zM904.85 953.91h2.92v54.45h-2.92zM918 953.91h1.46v54.45h-1.46zM922.38 953.91h1.46v54.45h-1.46zM928.23 953.91h1.46v54.45h-1.46zM947.23 953.91h2.92v54.45h-2.92zM1087.51 953.91h2.92v54.45h-2.92zM1150.35 953.91h1.46v54.45h-1.46zM1160.58 953.91h4.38v54.45h-4.38zM1173.73 953.91h1.46v54.45h-1.46zM1179.57 953.91h2.92v54.45h-2.92zM1204.42 953.91h1.46v54.45h-1.46zM1252.64 953.91h1.46v54.45h-1.46zM1262.87 953.91h4.38v54.45h-4.38zM1305.25 953.91h1.46v54.45h-1.46zM1315.47 953.91h1.46v54.45h-1.46zM1340.32 953.91h1.46v54.45h-1.46zM1372.46 953.91h1.46v54.45h-1.46zM1387.08 953.91h1.46v54.45h-1.46zM1407.54 953.91h2.92v54.45h-2.92zM1411.92 953.91h1.46v54.45h-1.46zM1455.76 953.91h1.46v54.45h-1.46zM1470.37 953.91h1.46v54.45h-1.46z"/>
<path fill="#96db98" d="M131.82 953.91h4.38v54.45h-4.38zM137.67 953.91h1.46v54.45h-1.46zM172.74 953.91h1.46v54.45h-1.46zM251.65 953.91h1.46v54.45h-1.46zM313.02 953.91h1.46v54.45h-1.46zM315.94 953.91h1.46v54.45h-1.46zM343.71 953.91h2.92v54.45h-2.92zM415.31 953.91h2.92v54.45h-2.92zM747.03 953.91h1.46v54.45h-1.46zM859.55 953.91h4.38v54.45h-4.38zM999.83 953.91h7.31v54.45h-7.31zM1037.83 953.91h1.46v54.45h-1.46zM1052.44 953.91h1.46v54.45h-1.46zM1378.31 953.91h1.46v54.45h-1.46zM1433.84 953.91h2.92v54.45h-2.92z"/>
<path fill="#f99556" d="M136.21 953.91h1.46v54.45h-1.46zM524.91 953.91h1.46v54.45h-1.46zM941.38 953.91h2.92v54.45h-2.92zM1071.44 953.91h1.46v54.45h-1.46zM1381.23 953.91h2.92v54.45h-2.92zM1569.74 953.91h1.46v54.45h-1.46z"/>
<path fill="#fcd27f" d="M144.97 953.91h1.46v54.45h-1.46zM185.89 953.91h1.46v54.45h-1.46zM223.88 953.91h1.46v54.45h-1.46zM358.32 953.91h1.46v54.45h-1.46zM473.77 953.91h1.46v54.45h-1.46zM505.91 953.91h1.46v54.45h-1.46zM646.2 953.91h1.46v54.45h-1.46zM659.35 953.91h1.46v54.45h-1.46zM675.42 953.91h1.46v54.45h-1.46zM695.88 953.91h1.46v54.45h-1.46zM790.87 953.91h2.92v54.45h-2.92zM899 953.91h1.46v54.45h-1.46zM1135.73 953.91h1.46v54.45h-1.46zM1268.71 953.91h1.46v54.45h-1.46zM1300.86 953.91h1.46v54.45h-1.46zM1318.4 953.91h2.92v54.45h-2.92zM1331.55 953.91h1.46v54.45h-1.46zM1335.93 953.91h2.92v54.45h-2.92zM1495.21 953.91h1.46v54.45h-1.46zM1528.82 953.91h7.31v54.45h-7.31zM1546.36 953.91h1.46v54.45h-1.46zM1553.67 953.91h2.92v54.45h-2.92zM1619.42 953.91h1.46v54.45h-1.46z"/>
<path fill="#ede090" d="M149.36 953.91h1.46v54.45h-1.46zM206.35 953.91h2.92v54.45h-2.92zM238.5 953.91h1.46v54.45h-1.46zM504.45 953.91h1.46v54.45h-1.46zM681.27 953.91h2.92v54.45h-2.92zM726.57 953.91h4.38v54.45h-4.38zM768.95 953.91h1.46v54.45h-1.46zM786.48 953.91h1.46v54.45h-1.46zM837.63 953.91h2.92v54.45h-2.92zM866.86 953.91h2.92v54.45h-2.92zM877.08 953.91h1.46v54.45h-1.46zM915.08 953.91h1.46v54.45h-1.46zM919.46 953.91h2.92v54.45h-2.92zM951.61 953.91h1.46v54.45h-1.46zM979.38 953.91h1.46v54.45h-1.46zM1007.14 953.91h1.46v54.45h-1.46zM1040.75 953.91h1.46v54.45h-1.46zM1043.67 953.91h1.46v54.45h-1.46zM1086.05 953.91h1.46v54.45h-1.46zM1157.65 953.91h1.46v54.45h-1.46zM1169.34 953.91h1.46v54.45h-1.46zM1197.11 953.91h1.46v54.45h-1.46zM1213.18 953.91h1.46v54.45h-1.46zM1230.72 953.91h4.38v54.45h-4.38zM1242.41 953.91h1.46v54.45h-1.46zM1277.48 953.91h1.46v54.45h-1.46zM1321.32 953.91h1.46v54.45h-1.46zM1347.62 953.91h1.46v54.45h-1.46zM1449.91 953.91h1.46v54.45h-1.46zM1452.84 953.91h1.46v54.45h-1.46zM1473.29 953.91h1.46v54.45h-1.46zM1496.68 953.91h1.46v54.45h-1.46zM1502.52 953.91h1.46v54.45h-1.46zM1574.12 953.91h1.46v54.45h-1.46zM1578.51 953.91h2.92v54.45h-2.92zM1615.04 953.91h4.38v54.45h-4.38zM1634.04 953.91h2.92v54.45h-2.92z"/>
<path fill="#fdb062" d="M150.82 953.91h7.31v54.45h-7.31zM479.61 953.91h2.92v54.45h-2.92zM510.3 953.91h1.46v54.45h-1.46zM540.99 953.91h2.92v54.45h-2.92zM546.83 953.91h1.46v54.45h-1.46zM554.14 953.91h1.46v54.45h-1.46zM625.74 953.91h1.46v54.45h-1.46zM635.97 953.91h1.46v54.45h-1.46zM641.81 953.91h1.46v54.45h-1.46zM660.81 953.91h1.46v54.45h-1.46zM1081.67 953.91h2.92v54.45h-2.92z"/>
<path fill="#bfe0a1" d="M178.58 953.91h2.92v54.45h-2.92zM247.26 953.91h1.46v54.45h-1.46zM317.41 953.91h1.46v54.45h-1.46zM340.79 953.91h2.92v54.45h-2.92zM387.55 953.91h1.46v54.45h-1.46zM399.24 953.91h5.85v54.45h-5.85zM443.08 953.91h2.92v54.45h-2.92zM465 953.91h2.92v54.45h-2.92zM489.84 953.91h4.38v54.45h-4.38zM529.29 953.91h1.46v54.45h-1.46zM538.06 953.91h1.46v54.45h-1.46zM684.19 953.91h1.46v54.45h-1.46zM690.04 953.91h4.38v54.45h-4.38zM739.72 953.91h1.46v54.45h-1.46zM776.25 953.91h4.38v54.45h-4.38zM793.79 953.91h1.46v54.45h-1.46zM840.55 953.91h5.85v54.45h-5.85zM855.16 953.91h1.46v54.45h-1.46zM880.01 953.91h1.46v54.45h-1.46zM882.93 953.91h1.46v54.45h-1.46zM897.54 953.91h1.46v54.45h-1.46zM935.54 953.91h4.38v54.45h-4.38zM950.15 953.91h1.46v54.45h-1.46zM954.53 953.91h2.92v54.45h-2.92zM1011.52 953.91h1.46v54.45h-1.46zM1078.74 953.91h1.46v54.45h-1.46zM1116.74 953.91h1.46v54.45h-1.46zM1119.66 953.91h1.46v54.45h-1.46zM1151.81 953.91h2.92v54.45h-2.92zM1178.11 953.91h1.46v54.45h-1.46zM1289.17 953.91h2.92v54.45h-2.92zM1385.62 953.91h1.46v54.45h-1.46zM1388.54 953.91h1.46v54.45h-1.46zM1468.91 953.91h1.46v54.45h-1.46z"/>
<path fill="#fccd7b" d="M184.43 953.91h1.46v54.45h-1.46zM552.68 953.91h1.46v54.45h-1.46zM966.22 953.91h1.46v54.45h-1.46zM980.84 953.91h1.46v54.45h-1.46zM1132.81 953.91h2.92v54.45h-2.92zM1270.17 953.91h2.92v54.45h-2.92zM1303.78 953.91h1.46v54.45h-1.46zM1353.47 953.91h1.46v54.45h-1.46zM1471.83 953.91h1.46v54.45h-1.46zM1498.14 953.91h1.46v54.45h-1.46zM1562.43 953.91h2.92v54.45h-2.92zM1606.27 953.91h1.46v54.45h-1.46z"/>
<path fill="#89d891" d="M188.81 953.91h1.46v54.45h-1.46zM299.87 953.91h1.46v54.45h-1.46zM348.09 953.91h2.92v54.45h-2.92zM425.54 953.91h1.46v54.45h-1.46zM460.61 953.91h1.46v54.45h-1.46zM1034.9 953.91h2.92v54.45h-2.92zM1170.81 953.91h1.46v54.45h-1.46zM1195.65 953.91h1.46v54.45h-1.46zM1236.56 953.91h1.46v54.45h-1.46zM1426.53 953.91h1.46v54.45h-1.46zM1474.76 953.91h2.92v54.45h-2.92z"/>
<path fill="#fdbe6e" d="M190.27 953.91h1.46v54.45h-1.46zM549.75 953.91h1.46v54.45h-1.46zM654.97 953.91h1.46v54.45h-1.46zM1352.01 953.91h1.46v54.45h-1.46zM1492.29 953.91h1.46v54.45h-1.46zM1515.67 953.91h1.46v54.45h-1.46zM1609.2 953.91h1.46v54.45h-1.46zM1641.34 953.91h1.41v54.45h-1.41z"/>
<path fill="#fdc372" d="M191.73 953.91h1.46v54.45h-1.46zM495.68 953.91h2.92v54.45h-2.92zM618.43 953.91h1.46v54.45h-1.46zM871.24 953.91h1.46v54.45h-1.46zM982.3 953.91h4.38v54.45h-4.38zM1143.04 953.91h1.46v54.45h-1.46zM1338.86 953.91h1.46v54.45h-1.46zM1365.16 953.91h1.46v54.45h-1.46zM1638.42 953.91h2.92v54.45h-2.92z"/>
<path fill="#b0e0a6" d="M228.27 953.91h4.38v54.45h-4.38zM318.87 953.91h1.46v54.45h-1.46zM352.48 953.91h1.46v54.45h-1.46zM432.85 953.91h1.46v54.45h-1.46zM451.85 953.91h2.92v54.45h-2.92zM459.15 953.91h1.46v54.45h-1.46zM463.54 953.91h1.46v54.45h-1.46zM470.84 953.91h1.46v54.45h-1.46zM500.07 953.91h2.92v54.45h-2.92zM707.57 953.91h2.92v54.45h-2.92zM722.19 953.91h1.46v54.45h-1.46zM730.95 953.91h1.46v54.45h-1.46zM761.64 953.91h1.46v54.45h-1.46zM770.41 953.91h1.46v54.45h-1.46zM818.63 953.91h1.46v54.45h-1.46zM834.71 953.91h2.92v54.45h-2.92zM923.85 953.91h1.46v54.45h-1.46zM931.15 953.91h4.38v54.45h-4.38zM961.84 953.91h1.46v54.45h-1.46zM1030.52 953.91h1.46v54.45h-1.46zM1042.21 953.91h1.46v54.45h-1.46zM1164.96 953.91h1.46v54.45h-1.46zM1185.42 953.91h1.46v54.45h-1.46zM1284.79 953.91h2.92v54.45h-2.92zM1390 953.91h1.46v54.45h-1.46zM1417.77 953.91h1.46v54.45h-1.46zM1423.61 953.91h1.46v54.45h-1.46zM1457.22 953.91h2.92v54.45h-2.92z"/>
<path fill="#fdba6a" d="M298.41 953.91h1.46v54.45h-1.46zM485.46 953.91h1.46v54.45h-1.46zM622.82 953.91h1.46v54.45h-1.46zM631.59 953.91h1.46v54.45h-1.46zM665.2 953.91h4.38v54.45h-4.38zM1145.96 953.91h2.92v54.45h-2.92zM1249.72 953.91h1.46v54.45h-1.46zM1517.13 953.91h2.92v54.45h-2.92zM1522.98 953.91h1.46v54.45h-1.46zM1565.36 953.91h1.46v54.45h-1.46zM1593.12 953.91h2.92v54.45h-2.92zM1626.73 953.91h1.46v54.45h-1.46z"/>
<path fill="#70d382" d="M305.72 953.91h4.38v54.45h-4.38zM314.48 953.91h1.46v54.45h-1.46zM736.8 953.91h1.46v54.45h-1.46zM850.78 953.91h1.46v54.45h-1.46zM1039.29 953.91h1.46v54.45h-1.46zM1045.13 953.91h1.46v54.45h-1.46zM1238.03 953.91h1.46v54.45h-1.46z"/>
<path fill="#63d07b" d="M310.1 953.91h2.92v54.45h-2.92zM849.32 953.91h1.46v54.45h-1.46zM874.16 953.91h1.46v54.45h-1.46zM1138.66 953.91h1.46v54.45h-1.46zM1156.19 953.91h1.46v54.45h-1.46zM1343.24 953.91h1.46v54.45h-1.46z"/>
<path fill="#fa9c59" d="M441.62 953.91h1.46v54.45h-1.46zM633.05 953.91h1.46v54.45h-1.46zM643.28 953.91h2.92v54.45h-2.92zM846.4 953.91h2.92v54.45h-2.92zM1581.43 953.91h2.92v54.45h-2.92zM1597.51 953.91h1.46v54.45h-1.46z"/>
<path fill="#fdb566" d="M482.53 953.91h1.46v54.45h-1.46zM548.29 953.91h1.46v54.45h-1.46zM555.6 953.91h1.46v54.45h-1.46zM619.9 953.91h1.46v54.45h-1.46zM1322.78 953.91h1.46v54.45h-1.46zM1484.99 953.91h4.38v54.45h-4.38zM1566.82 953.91h2.92v54.45h-2.92zM1590.2 953.91h1.46v54.45h-1.46zM1598.97 953.91h1.46v54.45h-1.46zM1601.89 953.91h1.46v54.45h-1.46zM1610.66 953.91h1.46v54.45h-1.46zM1623.81 953.91h1.46v54.45h-1.46zM1631.12 953.91h1.46v54.45h-1.46z"/>
<path fill="#fca95f" d="M508.84 953.91h1.46v54.45h-1.46zM543.91 953.91h2.92v54.45h-2.92zM1628.19 953.91h1.46v54.45h-1.46z"/>
<path fill="#7cd58a" d="M536.6 953.91h1.46v54.45h-1.46zM988.14 953.91h1.46v54.45h-1.46zM1097.74 953.91h2.92v54.45h-2.92zM1186.88 953.91h2.92v54.45h-2.92zM1191.26 953.91h4.38v54.45h-4.38zM1202.95 953.91h1.46v54.45h-1.46zM1278.94 953.91h1.46v54.45h-1.46z"/>
<path fill="#fba35c" d="M551.21 953.91h1.46v54.45h-1.46zM621.36 953.91h1.46v54.45h-1.46zM634.51 953.91h1.46v54.45h-1.46zM640.35 953.91h1.46v54.45h-1.46zM652.04 953.91h2.92v54.45h-2.92zM1541.98 953.91h4.38v54.45h-4.38zM1577.05 953.91h1.46v54.45h-1.46z"/>
<path fill="#27479d" d="M557.06 953.91h1.46v54.45h-1.46zM567.29 953.91h1.46v54.45h-1.46zM589.21 953.91h1.46v54.45h-1.46zM595.05 953.91h2.92v54.45h-2.92zM603.82 953.91h2.92v54.45h-2.92zM615.51 953.91h2.92v54.45h-2.92z"/>
<path fill="#28439a" d="M558.52 953.91h1.46v54.45h-1.46zM562.9 953.91h1.46v54.45h-1.46zM568.75 953.91h1.46v54.45h-1.46zM578.98 953.91h1.46v54.45h-1.46zM592.13 953.91h1.46v54.45h-1.46zM599.44 953.91h1.46v54.45h-1.46zM609.67 953.91h2.92v54.45h-2.92zM614.05 953.91h1.46v54.45h-1.46z"/>
<path fill="#274ca0" d="M559.98 953.91h2.92v54.45h-2.92zM571.67 953.91h2.92v54.45h-2.92zM580.44 953.91h1.46v54.45h-1.46zM583.36 953.91h2.92v54.45h-2.92zM593.59 953.91h1.46v54.45h-1.46zM600.9 953.91h1.46v54.45h-1.46zM606.74 953.91h1.46v54.45h-1.46z"/>
<path fill="#2650a2" d="M564.37 953.91h1.46v54.45h-1.46zM576.06 953.91h2.92v54.45h-2.92zM587.75 953.91h1.46v54.45h-1.46z"/>
<path fill="#31ac78" d="M565.83 953.91h1.46v54.45h-1.46zM570.21 953.91h1.46v54.45h-1.46zM608.21 953.91h1.46v54.45h-1.46z"/>
<path fill="#26908a" d="M574.6 953.91h1.46v54.45h-1.46z"/>
<path fill="#38bf6c" d="M581.9 953.91h1.46v54.45h-1.46zM586.29 953.91h1.46v54.45h-1.46zM602.36 953.91h1.46v54.45h-1.46z"/>
<path fill="#299984" d="M590.67 953.91h1.46v54.45h-1.46zM612.59 953.91h1.46v54.45h-1.46z"/>
<path fill="#35b572" d="M597.98 953.91h1.46v54.45h-1.46z"/>
<path fill="#f88e52" d="M624.28 953.91h1.46v54.45h-1.46zM1625.27 953.91h1.46v54.45h-1.46z"/>
<path fill="#f57446" d="M627.2 953.91h1.46v54.45h-1.46zM637.43 953.91h1.46v54.45h-1.46z"/>
<path fill="#f67a49" d="M628.66 953.91h1.46v54.45h-1.46z"/>
<path fill="#f7814c" d="M630.12 953.91h1.46v54.45h-1.46z"/>
<path fill="#e4554e" d="M638.89 953.91h1.46v54.45h-1.46z"/>
<path fill="#56cd74" d="M714.88 953.91h4.38v54.45h-4.38zM763.1 953.91h1.46v54.45h-1.46zM887.31 953.91h2.92v54.45h-2.92zM913.62 953.91h1.46v54.45h-1.46zM1166.42 953.91h1.46v54.45h-1.46zM1430.92 953.91h1.46v54.45h-1.46zM1483.52 953.91h1.46v54.45h-1.46z"/>
<path fill="#b3b3b3" d="M95.38 1008.36h3.75v38.4h-3.75zM103.12 1008.36h3.75v38.4h-3.75zM119.12 1008.36h3.75v38.4h-3.75zM158.25 1008.36h6v38.4h-6zM189.5 1008.36h4.5v38.4h-4.5zM226.38 1008.36h3.75v38.4h-3.75zM248.88 1008.36h3.75v38.4h-3.75zM272.62 1008.36h3.75v38.4h-3.75zM286.5 1008.36h5.5v38.4h-5.5zM311.12 1008.36h3.75v38.4h-3.75zM359.12 1008.36h3.75v38.4h-3.75zM380.5 1008.36h5v38.4h-5zM390.38 1008.36h3.75v38.4h-3.75zM397.88 1008.36h3.75v38.4h-3.75zM426.38 1008.36h3.75v38.4h-3.75zM478.62 1008.36h3.75v38.4h-3.75zM628.25 1008.36h6.5v38.4h-6.5zM641.88 1008.36h3.75v38.4h-3.75zM673.12 1008.36h3.75v38.4h-3.75zM680.62 1008.36h3.75v38.4h-3.75zM716.12 1008.36h3.75v38.4h-3.75zM737.12 1008.36h9.25v38.4h-9.25zM748.12 1008.36h3.75v38.4h-3.75zM769.62 1008.36h3.75v38.4h-3.75zM848.12 1008.36h3.75v38.4h-3.75zM867.12 1008.36h3.75v38.4h-3.75zM889.38 1008.36h3.75v38.4h-3.75zM909.88 1008.36h3.75v38.4h-3.75zM946.12 1008.36h3.75v38.4h-3.75zM976.12 1008.36h3.75v38.4h-3.75zM1031.12 1008.36h3.75v38.4h-3.75zM1037.38 1008.36h3.75v38.4h-3.75zM1083 1008.36h5.5v38.4h-5.5zM1088.75 1008.36h4v38.4h-4zM1097.88 1008.36h3.75v38.4h-3.75zM1117.38 1008.36h3.75v38.4h-3.75zM1152.12 1008.36h3.75v38.4h-3.75zM1208.62 1008.36h3.75v38.4h-3.75zM1238.62 1008.36h3.75v38.4h-3.75zM1274.88 1008.36h3.75v38.4h-3.75zM1334 1008.36h6v38.4h-6zM1349.25 1008.36h5.5v38.4h-5.5zM1360.88 1008.36h3.75v38.4h-3.75zM1392.12 1008.36h3.75v38.4h-3.75zM1427.62 1008.36h3.75v38.4h-3.75zM1433 1008.36h7v38.4h-7zM1443.62 1008.36h3.75v38.4h-3.75zM1470.5 1008.36h6v38.4h-6zM1499.12 1008.36h3.75v38.4h-3.75zM1519.12 1008.36h3.75v38.4h-3.75zM1534.88 1008.36h3.75v38.4h-3.75zM1574.38 1008.36h3.75v38.4h-3.75zM1606.12 1008.36h3.75v38.4h-3.75zM1628.38 1008.36h3.75v38.4h-3.75z"/>
<path fill="#ffa500" d="M581.88 1008.36h3.75v38.4h-3.75zM610.88 1008.36h3.75v38.4h-3.75z"/>
<line x1="86.2" x2="94.1" y1="935.84" y2="935.84" stroke="#333" stroke-width="3.6"/>
<text class="yl" x="79.6" y="944.74">10</text>
<line x1="86.2" x2="94.1" y1="911.56" y2="911.56" stroke="#333" stroke-width="3.6"/>
<text class="yl" x="79.6" y="920.46">30</text>
<line x1="86.2" x2="94.1" y1="887.42" y2="887.42" stroke="#333" stroke-width="3.6"/>
<text class="yl" x="79.6" y="896.32">50</text>
<line x1="86.2" x2="94.1" y1="863.43" y2="863.43" stroke="#333" stroke-width="3.6"/>
<text class="yl" x="79.6" y="872.33">70</text>
<rect x="1951.15" y="855.94" width="48.85" height="206.16" fill="#d9d9d9"/>
<text class="st" transform="translate(1963.6 887.3) rotate(90)">Contig 5</text>
</g>
<g id="panel6">
<line x1="93.6" x2="1244.5" y1="1157.28" y2="1157.28" stroke="#8a8a8a" stroke-width="1" stroke-dasharray="10.8 9.929"/>
<line x1="93.6" x2="1244.5" y1="1133" y2="1133" stroke="#8a8a8a" stroke-width="1" stroke-dasharray="10.8 9.929"/>
<line x1="93.6" x2="1244.5" y1="1108.72" y2="1108.72" stroke="#8a8a8a" stroke-width="1" stroke-dasharray="10.8 9.929"/>
<line x1="93.6" x2="1244.5" y1="1084.51" y2="1084.51" stroke="#8a8a8a" stroke-width="1" stroke-dasharray="10.8 9.929"/>
<path fill="#575757" d="M98.35 1102.73h26.45v66.45h-26.45zM127.57 1114.83h26.45v54.35h-26.45zM156.8 1107.57h26.45v61.61h-26.45zM186.03 1116.04h26.45v53.14h-26.45zM215.25 1109.99h26.45v59.19h-26.45zM244.47 1103.94h26.45v65.24h-26.45zM273.7 1105.15h26.45v64.03h-26.45zM302.93 1099.1h26.45v70.08h-26.45zM332.15 1106.36h26.45v62.82h-26.45zM361.38 1108.78h26.45v60.4h-26.45zM390.6 1112.41h26.45v56.77h-26.45zM419.83 1107.57h26.45v61.61h-26.45zM449.05 1099.1h26.45v70.08h-26.45zM478.27 1120.88h26.45v48.3h-26.45zM507.5 1100.31h26.45v68.87h-26.45zM536.73 1103.94h26.45v65.24h-26.45zM565.95 1113.62h26.45v55.56h-26.45zM595.18 1123.3h26.45v45.88h-26.45zM624.4 1128.14h26.45v41.04h-26.45zM653.62 1124.51h26.45v44.67h-26.45zM682.85 1112.41h26.45v56.77h-26.45zM712.08 1099.1h26.45v70.08h-26.45zM741.3 1088.21h26.45v80.97h-26.45zM770.53 1101.52h26.45v67.66h-26.45zM799.75 1109.99h26.45v59.19h-26.45zM828.98 1101.52h26.45v67.66h-26.45zM858.2 1120.88h26.45v48.3h-26.45zM887.43 1099.1h26.45v70.08h-26.45zM916.65 1108.78h26.45v60.4h-26.45zM945.88 1107.57h26.45v61.61h-26.45zM975.1 1099.1h26.45v70.08h-26.45zM1004.33 1109.99h26.45v59.19h-26.45zM1033.55 1107.57h26.45v61.61h-26.45zM1062.78 1111.2h26.45v57.98h-26.45zM1092 1103.94h26.45v65.24h-26.45zM1121.22 1096.68h26.45v72.5h-26.45zM1150.45 1117.25h26.45v51.93h-26.45zM1179.67 1102.73h26.45v66.45h-26.45zM1208.9 1106.36h26.45v62.82h-26.45z"/>
<rect x="96.75" y="1175.23" width="1142.5" height="54.45" fill="#ecdc92"/>
<rect x="600.9" y="1175.73" width="59.91" height="53.45" fill="#27499e"/>
<path fill="#bfe0a1" d="M96.75 1175.23h1.46v54.45h-1.46zM130.36 1175.23h1.46v54.45h-1.46zM184.43 1175.23h1.46v54.45h-1.46zM289.64 1175.23h2.92v54.45h-2.92zM294.03 1175.23h5.85v54.45h-5.85zM301.33 1175.23h1.46v54.45h-1.46zM409.47 1175.23h1.46v54.45h-1.46zM416.77 1175.23h1.46v54.45h-1.46zM498.61 1175.23h1.46v54.45h-1.46zM504.45 1175.23h2.92v54.45h-2.92zM508.84 1175.23h1.46v54.45h-1.46zM710.5 1175.23h1.46v54.45h-1.46zM741.18 1175.23h1.46v54.45h-1.46zM745.57 1175.23h5.85v54.45h-5.85zM792.33 1175.23h5.85v54.45h-5.85zM799.64 1175.23h2.92v54.45h-2.92zM818.63 1175.23h1.46v54.45h-1.46zM869.78 1175.23h2.92v54.45h-2.92zM920.92 1175.23h2.92v54.45h-2.92zM931.15 1175.23h1.46v54.45h-1.46zM934.07 1175.23h4.38v54.45h-4.38zM953.07 1175.23h1.46v54.45h-1.46zM963.3 1175.23h1.46v54.45h-1.46zM986.68 1175.23h1.46v54.45h-1.46zM995.45 1175.23h2.92v54.45h-2.92zM1109.43 1175.23h1.46v54.45h-1.46zM1129.89 1175.23h2.92v54.45h-2.92zM1134.27 1175.23h1.46v54.45h-1.46zM1150.35 1175.23h1.46v54.45h-1.46zM1194.19 1175.23h1.46v54.45h-1.46z"/>
<path fill="#fcdb87" d="M98.21 1175.23h1.46v54.45h-1.46zM104.06 1175.23h1.46v54.45h-1.46zM106.98 1175.23h1.46v54.45h-1.46zM120.13 1175.23h1.46v54.45h-1.46zM134.74 1175.23h1.46v54.45h-1.46zM150.82 1175.23h1.46v54.45h-1.46zM168.35 1175.23h1.46v54.45h-1.46zM216.58 1175.23h7.31v54.45h-7.31zM305.72 1175.23h1.46v54.45h-1.46zM308.64 1175.23h2.92v54.45h-2.92zM318.87 1175.23h1.46v54.45h-1.46zM327.64 1175.23h4.38v54.45h-4.38zM346.63 1175.23h1.46v54.45h-1.46zM355.4 1175.23h1.46v54.45h-1.46zM391.93 1175.23h2.92v54.45h-2.92zM405.08 1175.23h2.92v54.45h-2.92zM564.37 1175.23h1.46v54.45h-1.46zM858.09 1175.23h1.46v54.45h-1.46zM868.32 1175.23h1.46v54.45h-1.46zM878.55 1175.23h1.46v54.45h-1.46zM891.7 1175.23h4.38v54.45h-4.38zM954.53 1175.23h1.46v54.45h-1.46zM1059.75 1175.23h1.46v54.45h-1.46zM1207.34 1175.23h2.92v54.45h-2.92zM1213.18 1175.23h4.38v54.45h-4.38z"/>
<path fill="#ede090" d="M99.67 1175.23h1.46v54.45h-1.46zM139.13 1175.23h1.46v54.45h-1.46zM146.43 1175.23h1.46v54.45h-1.46zM149.36 1175.23h1.46v54.45h-1.46zM161.05 1175.23h1.46v54.45h-1.46zM237.03 1175.23h2.92v54.45h-2.92zM244.34 1175.23h2.92v54.45h-2.92zM269.18 1175.23h1.46v54.45h-1.46zM307.18 1175.23h1.46v54.45h-1.46zM365.63 1175.23h1.46v54.45h-1.46zM427 1175.23h2.92v54.45h-2.92zM438.69 1175.23h4.38v54.45h-4.38zM446 1175.23h4.38v54.45h-4.38zM502.99 1175.23h1.46v54.45h-1.46zM523.45 1175.23h2.92v54.45h-2.92zM545.37 1175.23h1.46v54.45h-1.46zM567.29 1175.23h1.46v54.45h-1.46zM691.5 1175.23h1.46v54.45h-1.46zM837.63 1175.23h1.46v54.45h-1.46zM843.47 1175.23h1.46v54.45h-1.46zM853.7 1175.23h2.92v54.45h-2.92zM901.93 1175.23h1.46v54.45h-1.46zM938.46 1175.23h1.46v54.45h-1.46zM948.69 1175.23h4.38v54.45h-4.38zM983.76 1175.23h1.46v54.45h-1.46zM1010.06 1175.23h1.46v54.45h-1.46zM1031.98 1175.23h1.46v54.45h-1.46zM1043.67 1175.23h4.38v54.45h-4.38zM1110.89 1175.23h2.92v54.45h-2.92zM1137.2 1175.23h1.46v54.45h-1.46zM1210.26 1175.23h1.46v54.45h-1.46zM1226.33 1175.23h1.46v54.45h-1.46z"/>
<path fill="#e5e093" d="M101.13 1175.23h1.46v54.45h-1.46zM105.52 1175.23h1.46v54.45h-1.46zM143.51 1175.23h1.46v54.45h-1.46zM156.66 1175.23h1.46v54.45h-1.46zM266.26 1175.23h2.92v54.45h-2.92zM422.62 1175.23h1.46v54.45h-1.46zM475.23 1175.23h1.46v54.45h-1.46zM500.07 1175.23h2.92v54.45h-2.92zM526.37 1175.23h1.46v54.45h-1.46zM695.88 1175.23h1.46v54.45h-1.46zM730.95 1175.23h2.92v54.45h-2.92zM736.8 1175.23h1.46v54.45h-1.46zM768.95 1175.23h2.92v54.45h-2.92zM802.56 1175.23h4.38v54.45h-4.38zM808.4 1175.23h1.46v54.45h-1.46zM817.17 1175.23h1.46v54.45h-1.46zM823.02 1175.23h1.46v54.45h-1.46zM827.4 1175.23h1.46v54.45h-1.46zM830.32 1175.23h2.92v54.45h-2.92zM913.62 1175.23h1.46v54.45h-1.46zM939.92 1175.23h1.46v54.45h-1.46zM945.77 1175.23h2.92v54.45h-2.92zM999.83 1175.23h1.46v54.45h-1.46zM1005.68 1175.23h1.46v54.45h-1.46zM1020.29 1175.23h1.46v54.45h-1.46zM1024.68 1175.23h1.46v54.45h-1.46zM1027.6 1175.23h4.38v54.45h-4.38zM1033.44 1175.23h1.46v54.45h-1.46zM1037.83 1175.23h2.92v54.45h-2.92zM1121.12 1175.23h1.46v54.45h-1.46zM1148.89 1175.23h1.46v54.45h-1.46zM1163.5 1175.23h1.46v54.45h-1.46zM1185.42 1175.23h1.46v54.45h-1.46zM1224.87 1175.23h1.46v54.45h-1.46zM1227.8 1175.23h5.85v54.45h-5.85z"/>
<path fill="#fccd7b" d="M102.6 1175.23h1.46v54.45h-1.46zM123.05 1175.23h5.85v54.45h-5.85zM153.74 1175.23h1.46v54.45h-1.46zM187.35 1175.23h2.92v54.45h-2.92zM191.73 1175.23h1.46v54.45h-1.46zM339.33 1175.23h2.92v54.45h-2.92zM570.21 1175.23h1.46v54.45h-1.46zM673.96 1175.23h1.46v54.45h-1.46zM725.11 1175.23h1.46v54.45h-1.46zM763.1 1175.23h1.46v54.45h-1.46zM774.79 1175.23h1.46v54.45h-1.46zM812.79 1175.23h1.46v54.45h-1.46zM880.01 1175.23h1.46v54.45h-1.46zM1036.37 1175.23h1.46v54.45h-1.46zM1048.06 1175.23h1.46v54.45h-1.46zM1081.67 1175.23h1.46v54.45h-1.46z"/>
<path fill="#f4e08e" d="M108.44 1175.23h1.46v54.45h-1.46zM142.05 1175.23h1.46v54.45h-1.46zM155.2 1175.23h1.46v54.45h-1.46zM165.43 1175.23h1.46v54.45h-1.46zM181.51 1175.23h2.92v54.45h-2.92zM207.81 1175.23h1.46v54.45h-1.46zM225.34 1175.23h4.38v54.45h-4.38zM272.11 1175.23h2.92v54.45h-2.92zM343.71 1175.23h1.46v54.45h-1.46zM377.32 1175.23h2.92v54.45h-2.92zM390.47 1175.23h1.46v54.45h-1.46zM435.77 1175.23h1.46v54.45h-1.46zM481.07 1175.23h1.46v54.45h-1.46zM555.6 1175.23h1.46v54.45h-1.46zM682.73 1175.23h1.46v54.45h-1.46zM685.65 1175.23h1.46v54.45h-1.46zM701.73 1175.23h4.38v54.45h-4.38zM720.73 1175.23h1.46v54.45h-1.46zM739.72 1175.23h1.46v54.45h-1.46zM754.34 1175.23h1.46v54.45h-1.46zM760.18 1175.23h1.46v54.45h-1.46zM790.87 1175.23h1.46v54.45h-1.46zM821.55 1175.23h1.46v54.45h-1.46zM839.09 1175.23h1.46v54.45h-1.46zM842.01 1175.23h1.46v54.45h-1.46zM859.55 1175.23h1.46v54.45h-1.46zM900.47 1175.23h1.46v54.45h-1.46zM915.08 1175.23h4.38v54.45h-4.38zM925.31 1175.23h2.92v54.45h-2.92zM982.3 1175.23h1.46v54.45h-1.46zM1040.75 1175.23h1.46v54.45h-1.46zM1075.82 1175.23h1.46v54.45h-1.46zM1118.2 1175.23h1.46v54.45h-1.46zM1124.04 1175.23h2.92v54.45h-2.92zM1138.66 1175.23h1.46v54.45h-1.46zM1151.81 1175.23h1.46v54.45h-1.46zM1162.04 1175.23h1.46v54.45h-1.46zM1175.19 1175.23h4.38v54.45h-4.38zM1183.96 1175.23h1.46v54.45h-1.46zM1188.34 1175.23h2.92v54.45h-2.92z"/>
<path fill="#fce08b" d="M109.9 1175.23h1.46v54.45h-1.46zM118.67 1175.23h1.46v54.45h-1.46zM223.88 1175.23h1.46v54.45h-1.46zM229.73 1175.23h2.92v54.45h-2.92zM239.96 1175.23h1.46v54.45h-1.46zM275.03 1175.23h1.46v54.45h-1.46zM302.79 1175.23h2.92v54.45h-2.92zM348.09 1175.23h1.46v54.45h-1.46zM364.17 1175.23h1.46v54.45h-1.46zM375.86 1175.23h1.46v54.45h-1.46zM437.23 1175.23h1.46v54.45h-1.46zM520.53 1175.23h1.46v54.45h-1.46zM542.45 1175.23h1.46v54.45h-1.46zM565.83 1175.23h1.46v54.45h-1.46zM571.67 1175.23h1.46v54.45h-1.46zM687.12 1175.23h2.92v54.45h-2.92zM707.57 1175.23h2.92v54.45h-2.92zM744.11 1175.23h1.46v54.45h-1.46zM755.8 1175.23h4.38v54.45h-4.38zM776.25 1175.23h1.46v54.45h-1.46zM840.55 1175.23h1.46v54.45h-1.46zM862.47 1175.23h1.46v54.45h-1.46zM957.46 1175.23h4.38v54.45h-4.38zM973.53 1175.23h2.92v54.45h-2.92zM1055.36 1175.23h1.46v54.45h-1.46zM1083.13 1175.23h1.46v54.45h-1.46zM1122.58 1175.23h1.46v54.45h-1.46zM1135.73 1175.23h1.46v54.45h-1.46zM1156.19 1175.23h2.92v54.45h-2.92zM1160.58 1175.23h1.46v54.45h-1.46zM1192.73 1175.23h1.46v54.45h-1.46zM1238.03 1175.23h1.22v54.45h-1.22z"/>
<path fill="#fcc876" d="M111.36 1175.23h7.31v54.45h-7.31zM128.9 1175.23h1.46v54.45h-1.46zM194.66 1175.23h1.46v54.45h-1.46zM381.7 1175.23h2.92v54.45h-2.92zM425.54 1175.23h1.46v54.45h-1.46zM533.68 1175.23h2.92v54.45h-2.92zM543.91 1175.23h1.46v54.45h-1.46z"/>
<path fill="#fdbe6e" d="M121.59 1175.23h1.46v54.45h-1.46zM162.51 1175.23h1.46v54.45h-1.46zM1018.83 1175.23h1.46v54.45h-1.46zM1181.03 1175.23h2.92v54.45h-2.92zM1211.72 1175.23h1.46v54.45h-1.46z"/>
<path fill="#fba35c" d="M131.82 1175.23h2.92v54.45h-2.92zM592.13 1175.23h1.46v54.45h-1.46zM669.58 1175.23h1.46v54.45h-1.46zM1200.03 1175.23h2.92v54.45h-2.92z"/>
<path fill="#b8e0a3" d="M136.21 1175.23h1.46v54.45h-1.46zM171.28 1175.23h2.92v54.45h-2.92zM201.96 1175.23h2.92v54.45h-2.92zM234.11 1175.23h1.46v54.45h-1.46zM242.88 1175.23h1.46v54.45h-1.46zM276.49 1175.23h1.46v54.45h-1.46zM332.02 1175.23h1.46v54.45h-1.46zM410.93 1175.23h1.46v54.45h-1.46zM462.07 1175.23h2.92v54.45h-2.92zM485.46 1175.23h1.46v54.45h-1.46zM510.3 1175.23h1.46v54.45h-1.46zM557.06 1175.23h1.46v54.45h-1.46zM561.44 1175.23h2.92v54.45h-2.92zM678.35 1175.23h4.38v54.45h-4.38zM700.27 1175.23h1.46v54.45h-1.46zM713.42 1175.23h1.46v54.45h-1.46zM771.87 1175.23h1.46v54.45h-1.46zM811.33 1175.23h1.46v54.45h-1.46zM923.85 1175.23h1.46v54.45h-1.46zM928.23 1175.23h1.46v54.45h-1.46zM1001.29 1175.23h1.46v54.45h-1.46zM1053.9 1175.23h1.46v54.45h-1.46zM1096.28 1175.23h1.46v54.45h-1.46zM1100.66 1175.23h1.46v54.45h-1.46zM1132.81 1175.23h1.46v54.45h-1.46zM1195.65 1175.23h1.46v54.45h-1.46zM1220.49 1175.23h1.46v54.45h-1.46z"/>
<path fill="#d6e098" d="M137.67 1175.23h1.46v54.45h-1.46zM169.81 1175.23h1.46v54.45h-1.46zM175.66 1175.23h1.46v54.45h-1.46zM206.35 1175.23h1.46v54.45h-1.46zM235.57 1175.23h1.46v54.45h-1.46zM247.26 1175.23h1.46v54.45h-1.46zM253.11 1175.23h4.38v54.45h-4.38zM282.34 1175.23h2.92v54.45h-2.92zM324.71 1175.23h2.92v54.45h-2.92zM351.02 1175.23h1.46v54.45h-1.46zM361.25 1175.23h1.46v54.45h-1.46zM389.01 1175.23h1.46v54.45h-1.46zM394.86 1175.23h4.38v54.45h-4.38zM424.08 1175.23h1.46v54.45h-1.46zM450.38 1175.23h1.46v54.45h-1.46zM453.31 1175.23h1.46v54.45h-1.46zM511.76 1175.23h2.92v54.45h-2.92zM517.6 1175.23h1.46v54.45h-1.46zM532.22 1175.23h1.46v54.45h-1.46zM536.6 1175.23h2.92v54.45h-2.92zM540.99 1175.23h1.46v54.45h-1.46zM552.68 1175.23h2.92v54.45h-2.92zM676.89 1175.23h1.46v54.45h-1.46zM690.04 1175.23h1.46v54.45h-1.46zM777.72 1175.23h7.31v54.45h-7.31zM814.25 1175.23h2.92v54.45h-2.92zM863.93 1175.23h1.46v54.45h-1.46zM881.47 1175.23h1.46v54.45h-1.46zM907.77 1175.23h1.46v54.45h-1.46zM964.76 1175.23h4.38v54.45h-4.38zM1002.76 1175.23h1.46v54.45h-1.46zM1056.82 1175.23h1.46v54.45h-1.46zM1088.97 1175.23h2.92v54.45h-2.92zM1106.51 1175.23h1.46v54.45h-1.46zM1153.27 1175.23h1.46v54.45h-1.46zM1172.27 1175.23h1.46v54.45h-1.46zM1205.88 1175.23h1.46v54.45h-1.46zM1235.1 1175.23h1.46v54.45h-1.46z"/>
<path fill="#c7e09e" d="M140.59 1175.23h1.46v54.45h-1.46zM200.5 1175.23h1.46v54.45h-1.46zM209.27 1175.23h7.31v54.45h-7.31zM248.73 1175.23h1.46v54.45h-1.46zM258.95 1175.23h2.92v54.45h-2.92zM277.95 1175.23h4.38v54.45h-4.38zM292.56 1175.23h1.46v54.45h-1.46zM321.79 1175.23h2.92v54.45h-2.92zM456.23 1175.23h1.46v54.45h-1.46zM478.15 1175.23h2.92v54.45h-2.92zM483.99 1175.23h1.46v54.45h-1.46zM486.92 1175.23h1.46v54.45h-1.46zM497.15 1175.23h1.46v54.45h-1.46zM577.52 1175.23h2.92v54.45h-2.92zM723.65 1175.23h1.46v54.45h-1.46zM751.41 1175.23h1.46v54.45h-1.46zM766.03 1175.23h2.92v54.45h-2.92zM825.94 1175.23h1.46v54.45h-1.46zM896.08 1175.23h1.46v54.45h-1.46zM910.69 1175.23h2.92v54.45h-2.92zM919.46 1175.23h1.46v54.45h-1.46zM961.84 1175.23h1.46v54.45h-1.46zM985.22 1175.23h1.46v54.45h-1.46zM991.07 1175.23h1.46v54.45h-1.46zM1026.14 1175.23h1.46v54.45h-1.46zM1050.98 1175.23h1.46v54.45h-1.46zM1097.74 1175.23h2.92v54.45h-2.92zM1107.97 1175.23h1.46v54.45h-1.46zM1115.28 1175.23h1.46v54.45h-1.46zM1126.97 1175.23h1.46v54.45h-1.46zM1159.12 1175.23h1.46v54.45h-1.46z"/>
<path fill="#63d07b" d="M144.97 1175.23h1.46v54.45h-1.46zM251.65 1175.23h1.46v54.45h-1.46zM257.49 1175.23h1.46v54.45h-1.46zM431.39 1175.23h1.46v54.45h-1.46zM899 1175.23h1.46v54.45h-1.46zM904.85 1175.23h1.46v54.45h-1.46zM1061.21 1175.23h4.38v54.45h-4.38zM1164.96 1175.23h1.46v54.45h-1.46z"/>
<path fill="#f99556" d="M147.9 1175.23h1.46v54.45h-1.46zM163.97 1175.23h1.46v54.45h-1.46zM368.55 1175.23h2.92v54.45h-2.92zM1058.29 1175.23h1.46v54.45h-1.46z"/>
<path fill="#fdb566" d="M152.28 1175.23h1.46v54.45h-1.46zM159.59 1175.23h1.46v54.45h-1.46zM457.69 1175.23h1.46v54.45h-1.46zM596.51 1175.23h1.46v54.45h-1.46zM786.48 1175.23h1.46v54.45h-1.46zM850.78 1175.23h1.46v54.45h-1.46zM977.91 1175.23h1.46v54.45h-1.46z"/>
<path fill="#fca95f" d="M158.12 1175.23h1.46v54.45h-1.46zM581.9 1175.23h1.46v54.45h-1.46zM668.12 1175.23h1.46v54.45h-1.46zM672.5 1175.23h1.46v54.45h-1.46zM1021.75 1175.23h1.46v54.45h-1.46z"/>
<path fill="#fa9c59" d="M166.89 1175.23h1.46v54.45h-1.46zM590.67 1175.23h1.46v54.45h-1.46z"/>
<path fill="#7cd58a" d="M174.2 1175.23h1.46v54.45h-1.46zM270.64 1175.23h1.46v54.45h-1.46zM787.94 1175.23h1.46v54.45h-1.46zM969.15 1175.23h4.38v54.45h-4.38zM993.99 1175.23h1.46v54.45h-1.46zM1042.21 1175.23h1.46v54.45h-1.46zM1154.73 1175.23h1.46v54.45h-1.46z"/>
<path fill="#b0e0a6" d="M177.12 1175.23h4.38v54.45h-4.38zM199.04 1175.23h1.46v54.45h-1.46zM261.88 1175.23h4.38v54.45h-4.38zM285.26 1175.23h1.46v54.45h-1.46zM315.94 1175.23h2.92v54.45h-2.92zM349.55 1175.23h1.46v54.45h-1.46zM352.48 1175.23h1.46v54.45h-1.46zM362.71 1175.23h1.46v54.45h-1.46zM367.09 1175.23h1.46v54.45h-1.46zM384.63 1175.23h2.92v54.45h-2.92zM399.24 1175.23h1.46v54.45h-1.46zM412.39 1175.23h1.46v54.45h-1.46zM418.24 1175.23h4.38v54.45h-4.38zM470.84 1175.23h1.46v54.45h-1.46zM706.11 1175.23h1.46v54.45h-1.46zM714.88 1175.23h5.85v54.45h-5.85zM773.33 1175.23h1.46v54.45h-1.46zM852.24 1175.23h1.46v54.45h-1.46zM955.99 1175.23h1.46v54.45h-1.46zM1049.52 1175.23h1.46v54.45h-1.46zM1065.59 1175.23h1.46v54.45h-1.46zM1087.51 1175.23h1.46v54.45h-1.46zM1091.9 1175.23h4.38v54.45h-4.38zM1141.58 1175.23h7.31v54.45h-7.31z"/>
<path fill="#cee09b" d="M185.89 1175.23h1.46v54.45h-1.46zM311.56 1175.23h1.46v54.45h-1.46zM353.94 1175.23h1.46v54.45h-1.46zM359.78 1175.23h1.46v54.45h-1.46zM488.38 1175.23h1.46v54.45h-1.46zM558.52 1175.23h1.46v54.45h-1.46zM580.44 1175.23h1.46v54.45h-1.46zM675.42 1175.23h1.46v54.45h-1.46zM711.96 1175.23h1.46v54.45h-1.46zM809.86 1175.23h1.46v54.45h-1.46zM861.01 1175.23h1.46v54.45h-1.46zM909.23 1175.23h1.46v54.45h-1.46zM976.45 1175.23h1.46v54.45h-1.46zM992.53 1175.23h1.46v54.45h-1.46zM1007.14 1175.23h2.92v54.45h-2.92zM1023.21 1175.23h1.46v54.45h-1.46zM1067.05 1175.23h1.46v54.45h-1.46zM1069.98 1175.23h1.46v54.45h-1.46zM1077.28 1175.23h1.46v54.45h-1.46zM1084.59 1175.23h1.46v54.45h-1.46zM1128.43 1175.23h1.46v54.45h-1.46zM1140.12 1175.23h1.46v54.45h-1.46zM1233.64 1175.23h1.46v54.45h-1.46zM1236.56 1175.23h1.46v54.45h-1.46z"/>
<path fill="#fcd27f" d="M190.27 1175.23h1.46v54.45h-1.46zM371.47 1175.23h4.38v54.45h-4.38zM451.85 1175.23h1.46v54.45h-1.46zM465 1175.23h1.46v54.45h-1.46zM469.38 1175.23h1.46v54.45h-1.46zM489.84 1175.23h2.92v54.45h-2.92zM529.29 1175.23h2.92v54.45h-2.92zM684.19 1175.23h1.46v54.45h-1.46zM692.96 1175.23h2.92v54.45h-2.92zM844.94 1175.23h1.46v54.45h-1.46zM872.7 1175.23h2.92v54.45h-2.92zM1078.74 1175.23h2.92v54.45h-2.92zM1169.34 1175.23h2.92v54.45h-2.92zM1173.73 1175.23h1.46v54.45h-1.46zM1179.57 1175.23h1.46v54.45h-1.46z"/>
<path fill="#96db98" d="M193.2 1175.23h1.46v54.45h-1.46zM232.65 1175.23h1.46v54.45h-1.46zM415.31 1175.23h1.46v54.45h-1.46zM476.69 1175.23h1.46v54.45h-1.46zM539.52 1175.23h1.46v54.45h-1.46zM576.06 1175.23h1.46v54.45h-1.46zM761.64 1175.23h1.46v54.45h-1.46zM764.56 1175.23h1.46v54.45h-1.46zM824.48 1175.23h1.46v54.45h-1.46zM885.85 1175.23h1.46v54.45h-1.46zM906.31 1175.23h1.46v54.45h-1.46zM929.69 1175.23h1.46v54.45h-1.46zM942.84 1175.23h2.92v54.45h-2.92zM998.37 1175.23h1.46v54.45h-1.46zM1034.9 1175.23h1.46v54.45h-1.46zM1068.51 1175.23h1.46v54.45h-1.46z"/>
<path fill="#dee096" d="M196.12 1175.23h1.46v54.45h-1.46zM204.89 1175.23h1.46v54.45h-1.46zM241.42 1175.23h1.46v54.45h-1.46zM299.87 1175.23h1.46v54.45h-1.46zM333.48 1175.23h5.85v54.45h-5.85zM356.86 1175.23h2.92v54.45h-2.92zM387.55 1175.23h1.46v54.45h-1.46zM443.08 1175.23h2.92v54.45h-2.92zM473.77 1175.23h1.46v54.45h-1.46zM514.68 1175.23h2.92v54.45h-2.92zM521.99 1175.23h1.46v54.45h-1.46zM546.83 1175.23h1.46v54.45h-1.46zM549.75 1175.23h2.92v54.45h-2.92zM559.98 1175.23h1.46v54.45h-1.46zM568.75 1175.23h1.46v54.45h-1.46zM573.13 1175.23h2.92v54.45h-2.92zM619.9 1175.23h1.46v54.45h-1.46zM697.34 1175.23h2.92v54.45h-2.92zM722.19 1175.23h1.46v54.45h-1.46zM729.49 1175.23h1.46v54.45h-1.46zM806.94 1175.23h1.46v54.45h-1.46zM846.4 1175.23h1.46v54.45h-1.46zM882.93 1175.23h2.92v54.45h-2.92zM887.31 1175.23h4.38v54.45h-4.38zM1052.44 1175.23h1.46v54.45h-1.46zM1102.12 1175.23h1.46v54.45h-1.46zM1113.81 1175.23h1.46v54.45h-1.46zM1191.26 1175.23h1.46v54.45h-1.46z"/>
<path fill="#a3dd9f" d="M197.58 1175.23h1.46v54.45h-1.46zM320.33 1175.23h1.46v54.45h-1.46zM342.25 1175.23h1.46v54.45h-1.46zM400.7 1175.23h1.46v54.45h-1.46zM432.85 1175.23h2.92v54.45h-2.92zM519.07 1175.23h1.46v54.45h-1.46zM527.83 1175.23h1.46v54.45h-1.46zM828.86 1175.23h1.46v54.45h-1.46zM856.63 1175.23h1.46v54.45h-1.46zM875.62 1175.23h2.92v54.45h-2.92zM897.54 1175.23h1.46v54.45h-1.46zM988.14 1175.23h2.92v54.45h-2.92zM1004.22 1175.23h1.46v54.45h-1.46zM1221.95 1175.23h1.46v54.45h-1.46z"/>
<path fill="#56cd74" d="M250.19 1175.23h1.46v54.45h-1.46zM429.93 1175.23h1.46v54.45h-1.46zM482.53 1175.23h1.46v54.45h-1.46zM495.68 1175.23h1.46v54.45h-1.46zM1116.74 1175.23h1.46v54.45h-1.46zM1119.66 1175.23h1.46v54.45h-1.46z"/>
<path fill="#70d382" d="M286.72 1175.23h2.92v54.45h-2.92zM313.02 1175.23h2.92v54.45h-2.92zM785.02 1175.23h1.46v54.45h-1.46zM789.41 1175.23h1.46v54.45h-1.46zM820.09 1175.23h1.46v54.45h-1.46zM903.39 1175.23h1.46v54.45h-1.46zM941.38 1175.23h1.46v54.45h-1.46z"/>
<path fill="#89d891" d="M345.17 1175.23h1.46v54.45h-1.46zM413.85 1175.23h1.46v54.45h-1.46zM459.15 1175.23h2.92v54.45h-2.92zM507.38 1175.23h1.46v54.45h-1.46zM728.03 1175.23h1.46v54.45h-1.46zM733.88 1175.23h2.92v54.45h-2.92zM738.26 1175.23h1.46v54.45h-1.46zM742.64 1175.23h1.46v54.45h-1.46zM979.38 1175.23h2.92v54.45h-2.92zM1071.44 1175.23h4.38v54.45h-4.38zM1086.05 1175.23h1.46v54.45h-1.46zM1105.05 1175.23h1.46v54.45h-1.46z"/>
<path fill="#fdc372" d="M380.24 1175.23h1.46v54.45h-1.46zM665.2 1175.23h1.46v54.45h-1.46zM1202.95 1175.23h2.92v54.45h-2.92z"/>
<path fill="#fdb062" d="M402.16 1175.23h2.92v54.45h-2.92z"/>
<path fill="#fcd683" d="M408.01 1175.23h1.46v54.45h-1.46zM454.77 1175.23h1.46v54.45h-1.46zM466.46 1175.23h2.92v54.45h-2.92zM472.3 1175.23h1.46v54.45h-1.46zM492.76 1175.23h2.92v54.45h-2.92zM548.29 1175.23h1.46v54.45h-1.46zM726.57 1175.23h1.46v54.45h-1.46zM752.87 1175.23h1.46v54.45h-1.46zM798.17 1175.23h1.46v54.45h-1.46zM833.25 1175.23h4.38v54.45h-4.38zM1011.52 1175.23h7.31v54.45h-7.31zM1103.59 1175.23h1.46v54.45h-1.46zM1166.42 1175.23h2.92v54.45h-2.92zM1186.88 1175.23h1.46v54.45h-1.46z"/>
<path fill="#f8884f" d="M583.36 1175.23h1.46v54.45h-1.46zM865.39 1175.23h2.92v54.45h-2.92z"/>
<path fill="#f7814c" d="M584.82 1175.23h1.46v54.45h-1.46zM666.66 1175.23h1.46v54.45h-1.46z"/>
<path fill="#f67a49" d="M586.29 1175.23h1.46v54.45h-1.46z"/>
<path fill="#f16945" d="M587.75 1175.23h1.46v54.45h-1.46zM660.81 1175.23h1.46v54.45h-1.46z"/>
<path fill="#e95d4b" d="M589.21 1175.23h1.46v54.45h-1.46z"/>
<path fill="#f88e52" d="M593.59 1175.23h1.46v54.45h-1.46zM597.98 1175.23h1.46v54.45h-1.46z"/>
<path fill="#fdba6a" d="M595.05 1175.23h1.46v54.45h-1.46zM671.04 1175.23h1.46v54.45h-1.46zM847.86 1175.23h2.92v54.45h-2.92zM1197.11 1175.23h2.92v54.45h-2.92zM1217.57 1175.23h2.92v54.45h-2.92zM1223.41 1175.23h1.46v54.45h-1.46z"/>
<path fill="#274ca0" d="M599.44 1175.23h1.46v54.45h-1.46zM603.82 1175.23h1.46v54.45h-1.46zM606.74 1175.23h1.46v54.45h-1.46zM611.13 1175.23h2.92v54.45h-2.92zM624.28 1175.23h1.46v54.45h-1.46zM644.74 1175.23h1.46v54.45h-1.46zM650.58 1175.23h1.46v54.45h-1.46zM654.97 1175.23h5.85v54.45h-5.85z"/>
<path fill="#27479d" d="M600.9 1175.23h1.46v54.45h-1.46zM605.28 1175.23h1.46v54.45h-1.46zM609.67 1175.23h1.46v54.45h-1.46zM618.43 1175.23h1.46v54.45h-1.46zM622.82 1175.23h1.46v54.45h-1.46zM630.12 1175.23h1.46v54.45h-1.46zM643.28 1175.23h1.46v54.45h-1.46zM646.2 1175.23h1.46v54.45h-1.46zM652.04 1175.23h1.46v54.45h-1.46z"/>
<path fill="#26908a" d="M602.36 1175.23h1.46v54.45h-1.46z"/>
<path fill="#28439a" d="M608.21 1175.23h1.46v54.45h-1.46zM616.97 1175.23h1.46v54.45h-1.46zM627.2 1175.23h1.46v54.45h-1.46zM631.59 1175.23h4.38v54.45h-4.38zM653.51 1175.23h1.46v54.45h-1.46z"/>
<path fill="#3cc866" d="M614.05 1175.23h2.92v54.45h-2.92z"/>
<path fill="#299984" d="M621.36 1175.23h1.46v54.45h-1.46zM637.43 1175.23h5.85v54.45h-5.85z"/>
<path fill="#2650a2" d="M625.74 1175.23h1.46v54.45h-1.46zM628.66 1175.23h1.46v54.45h-1.46z"/>
<path fill="#31ac78" d="M635.97 1175.23h1.46v54.45h-1.46zM649.12 1175.23h1.46v54.45h-1.46z"/>
<path fill="#2655a4" d="M647.66 1175.23h1.46v54.45h-1.46z"/>
<path fill="#f57446" d="M662.27 1175.23h2.92v54.45h-2.92z"/>
<path fill="#35b572" d="M932.61 1175.23h1.46v54.45h-1.46z"/>
<path fill="#b3b3b3" d="M131.62 1229.68h3.75v38.4h-3.75zM145.12 1229.68h3.75v38.4h-3.75zM188.12 1229.68h3.75v38.4h-3.75zM215.12 1229.68h3.75v38.4h-3.75zM252.12 1229.68h3.75v38.4h-3.75zM284.12 1229.68h3.75v38.4h-3.75zM294.12 1229.68h3.75v38.4h-3.75zM321.5 1229.68h4.5v38.4h-4.5zM328.12 1229.68h3.75v38.4h-3.75zM377.38 1229.68h3.75v38.4h-3.75zM411.62 1229.68h3.75v38.4h-3.75zM432.12 1229.68h3.75v38.4h-3.75zM448 1229.68h7.5v38.4h-7.5zM460 1229.68h4.5v38.4h-4.5zM473.25 1229.68h4.5v38.4h-4.5zM502 1229.68h4.5v38.4h-4.5zM512.62 1229.68h3.75v38.4h-3.75zM524.38 1229.68h3.75v38.4h-3.75zM616 1229.68h3.5v38.4h-3.5zM641.5 1229.68h4.5v38.4h-4.5zM657.88 1229.68h3.75v38.4h-3.75zM683.12 1229.68h3.75v38.4h-3.75zM698 1229.68h6v38.4h-6zM705.75 1229.68h6v38.4h-6zM714.88 1229.68h3.75v38.4h-3.75zM721.75 1229.68h6v38.4h-6zM737.25 1229.68h6v38.4h-6zM754.88 1229.68h3.75v38.4h-3.75zM776.88 1229.68h3.75v38.4h-3.75zM782.12 1229.68h3.75v38.4h-3.75zM797 1229.68h8.5v38.4h-8.5zM806.88 1229.68h7.25v38.4h-7.25zM851.62 1229.68h3.75v38.4h-3.75zM862.25 1229.68h4.5v38.4h-4.5zM889.12 1229.68h3.75v38.4h-3.75zM900.75 1229.68h6.5v38.4h-6.5zM913.12 1229.68h3.75v38.4h-3.75zM933.12 1229.68h3.75v38.4h-3.75zM953.5 1229.68h4.5v38.4h-4.5zM978.25 1229.68h7v38.4h-7zM1002.12 1229.68h3.75v38.4h-3.75zM1009.38 1229.68h3.75v38.4h-3.75zM1030.12 1229.68h3.75v38.4h-3.75zM1073.88 1229.68h8.75v38.4h-8.75zM1123.12 1229.68h3.75v38.4h-3.75zM1134.25 1229.68h4.5v38.4h-4.5zM1172.75 1229.68h6.5v38.4h-6.5zM1196.12 1229.68h3.75v38.4h-3.75zM1226.12 1229.68h3.75v38.4h-3.75z"/>
<path fill="#ffa500" d="M604.62 1229.68h3.75v38.4h-3.75zM614.25 1229.68h2v38.4h-2zM653.88 1229.68h3.75v38.4h-3.75z"/>
<path fill="#cc0000" d="M647.38 1229.68h3.75v38.4h-3.75z"/>
<line x1="86.2" x2="94.1" y1="1157.28" y2="1157.28" stroke="#333" stroke-width="3.6"/>
<text class="yl" x="79.6" y="1166.18">10</text>
<line x1="86.2" x2="94.1" y1="1133" y2="1133" stroke="#333" stroke-width="3.6"/>
<text class="yl" x="79.6" y="1141.9">30</text>
<line x1="86.2" x2="94.1" y1="1108.72" y2="1108.72" stroke="#333" stroke-width="3.6"/>
<text class="yl" x="79.6" y="1117.62">50</text>
<line x1="86.2" x2="94.1" y1="1084.51" y2="1084.51" stroke="#333" stroke-width="3.6"/>
<text class="yl" x="79.6" y="1093.41">70</text>
<rect x="1951.15" y="1077.1" width="48.85" height="206.1" fill="#d9d9d9"/>
<text class="st" transform="translate(1963.6 1095) rotate(90)">Contig 6</text>
</g>
<path fill="none" stroke="#ff0000" stroke-width="3.75" stroke-linecap="square" stroke-dasharray="3.69 11.07" d="M97.06 9.25H210.02V197.02H97.06"/>
<path fill="none" stroke="#ff0000" stroke-width="3.75" stroke-linecap="square" stroke-dasharray="3.69 11.07" stroke-dashoffset="6.77" d="M97.06 9.25V197.02"/>
<path fill="none" stroke="#ff0000" stroke-width="3.75" stroke-linecap="square" stroke-dasharray="3.69 11.07" d="M97.06 863.36H210.02V1050.96H97.06"/>
<path fill="none" stroke="#ff0000" stroke-width="3.75" stroke-linecap="square" stroke-dasharray="3.69 11.07" stroke-dashoffset="7.14" d="M97.06 863.36V1050.96"/>
<path fill="none" stroke="#0066ff" stroke-width="3.75" stroke-linecap="square" stroke-dasharray="3.67 11.01" d="M96.98 435.09H152.9V622.77H96.98"/>
<path fill="none" stroke="#0066ff" stroke-width="3.75" stroke-linecap="square" stroke-dasharray="3.67 11.01" stroke-dashoffset="2.45" d="M96.98 435.09V622.77"/>
<path fill="none" stroke="#0066ff" stroke-width="3.75" stroke-linecap="square" stroke-dasharray="3.67 11.01" d="M1183.25 1084.51H1239.5V1272.28H1183.25"/>
<path fill="none" stroke="#0066ff" stroke-width="3.75" stroke-linecap="square" stroke-dasharray="3.67 11.01" stroke-dashoffset="1.53" d="M1183.25 1084.51V1272.28"/>
<line x1="96.9" x2="96.9" y1="1281.3" y2="1289" stroke="#333" stroke-width="3.5"/>
<text class="xl" x="95.75" y="1313.2">0M</text>
<line x1="243.03" x2="243.03" y1="1281.3" y2="1289" stroke="#333" stroke-width="3.5"/>
<line x1="389.15" x2="389.15" y1="1281.3" y2="1289" stroke="#333" stroke-width="3.5"/>
<text class="xl" x="388" y="1313.2">1M</text>
<line x1="535.27" x2="535.27" y1="1281.3" y2="1289" stroke="#333" stroke-width="3.5"/>
<line x1="681.4" x2="681.4" y1="1281.3" y2="1289" stroke="#333" stroke-width="3.5"/>
<text class="xl" x="680.25" y="1313.2">2M</text>
<line x1="827.52" x2="827.52" y1="1281.3" y2="1289" stroke="#333" stroke-width="3.5"/>
<line x1="973.65" x2="973.65" y1="1281.3" y2="1289" stroke="#333" stroke-width="3.5"/>
<text class="xl" x="972.5" y="1313.2">3M</text>
<line x1="1119.78" x2="1119.78" y1="1281.3" y2="1289" stroke="#333" stroke-width="3.5"/>
<line x1="1265.9" x2="1265.9" y1="1281.3" y2="1289" stroke="#333" stroke-width="3.5"/>
<text class="xl" x="1264.75" y="1313.2">4M</text>
<line x1="1412.03" x2="1412.03" y1="1281.3" y2="1289" stroke="#333" stroke-width="3.5"/>
<line x1="1558.15" x2="1558.15" y1="1281.3" y2="1289" stroke="#333" stroke-width="3.5"/>
<text class="xl" x="1557" y="1313.2">5M</text>
<line x1="1704.28" x2="1704.28" y1="1281.3" y2="1289" stroke="#333" stroke-width="3.5"/>
<line x1="1850.4" x2="1850.4" y1="1281.3" y2="1289" stroke="#333" stroke-width="3.5"/>
<text class="xl" x="1849.25" y="1313.2">6M</text>
<text class="at" x="1004" y="1378.6">Contig position (Mbp)</text>
<text class="at" transform="translate(28 635.4) rotate(-90)">Gene density (per 100 Kbp)</text>
<g id="legend">
<rect x="1715.1" y="488.5" width="181.9" height="689.6" fill="#fff" stroke="#000" stroke-width="2.2"/>
<text class="lt" x="1728" y="529">GC content</text>
<text class="lt" x="1728.2" y="558.5">(%)</text>
<rect x="1731" y="591" width="47.5" height="235.5" fill="url(#cb)"/>
<rect x="1731" y="591" width="47.5" height="235.5" fill="url(#cw)"/>
<path stroke="#fff" stroke-width="1.1" d="M1731 597.6h9M1769.5 597.6h9"/>
<text class="cl" x="1789.2" y="605.8">80</text>
<path stroke="#fff" stroke-width="1.1" d="M1731 663.05h9M1769.5 663.05h9"/>
<text class="cl" x="1789.2" y="671.25">70</text>
<path stroke="#fff" stroke-width="1.1" d="M1731 728.5h9M1769.5 728.5h9"/>
<text class="cl" x="1789.2" y="736.7">60</text>
<path stroke="#fff" stroke-width="1.1" d="M1731 793.95h9M1769.5 793.95h9"/>
<text class="cl" x="1789.2" y="802.15">50</text>
<text class="lt" x="1734.6" y="868.3">Repeats</text>
<text class="lt" x="1734.3" y="897" style="letter-spacing:.85px">(&gt; 500 bp)</text>
<rect x="1737" y="923.4" width="18.5" height="56.4" fill="#cc0000"/>
<text class="ll" x="1773.7" y="961.4">R_13</text>
<rect x="1737" y="987.4" width="18.5" height="56.4" fill="#ffa500"/>
<text class="ll" x="1773.7" y="1025.4">R_25</text>
<rect x="1737" y="1051.4" width="18.5" height="56.4" fill="#00cc00"/>
<text class="ll" x="1773.7" y="1089.4">R_80</text>
<rect x="1737" y="1115.4" width="18.5" height="56.4" fill="#b3b3b3"/>
<text class="ll" x="1773.7" y="1147.8">other</text>
</g>
</svg></body></html>
